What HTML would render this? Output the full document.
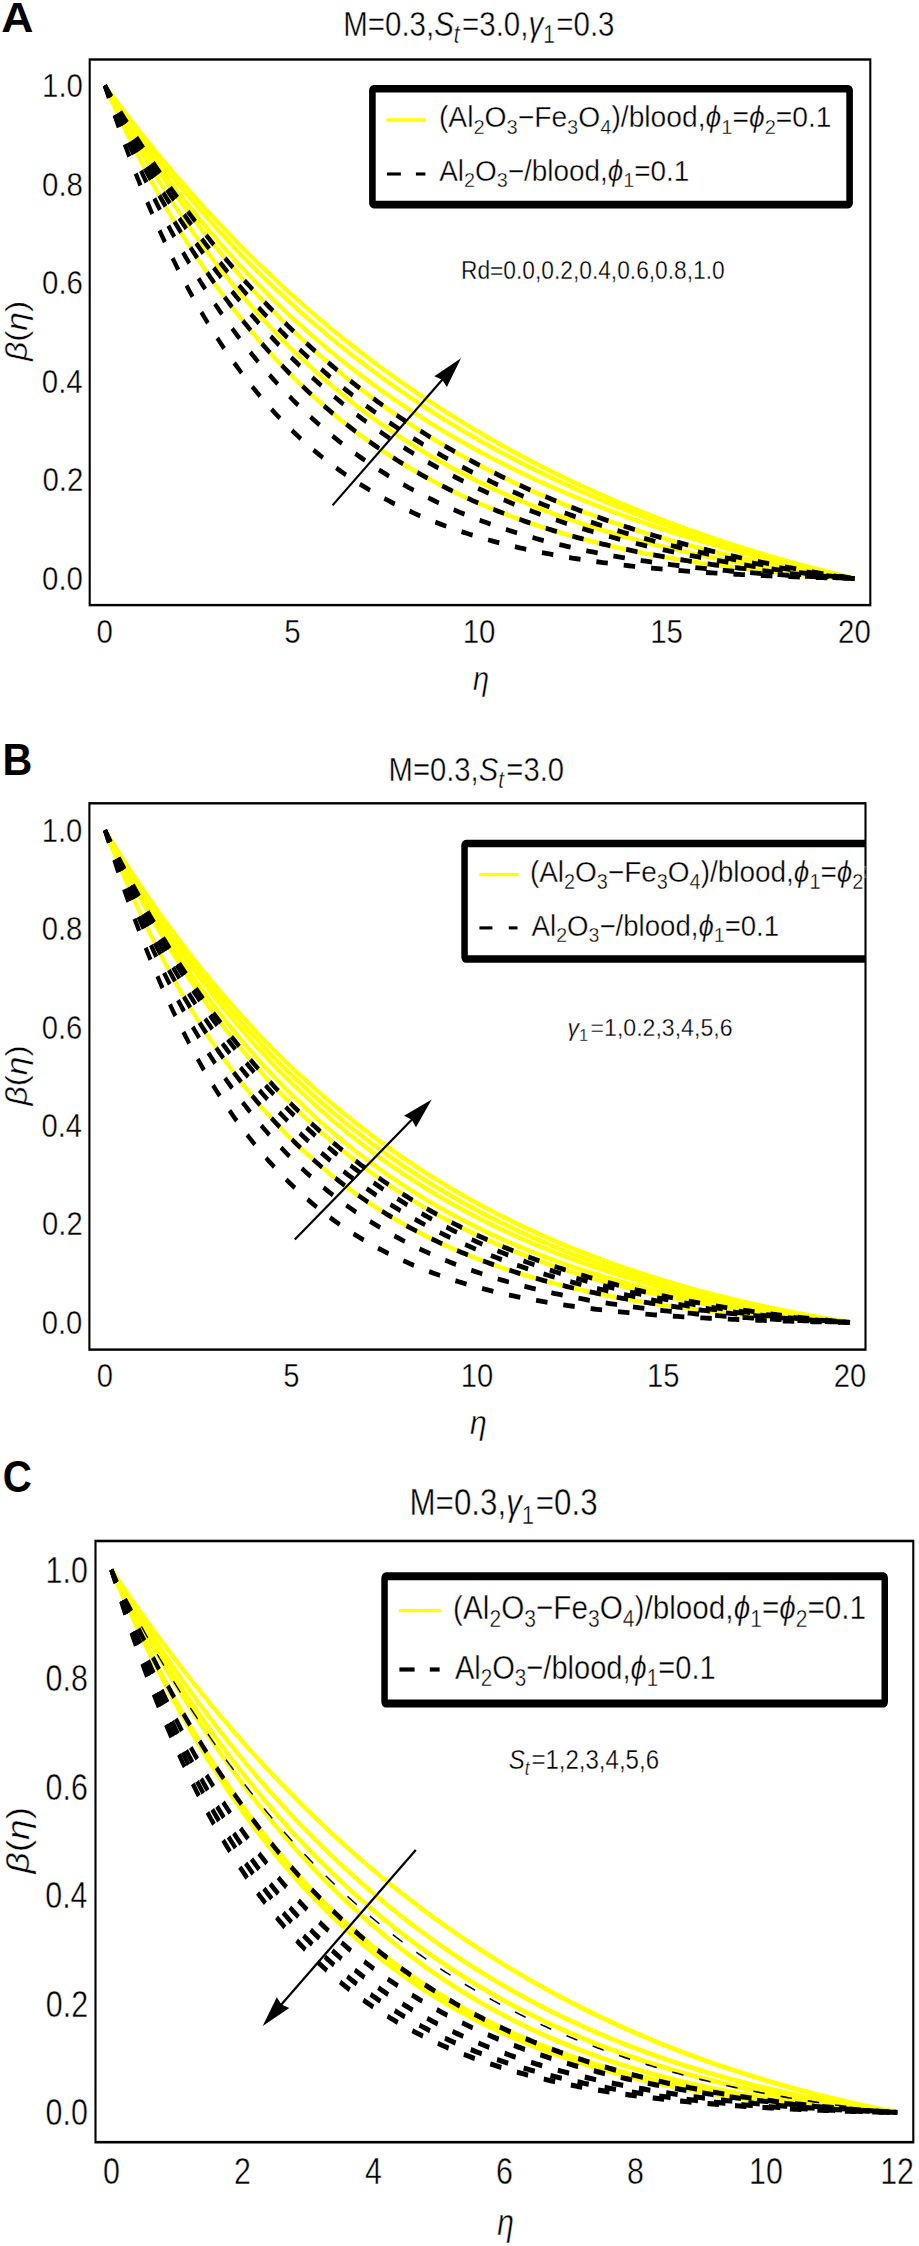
<!DOCTYPE html><html><head><meta charset="utf-8"><style>html,body{margin:0;padding:0;background:#fff;}svg{display:block;}</style></head><body><svg width="919" height="2246" viewBox="0 0 919 2246"><rect width="919" height="2246" fill="#fff"/><g transform="scale(1,1.15)"><clipPath id="clipA"><rect x="89.70" y="51.739" width="780.60" height="474.435"/></clipPath><g clip-path="url(#clipA)"><path d="M104.80,74.348 107.69,77.778 110.59,81.187 113.48,84.573 116.38,87.939 119.27,91.282 122.17,94.604 125.06,97.905 127.96,101.185 130.85,104.444 133.75,107.682 136.64,110.899 139.54,114.096 142.43,117.273 145.32,120.429 148.22,123.564 151.11,126.680 154.01,129.776 156.90,132.851 159.80,135.908 162.69,138.944 165.59,141.961 168.48,144.959 171.38,147.938 174.27,150.897 177.16,153.837 180.06,156.759 182.95,159.662 185.85,162.546 188.74,165.411 191.64,168.258 194.53,171.087 197.43,173.898 200.32,176.691 203.22,179.465 206.11,182.222 209.01,184.961 211.90,187.682 214.79,190.386 217.69,193.073 220.58,195.742 223.48,198.394 226.37,201.029 229.27,203.646 232.16,206.247 235.06,208.832 237.95,211.399 240.85,213.950 243.74,216.484 246.64,219.003 249.53,221.504 252.42,223.990 255.32,226.459 258.21,228.913 261.11,231.351 264.00,233.773 266.90,236.179 269.79,238.570 272.69,240.945 275.58,243.305 278.48,245.649 281.37,247.978 284.26,250.293 287.16,252.592 290.05,254.876 292.95,257.146 295.84,259.400 298.74,261.640 301.63,263.866 304.53,266.077 307.42,268.273 310.32,270.456 313.21,272.624 316.11,274.778 319.00,276.918 321.89,279.044 324.79,281.156 327.68,283.255 330.58,285.340 333.47,287.411 336.37,289.469 339.26,291.513 342.16,293.544 345.05,295.561 347.95,297.566 350.84,299.557 353.74,301.535 356.63,303.501 359.52,305.453 362.42,307.393 365.31,309.320 368.21,311.235 371.10,313.136 374.00,315.026 376.89,316.903 379.79,318.768 382.68,320.620 385.58,322.460 388.47,324.288 391.36,326.105 394.26,327.909 397.15,329.701 400.05,331.482 402.94,333.251 405.84,335.008 408.73,336.754 411.63,338.488 414.52,340.210 417.42,341.922 420.31,343.622 423.21,345.311 426.10,346.988 428.99,348.655 431.89,350.310 434.78,351.955 437.68,353.589 440.57,355.212 443.47,356.824 446.36,358.425 449.26,360.016 452.15,361.597 455.05,363.166 457.94,364.726 460.84,366.275 463.73,367.814 466.62,369.342 469.52,370.861 472.41,372.369 475.31,373.867 478.20,375.355 481.10,376.834 483.99,378.302 486.89,379.761 489.78,381.210 492.68,382.649 495.57,384.079 498.46,385.499 501.36,386.910 504.25,388.311 507.15,389.703 510.04,391.085 512.94,392.459 515.83,393.823 518.73,395.178 521.62,396.523 524.52,397.860 527.41,399.188 530.31,400.507 533.20,401.817 536.09,403.118 538.99,404.410 541.88,405.694 544.78,406.969 547.67,408.236 550.57,409.494 553.46,410.743 556.36,411.984 559.25,413.217 562.15,414.441 565.04,415.657 567.94,416.865 570.83,418.064 573.72,419.256 576.62,420.439 579.51,421.614 582.41,422.782 585.30,423.941 588.20,425.093 591.09,426.237 593.99,427.372 596.88,428.501 599.78,429.621 602.67,430.734 605.56,431.839 608.46,432.937 611.35,434.027 614.25,435.110 617.14,436.185 620.04,437.253 622.93,438.314 625.83,439.368 628.72,440.414 631.62,441.453 634.51,442.485 637.41,443.510 640.30,444.527 643.19,445.538 646.09,446.542 648.98,447.539 651.88,448.529 654.77,449.512 657.67,450.488 660.56,451.458 663.46,452.421 666.35,453.377 669.25,454.327 672.14,455.270 675.04,456.206 677.93,457.136 680.82,458.060 683.72,458.977 686.61,459.888 689.51,460.792 692.40,461.690 695.30,462.582 698.19,463.468 701.09,464.347 703.98,465.221 706.88,466.088 709.77,466.949 712.66,467.804 715.56,468.653 718.45,469.496 721.35,470.333 724.24,471.165 727.14,471.990 730.03,472.810 732.93,473.624 735.82,474.432 738.72,475.235 741.61,476.031 744.51,476.823 747.40,477.608 750.29,478.388 753.19,479.163 756.08,479.932 758.98,480.695 761.87,481.454 764.77,482.206 767.66,482.954 770.56,483.696 773.45,484.433 776.35,485.164 779.24,485.890 782.14,486.611 785.03,487.327 787.92,488.038 790.82,488.744 793.71,489.445 796.61,490.140 799.50,490.831 802.40,491.517 805.29,492.197 808.19,492.873 811.08,493.544 813.98,494.210 816.87,494.871 819.76,495.528 822.66,496.180 825.55,496.827 828.45,497.469 831.34,498.107 834.24,498.740 837.13,499.368 840.03,499.992 842.92,500.611 845.82,501.226 848.71,501.836 851.61,502.442 854.50,503.043" fill="none" stroke="#ffff00" stroke-width="4.0" stroke-linejoin="round"/><path d="M104.80,74.348 107.69,78.032 110.59,81.689 113.48,85.318 116.38,88.921 119.27,92.498 122.17,96.048 125.06,99.572 127.96,103.069 130.85,106.541 133.75,109.988 136.64,113.409 139.54,116.805 142.43,120.176 145.32,123.522 148.22,126.843 151.11,130.140 154.01,133.413 156.90,136.661 159.80,139.886 162.69,143.087 165.59,146.264 168.48,149.418 171.38,152.549 174.27,155.657 177.16,158.742 180.06,161.804 182.95,164.844 185.85,167.862 188.74,170.857 191.64,173.830 194.53,176.782 197.43,179.711 200.32,182.620 203.22,185.507 206.11,188.372 209.01,191.217 211.90,194.041 214.79,196.844 217.69,199.627 220.58,202.389 223.48,205.131 226.37,207.852 229.27,210.554 232.16,213.236 235.06,215.899 237.95,218.542 240.85,221.165 243.74,223.769 246.64,226.355 249.53,228.921 252.42,231.468 255.32,233.997 258.21,236.508 261.11,239.000 264.00,241.474 266.90,243.929 269.79,246.367 272.69,248.787 275.58,251.189 278.48,253.574 281.37,255.941 284.26,258.291 287.16,260.623 290.05,262.939 292.95,265.238 295.84,267.520 298.74,269.785 301.63,272.034 304.53,274.266 307.42,276.482 310.32,278.682 313.21,280.866 316.11,283.034 319.00,285.186 321.89,287.322 324.79,289.443 327.68,291.548 330.58,293.638 333.47,295.713 336.37,297.772 339.26,299.817 342.16,301.846 345.05,303.861 347.95,305.861 350.84,307.847 353.74,309.818 356.63,311.775 359.52,313.717 362.42,315.646 365.31,317.560 368.21,319.460 371.10,321.347 374.00,323.220 376.89,325.079 379.79,326.924 382.68,328.757 385.58,330.576 388.47,332.381 391.36,334.174 394.26,335.953 397.15,337.720 400.05,339.473 402.94,341.214 405.84,342.942 408.73,344.658 411.63,346.361 414.52,348.052 417.42,349.731 420.31,351.397 423.21,353.051 426.10,354.694 428.99,356.324 431.89,357.942 434.78,359.549 437.68,361.144 440.57,362.727 443.47,364.299 446.36,365.860 449.26,367.409 452.15,368.947 455.05,370.474 457.94,371.990 460.84,373.494 463.73,374.988 466.62,376.471 469.52,377.943 472.41,379.405 475.31,380.856 478.20,382.296 481.10,383.726 483.99,385.145 486.89,386.555 489.78,387.954 492.68,389.343 495.57,390.721 498.46,392.090 501.36,393.449 504.25,394.798 507.15,396.138 510.04,397.467 512.94,398.787 515.83,400.097 518.73,401.398 521.62,402.690 524.52,403.972 527.41,405.245 530.31,406.508 533.20,407.763 536.09,409.008 538.99,410.245 541.88,411.472 544.78,412.690 547.67,413.900 550.57,415.101 553.46,416.293 556.36,417.477 559.25,418.652 562.15,419.818 565.04,420.977 567.94,422.126 570.83,423.268 573.72,424.401 576.62,425.526 579.51,426.642 582.41,427.751 585.30,428.852 588.20,429.945 591.09,431.029 593.99,432.106 596.88,433.176 599.78,434.237 602.67,435.291 605.56,436.337 608.46,437.376 611.35,438.407 614.25,439.430 617.14,440.447 620.04,441.455 622.93,442.457 625.83,443.451 628.72,444.439 631.62,445.419 634.51,446.392 637.41,447.357 640.30,448.316 643.19,449.268 646.09,450.214 648.98,451.152 651.88,452.083 654.77,453.008 657.67,453.926 660.56,454.838 663.46,455.743 666.35,456.641 669.25,457.533 672.14,458.418 675.04,459.297 677.93,460.170 680.82,461.036 683.72,461.897 686.61,462.750 689.51,463.598 692.40,464.440 695.30,465.275 698.19,466.105 701.09,466.928 703.98,467.746 706.88,468.558 709.77,469.363 712.66,470.163 715.56,470.958 718.45,471.746 721.35,472.529 724.24,473.306 727.14,474.078 730.03,474.844 732.93,475.604 735.82,476.359 738.72,477.108 741.61,477.853 744.51,478.591 747.40,479.325 750.29,480.053 753.19,480.776 756.08,481.493 758.98,482.206 761.87,482.913 764.77,483.615 767.66,484.312 770.56,485.004 773.45,485.692 776.35,486.374 779.24,487.051 782.14,487.723 785.03,488.391 787.92,489.054 790.82,489.711 793.71,490.365 796.61,491.013 799.50,491.657 802.40,492.296 805.29,492.930 808.19,493.560 811.08,494.186 813.98,494.807 816.87,495.423 819.76,496.035 822.66,496.643 825.55,497.246 828.45,497.845 831.34,498.439 834.24,499.029 837.13,499.615 840.03,500.197 842.92,500.775 845.82,501.348 848.71,501.917 851.61,502.482 854.50,503.043" fill="none" stroke="#ffff00" stroke-width="4.0" stroke-linejoin="round"/><path d="M104.80,74.348 107.69,78.409 110.59,82.435 113.48,86.426 116.38,90.382 119.27,94.303 122.17,98.190 125.06,102.043 127.96,105.862 130.85,109.648 133.75,113.400 136.64,117.121 139.54,120.808 142.43,124.464 145.32,128.088 148.22,131.680 151.11,135.241 154.01,138.771 156.90,142.270 159.80,145.739 162.69,149.178 165.59,152.587 168.48,155.967 171.38,159.317 174.27,162.638 177.16,165.930 180.06,169.194 182.95,172.430 185.85,175.638 188.74,178.818 191.64,181.971 194.53,185.097 197.43,188.195 200.32,191.267 203.22,194.312 206.11,197.332 209.01,200.325 211.90,203.292 214.79,206.235 217.69,209.151 220.58,212.043 223.48,214.910 226.37,217.752 229.27,220.571 232.16,223.364 235.06,226.134 237.95,228.881 240.85,231.604 243.74,234.303 246.64,236.980 249.53,239.634 252.42,242.265 255.32,244.873 258.21,247.460 261.11,250.024 264.00,252.567 266.90,255.088 269.79,257.588 272.69,260.066 275.58,262.523 278.48,264.960 281.37,267.376 284.26,269.771 287.16,272.146 290.05,274.501 292.95,276.836 295.84,279.151 298.74,281.447 301.63,283.724 304.53,285.981 307.42,288.219 310.32,290.438 313.21,292.639 316.11,294.821 319.00,296.985 321.89,299.130 324.79,301.258 327.68,303.367 330.58,305.459 333.47,307.534 336.37,309.591 339.26,311.630 342.16,313.653 345.05,315.659 347.95,317.648 350.84,319.620 353.74,321.576 356.63,323.516 359.52,325.439 362.42,327.347 365.31,329.238 368.21,331.114 371.10,332.974 374.00,334.819 376.89,336.648 379.79,338.462 382.68,340.261 385.58,342.045 388.47,343.815 391.36,345.570 394.26,347.310 397.15,349.036 400.05,350.747 402.94,352.445 405.84,354.128 408.73,355.797 411.63,357.453 414.52,359.095 417.42,360.724 420.31,362.339 423.21,363.941 426.10,365.530 428.99,367.105 431.89,368.668 434.78,370.218 437.68,371.755 440.57,373.280 443.47,374.792 446.36,376.292 449.26,377.779 452.15,379.255 455.05,380.718 457.94,382.169 460.84,383.609 463.73,385.037 466.62,386.453 469.52,387.857 472.41,389.251 475.31,390.633 478.20,392.003 481.10,393.363 483.99,394.712 486.89,396.049 489.78,397.376 492.68,398.692 495.57,399.998 498.46,401.293 501.36,402.577 504.25,403.851 507.15,405.115 510.04,406.369 512.94,407.612 515.83,408.846 518.73,410.069 521.62,411.283 524.52,412.487 527.41,413.682 530.31,414.867 533.20,416.042 536.09,417.208 538.99,418.365 541.88,419.512 544.78,420.650 547.67,421.780 550.57,422.900 553.46,424.011 556.36,425.113 559.25,426.207 562.15,427.292 565.04,428.369 567.94,429.436 570.83,430.496 573.72,431.547 576.62,432.589 579.51,433.624 582.41,434.650 585.30,435.668 588.20,436.679 591.09,437.681 593.99,438.675 596.88,439.662 599.78,440.640 602.67,441.611 605.56,442.575 608.46,443.531 611.35,444.479 614.25,445.420 617.14,446.354 620.04,447.280 622.93,448.199 625.83,449.111 628.72,450.016 631.62,450.914 634.51,451.805 637.41,452.689 640.30,453.566 643.19,454.436 646.09,455.300 648.98,456.157 651.88,457.007 654.77,457.851 657.67,458.688 660.56,459.519 663.46,460.343 666.35,461.161 669.25,461.973 672.14,462.778 675.04,463.578 677.93,464.371 680.82,465.158 683.72,465.939 686.61,466.714 689.51,467.483 692.40,468.247 695.30,469.004 698.19,469.756 701.09,470.502 703.98,471.243 706.88,471.978 709.77,472.707 712.66,473.431 715.56,474.149 718.45,474.862 721.35,475.569 724.24,476.272 727.14,476.969 730.03,477.660 732.93,478.347 735.82,479.028 738.72,479.704 741.61,480.376 744.51,481.042 747.40,481.703 750.29,482.359 753.19,483.011 756.08,483.657 758.98,484.299 761.87,484.936 764.77,485.569 767.66,486.196 770.56,486.819 773.45,487.438 776.35,488.052 779.24,488.661 782.14,489.266 785.03,489.866 787.92,490.463 790.82,491.054 793.71,491.642 796.61,492.225 799.50,492.804 802.40,493.378 805.29,493.949 808.19,494.515 811.08,495.078 813.98,495.636 816.87,496.190 819.76,496.740 822.66,497.286 825.55,497.829 828.45,498.367 831.34,498.902 834.24,499.432 837.13,499.959 840.03,500.483 842.92,501.002 845.82,501.518 848.71,502.030 851.61,502.539 854.50,503.043" fill="none" stroke="#ffff00" stroke-width="4.0" stroke-linejoin="round"/><path d="M104.80,74.348 107.69,78.661 110.59,82.936 113.48,87.173 116.38,91.372 119.27,95.533 122.17,99.657 125.06,103.744 127.96,107.794 130.85,111.809 133.75,115.787 136.64,119.729 139.54,123.636 142.43,127.508 145.32,131.346 148.22,135.149 151.11,138.918 154.01,142.653 156.90,146.354 159.80,150.022 162.69,153.658 165.59,157.261 168.48,160.831 171.38,164.369 174.27,167.876 177.16,171.351 180.06,174.795 182.95,178.208 185.85,181.590 188.74,184.942 191.64,188.264 194.53,191.556 197.43,194.818 200.32,198.051 203.22,201.254 206.11,204.429 209.01,207.576 211.90,210.694 214.79,213.784 217.69,216.846 220.58,219.880 223.48,222.888 226.37,225.868 229.27,228.821 232.16,231.748 235.06,234.648 237.95,237.522 240.85,240.370 243.74,243.192 246.64,245.989 249.53,248.761 252.42,251.507 255.32,254.229 258.21,256.926 261.11,259.599 264.00,262.248 266.90,264.873 269.79,267.474 272.69,270.051 275.58,272.605 278.48,275.136 281.37,277.644 284.26,280.129 287.16,282.592 290.05,285.033 292.95,287.451 295.84,289.847 298.74,292.222 301.63,294.575 304.53,296.907 307.42,299.218 310.32,301.507 313.21,303.776 316.11,306.024 319.00,308.252 321.89,310.460 324.79,312.647 327.68,314.815 330.58,316.962 333.47,319.091 336.37,321.199 339.26,323.289 342.16,325.360 345.05,327.411 347.95,329.444 350.84,331.459 353.74,333.455 356.63,335.433 359.52,337.392 362.42,339.334 365.31,341.258 368.21,343.165 371.10,345.054 374.00,346.926 376.89,348.780 379.79,350.618 382.68,352.439 385.58,354.243 388.47,356.031 391.36,357.802 394.26,359.557 397.15,361.296 400.05,363.019 402.94,364.726 405.84,366.417 408.73,368.093 411.63,369.753 414.52,371.398 417.42,373.028 420.31,374.643 423.21,376.243 426.10,377.829 428.99,379.399 431.89,380.955 434.78,382.497 437.68,384.025 440.57,385.538 443.47,387.038 446.36,388.523 449.26,389.995 452.15,391.454 455.05,392.898 457.94,394.330 460.84,395.748 463.73,397.153 466.62,398.545 469.52,399.924 472.41,401.290 475.31,402.643 478.20,403.984 481.10,405.312 483.99,406.628 486.89,407.932 489.78,409.224 492.68,410.503 495.57,411.771 498.46,413.027 501.36,414.271 504.25,415.503 507.15,416.724 510.04,417.934 512.94,419.132 515.83,420.319 518.73,421.494 521.62,422.659 524.52,423.813 527.41,424.956 530.31,426.088 533.20,427.210 536.09,428.321 538.99,429.422 541.88,430.512 544.78,431.592 547.67,432.662 550.57,433.721 553.46,434.771 556.36,435.811 559.25,436.841 562.15,437.861 565.04,438.871 567.94,439.872 570.83,440.864 573.72,441.846 576.62,442.818 579.51,443.782 582.41,444.736 585.30,445.681 588.20,446.618 591.09,447.545 593.99,448.463 596.88,449.373 599.78,450.274 602.67,451.166 605.56,452.050 608.46,452.926 611.35,453.793 614.25,454.651 617.14,455.502 620.04,456.344 622.93,457.178 625.83,458.004 628.72,458.823 631.62,459.633 634.51,460.435 637.41,461.230 640.30,462.017 643.19,462.797 646.09,463.569 648.98,464.333 651.88,465.090 654.77,465.840 657.67,466.582 660.56,467.317 663.46,468.045 666.35,468.766 669.25,469.480 672.14,470.187 675.04,470.887 677.93,471.580 680.82,472.267 683.72,472.947 686.61,473.620 689.51,474.286 692.40,474.946 695.30,475.599 698.19,476.246 701.09,476.887 703.98,477.521 706.88,478.149 709.77,478.771 712.66,479.387 715.56,479.996 718.45,480.600 721.35,481.197 724.24,481.789 727.14,482.375 730.03,482.955 732.93,483.529 735.82,484.097 738.72,484.660 741.61,485.217 744.51,485.768 747.40,486.314 750.29,486.855 753.19,487.390 756.08,487.920 758.98,488.444 761.87,488.963 764.77,489.477 767.66,489.985 770.56,490.489 773.45,490.987 776.35,491.481 779.24,491.969 782.14,492.452 785.03,492.931 787.92,493.404 790.82,493.873 793.71,494.337 796.61,494.796 799.50,495.250 802.40,495.700 805.29,496.145 808.19,496.586 811.08,497.022 813.98,497.453 816.87,497.880 819.76,498.303 822.66,498.721 825.55,499.135 828.45,499.545 831.34,499.950 834.24,500.351 837.13,500.748 840.03,501.141 842.92,501.529 845.82,501.914 848.71,502.294 851.61,502.671 854.50,503.043" fill="none" stroke="#ffff00" stroke-width="4.0" stroke-linejoin="round"/><path d="M104.80,74.348 107.69,79.210 110.59,84.021 113.48,88.783 116.38,93.494 119.27,98.157 122.17,102.771 125.06,107.337 127.96,111.855 130.85,116.326 133.75,120.751 136.64,125.129 139.54,129.462 142.43,133.749 145.32,137.992 148.22,142.190 151.11,146.345 154.01,150.456 156.90,154.524 159.80,158.550 162.69,162.534 165.59,166.476 168.48,170.377 171.38,174.237 174.27,178.057 177.16,181.836 180.06,185.577 182.95,189.278 185.85,192.940 188.74,196.564 191.64,200.151 194.53,203.699 197.43,207.211 200.32,210.685 203.22,214.124 206.11,217.526 209.01,220.892 211.90,224.224 214.79,227.520 217.69,230.782 220.58,234.009 223.48,237.203 226.37,240.363 229.27,243.490 232.16,246.584 235.06,249.646 237.95,252.676 240.85,255.673 243.74,258.640 246.64,261.575 249.53,264.479 252.42,267.352 255.32,270.196 258.21,273.009 261.11,275.793 264.00,278.547 266.90,281.273 269.79,283.969 272.69,286.638 275.58,289.278 278.48,291.890 281.37,294.475 284.26,297.033 287.16,299.563 290.05,302.067 292.95,304.544 295.84,306.996 298.74,309.421 301.63,311.820 304.53,314.195 307.42,316.544 310.32,318.868 313.21,321.168 316.11,323.443 319.00,325.694 321.89,327.922 324.79,330.125 327.68,332.306 330.58,334.463 333.47,336.597 336.37,338.709 339.26,340.798 342.16,342.865 345.05,344.911 347.95,346.934 350.84,348.936 353.74,350.916 356.63,352.876 359.52,354.814 362.42,356.732 365.31,358.630 368.21,360.507 371.10,362.364 374.00,364.202 376.89,366.019 379.79,367.818 382.68,369.597 385.58,371.357 388.47,373.098 391.36,374.821 394.26,376.525 397.15,378.211 400.05,379.879 402.94,381.529 405.84,383.162 408.73,384.776 411.63,386.374 414.52,387.954 417.42,389.518 420.31,391.064 423.21,392.594 426.10,394.108 428.99,395.605 431.89,397.086 434.78,398.551 437.68,400.000 440.57,401.434 443.47,402.852 446.36,404.255 449.26,405.642 452.15,407.015 455.05,408.373 457.94,409.716 460.84,411.044 463.73,412.359 466.62,413.658 469.52,414.944 472.41,416.216 475.31,417.474 478.20,418.718 481.10,419.949 483.99,421.167 486.89,422.371 489.78,423.562 492.68,424.740 495.57,425.905 498.46,427.057 501.36,428.197 504.25,429.325 507.15,430.440 510.04,431.543 512.94,432.633 515.83,433.712 518.73,434.779 521.62,435.834 524.52,436.878 527.41,437.910 530.31,438.931 533.20,439.941 536.09,440.939 538.99,441.926 541.88,442.903 544.78,443.869 547.67,444.824 550.57,445.768 553.46,446.702 556.36,447.626 559.25,448.540 562.15,449.443 565.04,450.336 567.94,451.220 570.83,452.093 573.72,452.957 576.62,453.811 579.51,454.656 582.41,455.491 585.30,456.317 588.20,457.134 591.09,457.941 593.99,458.740 596.88,459.529 599.78,460.310 602.67,461.082 605.56,461.845 608.46,462.600 611.35,463.346 614.25,464.084 617.14,464.813 620.04,465.534 622.93,466.247 625.83,466.952 628.72,467.649 631.62,468.338 634.51,469.020 637.41,469.693 640.30,470.359 643.19,471.017 646.09,471.668 648.98,472.311 651.88,472.947 654.77,473.576 657.67,474.198 660.56,474.812 663.46,475.419 666.35,476.020 669.25,476.613 672.14,477.200 675.04,477.780 677.93,478.353 680.82,478.919 683.72,479.479 686.61,480.033 689.51,480.580 692.40,481.121 695.30,481.655 698.19,482.183 701.09,482.705 703.98,483.221 706.88,483.731 709.77,484.235 712.66,484.733 715.56,485.226 718.45,485.712 721.35,486.193 724.24,486.668 727.14,487.137 730.03,487.601 732.93,488.060 735.82,488.513 738.72,488.960 741.61,489.403 744.51,489.840 747.40,490.271 750.29,490.698 753.19,491.120 756.08,491.536 758.98,491.948 761.87,492.354 764.77,492.756 767.66,493.153 770.56,493.545 773.45,493.933 776.35,494.315 779.24,494.693 782.14,495.067 785.03,495.436 787.92,495.800 790.82,496.160 793.71,496.516 796.61,496.867 799.50,497.214 802.40,497.556 805.29,497.895 808.19,498.229 811.08,498.559 813.98,498.885 816.87,499.207 819.76,499.525 822.66,499.839 825.55,500.149 828.45,500.455 831.34,500.758 834.24,501.056 837.13,501.351 840.03,501.642 842.92,501.930 845.82,502.213 848.71,502.494 851.61,502.770 854.50,503.043" fill="none" stroke="#ffff00" stroke-width="4.0" stroke-linejoin="round"/><path d="M104.80,74.348 107.69,80.003 110.59,85.588 113.48,91.105 116.38,96.553 119.27,101.934 122.17,107.249 125.06,112.498 127.96,117.682 130.85,122.802 133.75,127.859 136.64,132.854 139.54,137.786 142.43,142.658 145.32,147.469 148.22,152.221 151.11,156.914 154.01,161.548 156.90,166.125 159.80,170.646 162.69,175.110 165.59,179.519 168.48,183.874 171.38,188.174 174.27,192.421 177.16,196.615 180.06,200.757 182.95,204.848 185.85,208.887 188.74,212.876 191.64,216.816 194.53,220.707 197.43,224.549 200.32,228.343 203.22,232.090 206.11,235.790 209.01,239.445 211.90,243.053 214.79,246.616 217.69,250.135 220.58,253.610 223.48,257.042 226.37,260.430 229.27,263.776 232.16,267.081 235.06,270.344 237.95,273.566 240.85,276.747 243.74,279.889 246.64,282.991 249.53,286.055 252.42,289.080 255.32,292.067 258.21,295.016 261.11,297.928 264.00,300.804 266.90,303.643 269.79,306.447 272.69,309.215 275.58,311.949 278.48,314.648 281.37,317.313 284.26,319.944 287.16,322.542 290.05,325.107 292.95,327.640 295.84,330.141 298.74,332.610 301.63,335.048 304.53,337.455 307.42,339.831 310.32,342.177 313.21,344.494 316.11,346.781 319.00,349.039 321.89,351.268 324.79,353.469 327.68,355.642 330.58,357.788 333.47,359.906 336.37,361.996 339.26,364.061 342.16,366.099 345.05,368.111 347.95,370.097 350.84,372.058 353.74,373.993 356.63,375.904 359.52,377.791 362.42,379.653 365.31,381.491 368.21,383.306 371.10,385.097 374.00,386.866 376.89,388.611 379.79,390.335 382.68,392.036 385.58,393.715 388.47,395.372 391.36,397.008 394.26,398.623 397.15,400.217 400.05,401.790 402.94,403.343 405.84,404.876 408.73,406.389 411.63,407.883 414.52,409.357 417.42,410.812 420.31,412.248 423.21,413.665 426.10,415.064 428.99,416.444 431.89,417.807 434.78,419.152 437.68,420.479 440.57,421.789 443.47,423.082 446.36,424.357 449.26,425.616 452.15,426.859 455.05,428.085 457.94,429.295 460.84,430.490 463.73,431.668 466.62,432.831 469.52,433.979 472.41,435.111 475.31,436.229 478.20,437.332 481.10,438.420 483.99,439.494 486.89,440.553 489.78,441.598 492.68,442.630 495.57,443.648 498.46,444.652 501.36,445.643 504.25,446.621 507.15,447.585 510.04,448.537 512.94,449.476 515.83,450.403 518.73,451.317 521.62,452.219 524.52,453.108 527.41,453.986 530.31,454.852 533.20,455.706 536.09,456.549 538.99,457.380 541.88,458.200 544.78,459.009 547.67,459.807 550.57,460.594 553.46,461.371 556.36,462.137 559.25,462.892 562.15,463.637 565.04,464.372 567.94,465.097 570.83,465.812 573.72,466.518 576.62,467.213 579.51,467.899 582.41,468.576 585.30,469.243 588.20,469.901 591.09,470.550 593.99,471.191 596.88,471.822 599.78,472.444 602.67,473.058 605.56,473.663 608.46,474.260 611.35,474.849 614.25,475.429 617.14,476.001 620.04,476.565 622.93,477.122 625.83,477.670 628.72,478.211 631.62,478.744 634.51,479.270 637.41,479.788 640.30,480.299 643.19,480.803 646.09,481.299 648.98,481.789 651.88,482.271 654.77,482.747 657.67,483.216 660.56,483.678 663.46,484.133 666.35,484.582 669.25,485.025 672.14,485.461 675.04,485.891 677.93,486.314 680.82,486.732 683.72,487.143 686.61,487.549 689.51,487.948 692.40,488.342 695.30,488.730 698.19,489.112 701.09,489.489 703.98,489.860 706.88,490.226 709.77,490.586 712.66,490.941 715.56,491.291 718.45,491.635 721.35,491.975 724.24,492.309 727.14,492.639 730.03,492.963 732.93,493.282 735.82,493.597 738.72,493.907 741.61,494.213 744.51,494.513 747.40,494.809 750.29,495.101 753.19,495.388 756.08,495.671 758.98,495.950 761.87,496.224 764.77,496.494 767.66,496.760 770.56,497.021 773.45,497.279 776.35,497.533 779.24,497.782 782.14,498.028 785.03,498.270 787.92,498.508 790.82,498.743 793.71,498.973 796.61,499.200 799.50,499.424 802.40,499.644 805.29,499.860 808.19,500.073 811.08,500.282 813.98,500.489 816.87,500.691 819.76,500.891 822.66,501.087 825.55,501.280 828.45,501.470 831.34,501.657 834.24,501.840 837.13,502.021 840.03,502.199 842.92,502.373 845.82,502.545 848.71,502.714 851.61,502.880 854.50,503.043" fill="none" stroke="#ffff00" stroke-width="4.0" stroke-linejoin="round"/><path d="M104.80,74.348 107.69,78.661 110.59,82.936 113.48,87.173 116.38,91.372 119.27,95.533 122.17,99.657 125.06,103.744 127.96,107.794 130.85,111.809 133.75,115.787 136.64,119.729 139.54,123.636 142.43,127.508 145.32,131.346 148.22,135.149 151.11,138.918 154.01,142.653 156.90,146.354 159.80,150.022 162.69,153.658 165.59,157.261 168.48,160.831 171.38,164.369 174.27,167.876 177.16,171.351 180.06,174.795 182.95,178.208 185.85,181.590 188.74,184.942 191.64,188.264 194.53,191.556 197.43,194.818 200.32,198.051 203.22,201.254 206.11,204.429 209.01,207.576 211.90,210.694 214.79,213.784 217.69,216.846 220.58,219.880 223.48,222.888 226.37,225.868 229.27,228.821 232.16,231.748 235.06,234.648 237.95,237.522 240.85,240.370 243.74,243.192 246.64,245.989 249.53,248.761 252.42,251.507 255.32,254.229 258.21,256.926 261.11,259.599 264.00,262.248 266.90,264.873 269.79,267.474 272.69,270.051 275.58,272.605 278.48,275.136 281.37,277.644 284.26,280.129 287.16,282.592 290.05,285.033 292.95,287.451 295.84,289.847 298.74,292.222 301.63,294.575 304.53,296.907 307.42,299.218 310.32,301.507 313.21,303.776 316.11,306.024 319.00,308.252 321.89,310.460 324.79,312.647 327.68,314.815 330.58,316.962 333.47,319.091 336.37,321.199 339.26,323.289 342.16,325.360 345.05,327.411 347.95,329.444 350.84,331.459 353.74,333.455 356.63,335.433 359.52,337.392 362.42,339.334 365.31,341.258 368.21,343.165 371.10,345.054 374.00,346.926 376.89,348.780 379.79,350.618 382.68,352.439 385.58,354.243 388.47,356.031 391.36,357.802 394.26,359.557 397.15,361.296 400.05,363.019 402.94,364.726 405.84,366.417 408.73,368.093 411.63,369.753 414.52,371.398 417.42,373.028 420.31,374.643 423.21,376.243 426.10,377.829 428.99,379.399 431.89,380.955 434.78,382.497 437.68,384.025 440.57,385.538 443.47,387.038 446.36,388.523 449.26,389.995 452.15,391.454 455.05,392.898 457.94,394.330 460.84,395.748 463.73,397.153 466.62,398.545 469.52,399.924 472.41,401.290 475.31,402.643 478.20,403.984 481.10,405.312 483.99,406.628 486.89,407.932 489.78,409.224 492.68,410.503 495.57,411.771 498.46,413.027 501.36,414.271 504.25,415.503 507.15,416.724 510.04,417.934 512.94,419.132 515.83,420.319 518.73,421.494 521.62,422.659 524.52,423.813 527.41,424.956 530.31,426.088 533.20,427.210 536.09,428.321 538.99,429.422 541.88,430.512 544.78,431.592 547.67,432.662 550.57,433.721 553.46,434.771 556.36,435.811 559.25,436.841 562.15,437.861 565.04,438.871 567.94,439.872 570.83,440.864 573.72,441.846 576.62,442.818 579.51,443.782 582.41,444.736 585.30,445.681 588.20,446.618 591.09,447.545 593.99,448.463 596.88,449.373 599.78,450.274 602.67,451.166 605.56,452.050 608.46,452.926 611.35,453.793 614.25,454.651 617.14,455.502 620.04,456.344 622.93,457.178 625.83,458.004 628.72,458.823 631.62,459.633 634.51,460.435 637.41,461.230 640.30,462.017 643.19,462.797 646.09,463.569 648.98,464.333 651.88,465.090 654.77,465.840 657.67,466.582 660.56,467.317 663.46,468.045 666.35,468.766 669.25,469.480 672.14,470.187 675.04,470.887 677.93,471.580 680.82,472.267 683.72,472.947 686.61,473.620 689.51,474.286 692.40,474.946 695.30,475.599 698.19,476.246 701.09,476.887 703.98,477.521 706.88,478.149 709.77,478.771 712.66,479.387 715.56,479.996 718.45,480.600 721.35,481.197 724.24,481.789 727.14,482.375 730.03,482.955 732.93,483.529 735.82,484.097 738.72,484.660 741.61,485.217 744.51,485.768 747.40,486.314 750.29,486.855 753.19,487.390 756.08,487.920 758.98,488.444 761.87,488.963 764.77,489.477 767.66,489.985 770.56,490.489 773.45,490.987 776.35,491.481 779.24,491.969 782.14,492.452 785.03,492.931 787.92,493.404 790.82,493.873 793.71,494.337 796.61,494.796 799.50,495.250 802.40,495.700 805.29,496.145 808.19,496.586 811.08,497.022 813.98,497.453 816.87,497.880 819.76,498.303 822.66,498.721 825.55,499.135 828.45,499.545 831.34,499.950 834.24,500.351 837.13,500.748 840.03,501.141 842.92,501.529 845.82,501.914 848.71,502.294 851.61,502.671 854.50,503.043" fill="none" stroke="#000" stroke-width="4.2" stroke-dasharray="11.5 16" stroke-linejoin="round"/><path d="M104.80,74.348 107.69,79.009 110.59,83.624 113.48,88.194 116.38,92.718 119.27,97.197 122.17,101.631 125.06,106.022 127.96,110.369 130.85,114.672 133.75,118.933 136.64,123.152 139.54,127.329 142.43,131.464 145.32,135.558 148.22,139.611 151.11,143.624 154.01,147.597 156.90,151.531 159.80,155.425 162.69,159.281 165.59,163.098 168.48,166.878 171.38,170.620 174.27,174.324 177.16,177.992 180.06,181.623 182.95,185.218 185.85,188.777 188.74,192.301 191.64,195.790 194.53,199.244 197.43,202.663 200.32,206.049 203.22,209.401 206.11,212.719 209.01,216.004 211.90,219.257 214.79,222.477 217.69,225.665 220.58,228.821 223.48,231.946 226.37,235.039 229.27,238.102 232.16,241.134 235.06,244.135 237.95,247.107 240.85,250.049 243.74,252.962 246.64,255.846 249.53,258.700 252.42,261.527 255.32,264.325 258.21,267.095 261.11,269.837 264.00,272.552 266.90,275.240 269.79,277.900 272.69,280.535 275.58,283.142 278.48,285.724 281.37,288.280 284.26,290.810 287.16,293.315 290.05,295.795 292.95,298.250 295.84,300.680 298.74,303.086 301.63,305.468 304.53,307.826 307.42,310.160 310.32,312.471 313.21,314.758 316.11,317.023 319.00,319.265 321.89,321.484 324.79,323.681 327.68,325.856 330.58,328.009 333.47,330.140 336.37,332.250 339.26,334.338 342.16,336.406 345.05,338.453 347.95,340.479 350.84,342.485 353.74,344.470 356.63,346.435 359.52,348.381 362.42,350.307 365.31,352.213 368.21,354.101 371.10,355.969 374.00,357.818 376.89,359.649 379.79,361.461 382.68,363.255 385.58,365.030 388.47,366.788 391.36,368.528 394.26,370.250 397.15,371.955 400.05,373.642 402.94,375.312 405.84,376.966 408.73,378.602 411.63,380.222 414.52,381.826 417.42,383.413 420.31,384.984 423.21,386.539 426.10,388.078 428.99,389.602 431.89,391.110 434.78,392.603 437.68,394.080 440.57,395.543 443.47,396.990 446.36,398.423 449.26,399.841 452.15,401.244 455.05,402.634 457.94,404.009 460.84,405.370 463.73,406.717 466.62,408.050 469.52,409.370 472.41,410.676 475.31,411.968 478.20,413.248 481.10,414.514 483.99,415.767 486.89,417.008 489.78,418.235 492.68,419.450 495.57,420.653 498.46,421.843 501.36,423.021 504.25,424.186 507.15,425.340 510.04,426.482 512.94,427.612 515.83,428.730 518.73,429.837 521.62,430.932 524.52,432.016 527.41,433.089 530.31,434.150 533.20,435.201 536.09,436.241 538.99,437.269 541.88,438.288 544.78,439.295 547.67,440.292 550.57,441.279 553.46,442.256 556.36,443.222 559.25,444.178 562.15,445.124 565.04,446.061 567.94,446.987 570.83,447.904 573.72,448.811 576.62,449.709 579.51,450.598 582.41,451.477 585.30,452.347 588.20,453.207 591.09,454.059 593.99,454.902 596.88,455.735 599.78,456.560 602.67,457.377 605.56,458.184 608.46,458.984 611.35,459.774 614.25,460.557 617.14,461.331 620.04,462.097 622.93,462.855 625.83,463.604 628.72,464.346 631.62,465.080 634.51,465.806 637.41,466.525 640.30,467.235 643.19,467.938 646.09,468.634 648.98,469.322 651.88,470.003 654.77,470.677 657.67,471.343 660.56,472.002 663.46,472.654 666.35,473.299 669.25,473.938 672.14,474.569 675.04,475.194 677.93,475.811 680.82,476.422 683.72,477.027 686.61,477.625 689.51,478.216 692.40,478.801 695.30,479.380 698.19,479.953 701.09,480.519 703.98,481.079 706.88,481.633 709.77,482.181 712.66,482.723 715.56,483.259 718.45,483.789 721.35,484.313 724.24,484.832 727.14,485.345 730.03,485.852 732.93,486.354 735.82,486.850 738.72,487.341 741.61,487.826 744.51,488.306 747.40,488.780 750.29,489.250 753.19,489.714 756.08,490.173 758.98,490.626 761.87,491.075 764.77,491.519 767.66,491.958 770.56,492.392 773.45,492.821 776.35,493.245 779.24,493.664 782.14,494.079 785.03,494.489 787.92,494.895 790.82,495.296 793.71,495.692 796.61,496.084 799.50,496.471 802.40,496.854 805.29,497.233 808.19,497.607 811.08,497.977 813.98,498.343 816.87,498.705 819.76,499.062 822.66,499.416 825.55,499.765 828.45,500.110 831.34,500.452 834.24,500.789 837.13,501.123 840.03,501.452 842.92,501.778 845.82,502.100 848.71,502.418 851.61,502.733 854.50,503.043" fill="none" stroke="#000" stroke-width="4.2" stroke-dasharray="11.5 16" stroke-linejoin="round"/><path d="M104.80,74.348 107.69,79.486 110.59,84.566 113.48,89.589 116.38,94.556 119.27,99.467 122.17,104.324 125.06,109.125 127.96,113.873 130.85,118.568 133.75,123.210 136.64,127.799 139.54,132.338 142.43,136.825 145.32,141.262 148.22,145.649 151.11,149.987 154.01,154.277 156.90,158.518 159.80,162.711 162.69,166.858 165.59,170.958 168.48,175.012 171.38,179.020 174.27,182.984 177.16,186.902 180.06,190.777 182.95,194.609 185.85,198.397 188.74,202.143 191.64,205.846 194.53,209.508 197.43,213.129 200.32,216.709 203.22,220.249 206.11,223.749 209.01,227.210 211.90,230.632 214.79,234.015 217.69,237.360 220.58,240.668 223.48,243.938 226.37,247.172 229.27,250.369 232.16,253.530 235.06,256.656 237.95,259.746 240.85,262.802 243.74,265.823 246.64,268.810 249.53,271.764 252.42,274.684 255.32,277.572 258.21,280.426 261.11,283.249 264.00,286.040 266.90,288.799 269.79,291.527 272.69,294.224 275.58,296.891 278.48,299.528 281.37,302.135 284.26,304.713 287.16,307.261 290.05,309.781 292.95,312.272 295.84,314.735 298.74,317.171 301.63,319.578 304.53,321.959 307.42,324.312 310.32,326.639 313.21,328.940 316.11,331.214 319.00,333.463 321.89,335.686 324.79,337.884 327.68,340.057 330.58,342.206 333.47,344.330 336.37,346.430 339.26,348.507 342.16,350.559 345.05,352.589 347.95,354.595 350.84,356.579 353.74,358.540 356.63,360.479 359.52,362.395 362.42,364.290 365.31,366.164 368.21,368.016 371.10,369.847 374.00,371.657 376.89,373.446 379.79,375.215 382.68,376.964 385.58,378.693 388.47,380.403 391.36,382.092 394.26,383.763 397.15,385.414 400.05,387.047 402.94,388.661 405.84,390.256 408.73,391.833 411.63,393.393 414.52,394.934 417.42,396.458 420.31,397.964 423.21,399.453 426.10,400.925 428.99,402.380 431.89,403.818 434.78,405.240 437.68,406.646 440.57,408.035 443.47,409.408 446.36,410.766 449.26,412.108 452.15,413.435 455.05,414.746 457.94,416.042 460.84,417.323 463.73,418.590 466.62,419.842 469.52,421.079 472.41,422.302 475.31,423.511 478.20,424.706 481.10,425.887 483.99,427.055 486.89,428.209 489.78,429.349 492.68,430.477 495.57,431.591 498.46,432.693 501.36,433.781 504.25,434.857 507.15,435.921 510.04,436.972 512.94,438.011 515.83,439.038 518.73,440.053 521.62,441.056 524.52,442.047 527.41,443.027 530.31,443.995 533.20,444.952 536.09,445.898 538.99,446.833 541.88,447.756 544.78,448.669 547.67,449.572 550.57,450.463 553.46,451.344 556.36,452.215 559.25,453.076 562.15,453.926 565.04,454.767 567.94,455.598 570.83,456.418 573.72,457.229 576.62,458.031 579.51,458.823 582.41,459.606 585.30,460.379 588.20,461.143 591.09,461.899 593.99,462.645 596.88,463.382 599.78,464.111 602.67,464.831 605.56,465.542 608.46,466.245 611.35,466.940 614.25,467.626 617.14,468.304 620.04,468.974 622.93,469.636 625.83,470.290 628.72,470.936 631.62,471.575 634.51,472.206 637.41,472.829 640.30,473.445 643.19,474.053 646.09,474.654 648.98,475.248 651.88,475.834 654.77,476.414 657.67,476.986 660.56,477.551 663.46,478.110 666.35,478.662 669.25,479.207 672.14,479.746 675.04,480.278 677.93,480.803 680.82,481.322 683.72,481.835 686.61,482.342 689.51,482.842 692.40,483.336 695.30,483.824 698.19,484.306 701.09,484.782 703.98,485.253 706.88,485.717 709.77,486.176 712.66,486.629 715.56,487.076 718.45,487.518 721.35,487.955 724.24,488.386 727.14,488.811 730.03,489.232 732.93,489.647 735.82,490.057 738.72,490.462 741.61,490.862 744.51,491.256 747.40,491.646 750.29,492.031 753.19,492.411 756.08,492.786 758.98,493.157 761.87,493.523 764.77,493.884 767.66,494.240 770.56,494.592 773.45,494.940 776.35,495.283 779.24,495.622 782.14,495.956 785.03,496.287 787.92,496.613 790.82,496.934 793.71,497.252 796.61,497.565 799.50,497.875 802.40,498.180 805.29,498.482 808.19,498.780 811.08,499.073 813.98,499.363 816.87,499.649 819.76,499.932 822.66,500.210 825.55,500.485 828.45,500.757 831.34,501.025 834.24,501.289 837.13,501.550 840.03,501.807 842.92,502.061 845.82,502.312 848.71,502.559 851.61,502.803 854.50,503.043" fill="none" stroke="#000" stroke-width="4.2" stroke-dasharray="11.5 16" stroke-linejoin="round"/><path d="M104.80,74.348 107.69,80.003 110.59,85.588 113.48,91.105 116.38,96.553 119.27,101.934 122.17,107.249 125.06,112.498 127.96,117.682 130.85,122.802 133.75,127.859 136.64,132.854 139.54,137.786 142.43,142.658 145.32,147.469 148.22,152.221 151.11,156.914 154.01,161.548 156.90,166.125 159.80,170.646 162.69,175.110 165.59,179.519 168.48,183.874 171.38,188.174 174.27,192.421 177.16,196.615 180.06,200.757 182.95,204.848 185.85,208.887 188.74,212.876 191.64,216.816 194.53,220.707 197.43,224.549 200.32,228.343 203.22,232.090 206.11,235.790 209.01,239.445 211.90,243.053 214.79,246.616 217.69,250.135 220.58,253.610 223.48,257.042 226.37,260.430 229.27,263.776 232.16,267.081 235.06,270.344 237.95,273.566 240.85,276.747 243.74,279.889 246.64,282.991 249.53,286.055 252.42,289.080 255.32,292.067 258.21,295.016 261.11,297.928 264.00,300.804 266.90,303.643 269.79,306.447 272.69,309.215 275.58,311.949 278.48,314.648 281.37,317.313 284.26,319.944 287.16,322.542 290.05,325.107 292.95,327.640 295.84,330.141 298.74,332.610 301.63,335.048 304.53,337.455 307.42,339.831 310.32,342.177 313.21,344.494 316.11,346.781 319.00,349.039 321.89,351.268 324.79,353.469 327.68,355.642 330.58,357.788 333.47,359.906 336.37,361.996 339.26,364.061 342.16,366.099 345.05,368.111 347.95,370.097 350.84,372.058 353.74,373.993 356.63,375.904 359.52,377.791 362.42,379.653 365.31,381.491 368.21,383.306 371.10,385.097 374.00,386.866 376.89,388.611 379.79,390.335 382.68,392.036 385.58,393.715 388.47,395.372 391.36,397.008 394.26,398.623 397.15,400.217 400.05,401.790 402.94,403.343 405.84,404.876 408.73,406.389 411.63,407.883 414.52,409.357 417.42,410.812 420.31,412.248 423.21,413.665 426.10,415.064 428.99,416.444 431.89,417.807 434.78,419.152 437.68,420.479 440.57,421.789 443.47,423.082 446.36,424.357 449.26,425.616 452.15,426.859 455.05,428.085 457.94,429.295 460.84,430.490 463.73,431.668 466.62,432.831 469.52,433.979 472.41,435.111 475.31,436.229 478.20,437.332 481.10,438.420 483.99,439.494 486.89,440.553 489.78,441.598 492.68,442.630 495.57,443.648 498.46,444.652 501.36,445.643 504.25,446.621 507.15,447.585 510.04,448.537 512.94,449.476 515.83,450.403 518.73,451.317 521.62,452.219 524.52,453.108 527.41,453.986 530.31,454.852 533.20,455.706 536.09,456.549 538.99,457.380 541.88,458.200 544.78,459.009 547.67,459.807 550.57,460.594 553.46,461.371 556.36,462.137 559.25,462.892 562.15,463.637 565.04,464.372 567.94,465.097 570.83,465.812 573.72,466.518 576.62,467.213 579.51,467.899 582.41,468.576 585.30,469.243 588.20,469.901 591.09,470.550 593.99,471.191 596.88,471.822 599.78,472.444 602.67,473.058 605.56,473.663 608.46,474.260 611.35,474.849 614.25,475.429 617.14,476.001 620.04,476.565 622.93,477.122 625.83,477.670 628.72,478.211 631.62,478.744 634.51,479.270 637.41,479.788 640.30,480.299 643.19,480.803 646.09,481.299 648.98,481.789 651.88,482.271 654.77,482.747 657.67,483.216 660.56,483.678 663.46,484.133 666.35,484.582 669.25,485.025 672.14,485.461 675.04,485.891 677.93,486.314 680.82,486.732 683.72,487.143 686.61,487.549 689.51,487.948 692.40,488.342 695.30,488.730 698.19,489.112 701.09,489.489 703.98,489.860 706.88,490.226 709.77,490.586 712.66,490.941 715.56,491.291 718.45,491.635 721.35,491.975 724.24,492.309 727.14,492.639 730.03,492.963 732.93,493.282 735.82,493.597 738.72,493.907 741.61,494.213 744.51,494.513 747.40,494.809 750.29,495.101 753.19,495.388 756.08,495.671 758.98,495.950 761.87,496.224 764.77,496.494 767.66,496.760 770.56,497.021 773.45,497.279 776.35,497.533 779.24,497.782 782.14,498.028 785.03,498.270 787.92,498.508 790.82,498.743 793.71,498.973 796.61,499.200 799.50,499.424 802.40,499.644 805.29,499.860 808.19,500.073 811.08,500.282 813.98,500.489 816.87,500.691 819.76,500.891 822.66,501.087 825.55,501.280 828.45,501.470 831.34,501.657 834.24,501.840 837.13,502.021 840.03,502.199 842.92,502.373 845.82,502.545 848.71,502.714 851.61,502.880 854.50,503.043" fill="none" stroke="#000" stroke-width="4.2" stroke-dasharray="11.5 16" stroke-linejoin="round"/><path d="M104.80,74.348 107.69,80.777 110.59,87.115 113.48,93.363 116.38,99.523 119.27,105.596 122.17,111.582 125.06,117.484 127.96,123.302 130.85,129.038 133.75,134.692 136.64,140.266 139.54,145.761 142.43,151.177 145.32,156.517 148.22,161.781 151.11,166.969 154.01,172.084 156.90,177.126 159.80,182.096 162.69,186.995 165.59,191.825 168.48,196.585 171.38,201.277 174.27,205.903 177.16,210.462 180.06,214.956 182.95,219.386 185.85,223.752 188.74,228.056 191.64,232.298 194.53,236.479 197.43,240.600 200.32,244.662 203.22,248.666 206.11,252.612 209.01,256.501 211.90,260.334 214.79,264.113 217.69,267.836 220.58,271.507 223.48,275.124 226.37,278.689 229.27,282.202 232.16,285.665 235.06,289.078 237.95,292.441 240.85,295.756 243.74,299.022 246.64,302.242 249.53,305.414 252.42,308.541 255.32,311.622 258.21,314.659 261.11,317.651 264.00,320.600 266.90,323.506 269.79,326.369 272.69,329.191 275.58,331.972 278.48,334.712 281.37,337.412 284.26,340.073 287.16,342.695 290.05,345.278 292.95,347.824 295.84,350.332 298.74,352.804 301.63,355.239 304.53,357.638 307.42,360.003 310.32,362.332 313.21,364.628 316.11,366.889 319.00,369.117 321.89,371.312 324.79,373.475 327.68,375.606 330.58,377.706 333.47,379.774 336.37,381.812 339.26,383.820 342.16,385.797 345.05,387.746 347.95,389.666 350.84,391.557 353.74,393.420 356.63,395.255 359.52,397.063 362.42,398.844 365.31,400.598 368.21,402.326 371.10,404.029 374.00,405.705 376.89,407.357 379.79,408.984 382.68,410.587 385.58,412.166 388.47,413.720 391.36,415.252 394.26,416.760 397.15,418.246 400.05,419.710 402.94,421.151 405.84,422.570 408.73,423.968 411.63,425.345 414.52,426.701 417.42,428.037 420.31,429.352 423.21,430.647 426.10,431.923 428.99,433.179 431.89,434.416 434.78,435.634 437.68,436.834 440.57,438.015 443.47,439.178 446.36,440.324 449.26,441.451 452.15,442.562 455.05,443.655 457.94,444.732 460.84,445.792 463.73,446.836 466.62,447.863 469.52,448.875 472.41,449.871 475.31,450.852 478.20,451.817 481.10,452.768 483.99,453.704 486.89,454.625 489.78,455.532 492.68,456.425 495.57,457.303 498.46,458.168 501.36,459.020 504.25,459.858 507.15,460.683 510.04,461.495 512.94,462.295 515.83,463.082 518.73,463.856 521.62,464.618 524.52,465.368 527.41,466.106 530.31,466.833 533.20,467.548 536.09,468.252 538.99,468.944 541.88,469.626 544.78,470.296 547.67,470.956 550.57,471.605 553.46,472.244 556.36,472.873 559.25,473.491 562.15,474.100 565.04,474.699 567.94,475.288 570.83,475.868 573.72,476.438 576.62,476.999 579.51,477.551 582.41,478.094 585.30,478.628 588.20,479.153 591.09,479.670 593.99,480.178 596.88,480.678 599.78,481.170 602.67,481.653 605.56,482.129 608.46,482.597 611.35,483.057 614.25,483.510 617.14,483.955 620.04,484.392 622.93,484.823 625.83,485.246 628.72,485.662 631.62,486.071 634.51,486.473 637.41,486.869 640.30,487.257 643.19,487.640 646.09,488.015 648.98,488.385 651.88,488.748 654.77,489.105 657.67,489.456 660.56,489.801 663.46,490.140 666.35,490.473 669.25,490.800 672.14,491.122 675.04,491.438 677.93,491.749 680.82,492.055 683.72,492.355 686.61,492.649 689.51,492.939 692.40,493.224 695.30,493.503 698.19,493.778 701.09,494.048 703.98,494.313 706.88,494.574 709.77,494.829 712.66,495.081 715.56,495.327 718.45,495.570 721.35,495.808 724.24,496.042 727.14,496.271 730.03,496.496 732.93,496.718 735.82,496.935 738.72,497.148 741.61,497.358 744.51,497.563 747.40,497.765 750.29,497.963 753.19,498.157 756.08,498.348 758.98,498.535 761.87,498.719 764.77,498.899 767.66,499.076 770.56,499.250 773.45,499.420 776.35,499.587 779.24,499.751 782.14,499.911 785.03,500.069 787.92,500.224 790.82,500.375 793.71,500.524 796.61,500.670 799.50,500.813 802.40,500.953 805.29,501.090 808.19,501.225 811.08,501.357 813.98,501.486 816.87,501.613 819.76,501.737 822.66,501.859 825.55,501.978 828.45,502.095 831.34,502.209 834.24,502.321 837.13,502.431 840.03,502.539 842.92,502.644 845.82,502.747 848.71,502.848 851.61,502.947 854.50,503.043" fill="none" stroke="#000" stroke-width="4.2" stroke-dasharray="11.5 16" stroke-linejoin="round"/><path d="M104.80,74.348 107.69,82.147 110.59,89.806 113.48,97.328 116.38,104.715 119.27,111.969 122.17,119.093 125.06,126.089 127.96,132.960 130.85,139.707 133.75,146.333 136.64,152.841 139.54,159.232 142.43,165.508 145.32,171.671 148.22,177.724 151.11,183.669 154.01,189.507 156.90,195.240 159.80,200.870 162.69,206.400 165.59,211.830 168.48,217.163 171.38,222.401 174.27,227.544 177.16,232.595 180.06,237.556 182.95,242.428 185.85,247.213 188.74,251.911 191.64,256.526 194.53,261.058 197.43,265.508 200.32,269.879 203.22,274.172 206.11,278.387 209.01,282.527 211.90,286.593 214.79,290.586 217.69,294.507 220.58,298.358 223.48,302.140 226.37,305.855 229.27,309.502 232.16,313.085 235.06,316.603 237.95,320.058 240.85,323.451 243.74,326.783 246.64,330.055 249.53,333.269 252.42,336.425 255.32,339.525 258.21,342.569 261.11,345.558 264.00,348.494 266.90,351.377 269.79,354.208 272.69,356.988 275.58,359.719 278.48,362.401 281.37,365.034 284.26,367.620 287.16,370.160 290.05,372.654 292.95,375.104 295.84,377.509 298.74,379.871 301.63,382.191 304.53,384.469 307.42,386.706 310.32,388.903 313.21,391.061 316.11,393.179 319.00,395.260 321.89,397.303 324.79,399.309 327.68,401.280 330.58,403.214 333.47,405.114 336.37,406.980 339.26,408.812 342.16,410.612 345.05,412.378 347.95,414.113 350.84,415.817 353.74,417.490 356.63,419.133 359.52,420.746 362.42,422.330 365.31,423.886 368.21,425.413 371.10,426.913 374.00,428.386 376.89,429.832 379.79,431.252 382.68,432.647 385.58,434.016 388.47,435.360 391.36,436.681 394.26,437.977 397.15,439.250 400.05,440.499 402.94,441.726 405.84,442.931 408.73,444.114 411.63,445.276 414.52,446.416 417.42,447.536 420.31,448.636 423.21,449.715 426.10,450.775 428.99,451.816 431.89,452.837 434.78,453.841 437.68,454.826 440.57,455.792 443.47,456.742 446.36,457.674 449.26,458.589 452.15,459.487 455.05,460.369 457.94,461.235 460.84,462.085 463.73,462.920 466.62,463.739 469.52,464.543 472.41,465.333 475.31,466.108 478.20,466.869 481.10,467.616 483.99,468.349 486.89,469.069 489.78,469.775 492.68,470.469 495.57,471.150 498.46,471.818 501.36,472.474 504.25,473.118 507.15,473.750 510.04,474.370 512.94,474.979 515.83,475.577 518.73,476.164 521.62,476.740 524.52,477.305 527.41,477.859 530.31,478.404 533.20,478.938 536.09,479.462 538.99,479.977 541.88,480.482 544.78,480.978 547.67,481.464 550.57,481.942 553.46,482.410 556.36,482.870 559.25,483.321 562.15,483.764 565.04,484.198 567.94,484.624 570.83,485.043 573.72,485.453 576.62,485.856 579.51,486.251 582.41,486.639 585.30,487.019 588.20,487.392 591.09,487.758 593.99,488.118 596.88,488.470 599.78,488.816 602.67,489.155 605.56,489.488 608.46,489.814 611.35,490.135 614.25,490.449 617.14,490.757 620.04,491.059 622.93,491.356 625.83,491.647 628.72,491.932 631.62,492.212 634.51,492.486 637.41,492.755 640.30,493.019 643.19,493.278 646.09,493.532 648.98,493.781 651.88,494.025 654.77,494.264 657.67,494.499 660.56,494.729 663.46,494.955 666.35,495.176 669.25,495.393 672.14,495.606 675.04,495.814 677.93,496.019 680.82,496.219 683.72,496.416 686.61,496.608 689.51,496.797 692.40,496.982 695.30,497.164 698.19,497.342 701.09,497.516 703.98,497.687 706.88,497.854 709.77,498.018 712.66,498.179 715.56,498.336 718.45,498.491 721.35,498.642 724.24,498.790 727.14,498.935 730.03,499.077 732.93,499.217 735.82,499.353 738.72,499.487 741.61,499.618 744.51,499.746 747.40,499.872 750.29,499.995 753.19,500.115 756.08,500.233 758.98,500.349 761.87,500.462 764.77,500.573 767.66,500.681 770.56,500.788 773.45,500.892 776.35,500.993 779.24,501.093 782.14,501.190 785.03,501.286 787.92,501.379 790.82,501.471 793.71,501.560 796.61,501.647 799.50,501.733 802.40,501.817 805.29,501.899 808.19,501.979 811.08,502.057 813.98,502.134 816.87,502.209 819.76,502.282 822.66,502.354 825.55,502.424 828.45,502.493 831.34,502.560 834.24,502.625 837.13,502.689 840.03,502.752 842.92,502.813 845.82,502.872 848.71,502.931 851.61,502.988 854.50,503.043" fill="none" stroke="#000" stroke-width="4.2" stroke-dasharray="11.5 16" stroke-linejoin="round"/></g><rect x="372.40" y="77.213" width="477.20" height="100.704" rx="1.5" fill="#fff" stroke="#000" stroke-width="6.6"/><line x1="386.5" x2="426" y1="104.261" y2="104.261" stroke="#ffff00" stroke-width="3.0"/><line x1="386.9" x2="400.9" y1="151.304" y2="151.304" stroke="#000" stroke-width="2.7"/><line x1="415.9" x2="425.4" y1="151.304" y2="151.304" stroke="#000" stroke-width="2.7"/><rect x="89.70" y="51.739" width="780.60" height="474.435" fill="none" stroke="#000" stroke-width="2.1"/></g><text x="0" y="0" font-family="Liberation Sans" font-size="100" font-weight="bold" transform="translate(1.36,32.30) scale(0.4455,0.4286)" ><tspan >A</tspan></text><text x="0" y="0" font-family="Liberation Sans" font-size="100" font-weight="normal" stroke="#fff" stroke-width="1.2" transform="translate(343.24,35.70) scale(0.2949,0.3507)" ><tspan >M=0.3,</tspan><tspan font-style="italic">S</tspan><tspan dy="22.000" font-size="71.000" font-style="italic">t</tspan><tspan dy="-22.000" dx="8.000">=3.0,</tspan><tspan font-style="italic">γ</tspan><tspan dy="22.000" font-size="71.000">1</tspan><tspan dy="-22.000" dx="5.000">=0.3</tspan></text><text x="0" y="0" font-family="Liberation Sans" font-size="100" font-weight="normal" stroke="#fff" stroke-width="1.2" transform="translate(438.90,127.20) scale(0.2825,0.2928)" ><tspan >(Al</tspan><tspan dy="22.000" font-size="71.000">2</tspan><tspan dy="-22.000">O</tspan><tspan dy="22.000" font-size="71.000">3</tspan><tspan dy="-22.000">−Fe</tspan><tspan dy="22.000" font-size="71.000">3</tspan><tspan dy="-22.000">O</tspan><tspan dy="22.000" font-size="71.000">4</tspan><tspan dy="-22.000">)/blood,</tspan><tspan font-style="italic">ϕ</tspan><tspan dy="22.000" font-size="71.000">1</tspan><tspan dy="-22.000">=</tspan><tspan font-style="italic">ϕ</tspan><tspan dy="22.000" font-size="71.000">2</tspan><tspan dy="-22.000">=0.1</tspan></text><text x="0" y="0" font-family="Liberation Sans" font-size="100" font-weight="normal" stroke="#fff" stroke-width="1.2" transform="translate(439.20,180.80) scale(0.2790,0.2928)" ><tspan >Al</tspan><tspan dy="22.000" font-size="71.000">2</tspan><tspan dy="-22.000">O</tspan><tspan dy="22.000" font-size="71.000">3</tspan><tspan dy="-22.000">−/blood,</tspan><tspan font-style="italic">ϕ</tspan><tspan dy="22.000" font-size="71.000">1</tspan><tspan dy="-22.000">=0.1</tspan></text><text x="0" y="0" font-family="Liberation Sans" font-size="100" font-weight="normal" stroke="#fff" stroke-width="1.2" transform="translate(460.98,278.70) scale(0.2277,0.2551)" ><tspan >Rd=0.0,0.2,0.4,0.6,0.8,1.0</tspan></text><text x="0" y="0" font-family="Liberation Sans" font-size="100" font-weight="normal" stroke="#fff" stroke-width="1.2" transform="translate(473.12,689.64) scale(0.2898,0.3267)" ><tspan font-style="italic">η</tspan></text><text x="0" y="0" font-family="Liberation Sans" font-size="100" font-weight="normal" stroke="#fff" stroke-width="1.2" transform="translate(27.12,361.03) rotate(-90) scale(0.3360,0.2894)" ><tspan font-style="italic">β</tspan><tspan >(</tspan><tspan font-style="italic">η</tspan><tspan >)</tspan></text><text x="0" y="0" font-family="Liberation Sans" font-size="100" font-weight="normal" stroke="#fff" stroke-width="1.2" transform="translate(42.11,590.02) scale(0.2940,0.3340)" ><tspan >0.0</tspan></text><text x="0" y="0" font-family="Liberation Sans" font-size="100" font-weight="normal" stroke="#fff" stroke-width="1.2" transform="translate(42.40,491.42) scale(0.2940,0.3340)" ><tspan >0.2</tspan></text><text x="0" y="0" font-family="Liberation Sans" font-size="100" font-weight="normal" stroke="#fff" stroke-width="1.2" transform="translate(41.82,392.82) scale(0.2940,0.3340)" ><tspan >0.4</tspan></text><text x="0" y="0" font-family="Liberation Sans" font-size="100" font-weight="normal" stroke="#fff" stroke-width="1.2" transform="translate(42.11,294.22) scale(0.2940,0.3340)" ><tspan >0.6</tspan></text><text x="0" y="0" font-family="Liberation Sans" font-size="100" font-weight="normal" stroke="#fff" stroke-width="1.2" transform="translate(42.11,195.62) scale(0.2940,0.3340)" ><tspan >0.8</tspan></text><text x="0" y="0" font-family="Liberation Sans" font-size="100" font-weight="normal" stroke="#fff" stroke-width="1.2" transform="translate(42.11,97.02) scale(0.2940,0.3340)" ><tspan >1.0</tspan></text><text x="0" y="0" font-family="Liberation Sans" font-size="100" font-weight="normal" stroke="#fff" stroke-width="1.2" transform="translate(96.57,643.02) scale(0.2940,0.3340)" ><tspan >0</tspan></text><text x="0" y="0" font-family="Liberation Sans" font-size="100" font-weight="normal" stroke="#fff" stroke-width="1.2" transform="translate(284.14,642.86) scale(0.2940,0.3340)" ><tspan >5</tspan></text><text x="0" y="0" font-family="Liberation Sans" font-size="100" font-weight="normal" stroke="#fff" stroke-width="1.2" transform="translate(462.75,643.02) scale(0.2940,0.3340)" ><tspan >10</tspan></text><text x="0" y="0" font-family="Liberation Sans" font-size="100" font-weight="normal" stroke="#fff" stroke-width="1.2" transform="translate(650.17,642.86) scale(0.2940,0.3340)" ><tspan >15</tspan></text><text x="0" y="0" font-family="Liberation Sans" font-size="100" font-weight="normal" stroke="#fff" stroke-width="1.2" transform="translate(838.04,643.02) scale(0.2940,0.3340)" ><tspan >20</tspan></text><line x1="332.50" y1="505.40" x2="442.91" y2="379.01" stroke="#000" stroke-width="2.2"/><polygon points="461.00,358.30 446.86,387.11 442.25,379.76 434.35,376.19" fill="#000"/><clipPath id="lclipBs"><rect x="0" y="0" width="866" height="3000"/></clipPath><g transform="scale(1,1.15)"><clipPath id="clipB"><rect x="89.40" y="698.522" width="776.10" height="475.043"/></clipPath><g clip-path="url(#clipB)"><path d="M105.00,721.913 107.88,726.009 110.75,730.071 113.63,734.099 116.51,738.094 119.38,742.056 122.26,745.985 125.14,749.882 128.01,753.747 130.89,757.580 133.76,761.381 136.64,765.150 139.52,768.888 142.39,772.596 145.27,776.272 148.15,779.919 151.02,783.534 153.90,787.120 156.78,790.677 159.65,794.203 162.53,797.701 165.41,801.169 168.28,804.609 171.16,808.020 174.03,811.402 176.91,814.757 179.79,818.083 182.66,821.382 185.54,824.653 188.42,827.898 191.29,831.115 194.17,834.305 197.05,837.469 199.92,840.606 202.80,843.717 205.68,846.803 208.55,849.862 211.43,852.896 214.31,855.904 217.18,858.888 220.06,861.846 222.93,864.780 225.81,867.689 228.69,870.574 231.56,873.434 234.44,876.271 237.32,879.084 240.19,881.873 243.07,884.639 245.95,887.382 248.82,890.101 251.70,892.798 254.58,895.472 257.45,898.124 260.33,900.753 263.20,903.360 266.08,905.945 268.96,908.509 271.83,911.051 274.71,913.571 277.59,916.070 280.46,918.548 283.34,921.006 286.22,923.442 289.09,925.858 291.97,928.253 294.85,930.628 297.72,932.983 300.60,935.318 303.47,937.634 306.35,939.929 309.23,942.205 312.10,944.462 314.98,946.700 317.86,948.919 320.73,951.119 323.61,953.300 326.49,955.463 329.36,957.607 332.24,959.733 335.12,961.841 337.99,963.931 340.87,966.003 343.75,968.057 346.62,970.094 349.50,972.113 352.37,974.116 355.25,976.101 358.13,978.069 361.00,980.020 363.88,981.955 366.76,983.873 369.63,985.774 372.51,987.659 375.39,989.528 378.26,991.381 381.14,993.218 384.02,995.040 386.89,996.845 389.77,998.635 392.64,1000.410 395.52,1002.169 398.40,1003.914 401.27,1005.643 404.15,1007.357 407.03,1009.056 409.90,1010.741 412.78,1012.411 415.66,1014.067 418.53,1015.708 421.41,1017.335 424.29,1018.948 427.16,1020.547 430.04,1022.132 432.92,1023.703 435.79,1025.261 438.67,1026.805 441.54,1028.336 444.42,1029.853 447.30,1031.357 450.17,1032.848 453.05,1034.326 455.93,1035.791 458.80,1037.243 461.68,1038.682 464.56,1040.109 467.43,1041.524 470.31,1042.926 473.19,1044.315 476.06,1045.693 478.94,1047.058 481.81,1048.411 484.69,1049.753 487.57,1051.082 490.44,1052.400 493.32,1053.707 496.20,1055.001 499.07,1056.285 501.95,1057.557 504.83,1058.817 507.70,1060.067 510.58,1061.305 513.46,1062.533 516.33,1063.749 519.21,1064.955 522.08,1066.150 524.96,1067.334 527.84,1068.508 530.71,1069.672 533.59,1070.825 536.47,1071.967 539.34,1073.100 542.22,1074.222 545.10,1075.335 547.97,1076.437 550.85,1077.529 553.73,1078.612 556.60,1079.685 559.48,1080.748 562.36,1081.802 565.23,1082.846 568.11,1083.881 570.98,1084.907 573.86,1085.923 576.74,1086.930 579.61,1087.928 582.49,1088.917 585.37,1089.896 588.24,1090.867 591.12,1091.830 594.00,1092.783 596.87,1093.728 599.75,1094.664 602.63,1095.592 605.50,1096.511 608.38,1097.421 611.25,1098.324 614.13,1099.218 617.01,1100.104 619.88,1100.982 622.76,1101.851 625.64,1102.713 628.51,1103.567 631.39,1104.413 634.27,1105.251 637.14,1106.081 640.02,1106.904 642.90,1107.719 645.77,1108.527 648.65,1109.327 651.53,1110.120 654.40,1110.905 657.28,1111.683 660.15,1112.453 663.03,1113.217 665.91,1113.973 668.78,1114.723 671.66,1115.465 674.54,1116.200 677.41,1116.929 680.29,1117.650 683.17,1118.365 686.04,1119.073 688.92,1119.775 691.80,1120.469 694.67,1121.157 697.55,1121.839 700.42,1122.514 703.30,1123.183 706.18,1123.846 709.05,1124.502 711.93,1125.152 714.81,1125.795 717.68,1126.433 720.56,1127.064 723.44,1127.690 726.31,1128.309 729.19,1128.922 732.07,1129.530 734.94,1130.132 737.82,1130.728 740.69,1131.318 743.57,1131.902 746.45,1132.481 749.32,1133.054 752.20,1133.622 755.08,1134.184 757.95,1134.740 760.83,1135.291 763.71,1135.837 766.58,1136.377 769.46,1136.913 772.34,1137.442 775.21,1137.967 778.09,1138.487 780.97,1139.001 783.84,1139.510 786.72,1140.014 789.59,1140.514 792.47,1141.008 795.35,1141.497 798.22,1141.982 801.10,1142.461 803.98,1142.936 806.85,1143.406 809.73,1143.872 812.61,1144.332 815.48,1144.788 818.36,1145.240 821.24,1145.687 824.11,1146.129 826.99,1146.567 829.86,1147.000 832.74,1147.429 835.62,1147.854 838.49,1148.274 841.37,1148.690 844.25,1149.102 847.12,1149.510 850.00,1149.913" fill="none" stroke="#ffff00" stroke-width="4.0" stroke-linejoin="round"/><path d="M105.00,721.913 107.88,726.212 110.75,730.474 113.63,734.698 116.51,738.885 119.38,743.034 122.26,747.148 125.14,751.225 128.01,755.266 130.89,759.272 133.76,763.242 136.64,767.178 139.52,771.078 142.39,774.944 145.27,778.776 148.15,782.575 151.02,786.339 153.90,790.071 156.78,793.769 159.65,797.435 162.53,801.068 165.41,804.669 168.28,808.238 171.16,811.776 174.03,815.282 176.91,818.757 179.79,822.201 182.66,825.615 185.54,828.999 188.42,832.352 191.29,835.676 194.17,838.970 197.05,842.234 199.92,845.470 202.80,848.677 205.68,851.856 208.55,855.006 211.43,858.128 214.31,861.222 217.18,864.289 220.06,867.328 222.93,870.340 225.81,873.325 228.69,876.284 231.56,879.216 234.44,882.122 237.32,885.002 240.19,887.856 243.07,890.685 245.95,893.488 248.82,896.267 251.70,899.020 254.58,901.748 257.45,904.453 260.33,907.132 263.20,909.788 266.08,912.420 268.96,915.028 271.83,917.613 274.71,920.175 277.59,922.713 280.46,925.229 283.34,927.722 286.22,930.192 289.09,932.640 291.97,935.066 294.85,937.471 297.72,939.853 300.60,942.214 303.47,944.554 306.35,946.872 309.23,949.169 312.10,951.446 314.98,953.702 317.86,955.937 320.73,958.153 323.61,960.348 326.49,962.523 329.36,964.678 332.24,966.814 335.12,968.930 337.99,971.027 340.87,973.105 343.75,975.164 346.62,977.205 349.50,979.226 352.37,981.229 355.25,983.214 358.13,985.181 361.00,987.130 363.88,989.060 366.76,990.974 369.63,992.869 372.51,994.748 375.39,996.609 378.26,998.453 381.14,1000.280 384.02,1002.090 386.89,1003.883 389.77,1005.660 392.64,1007.421 395.52,1009.166 398.40,1010.894 401.27,1012.606 404.15,1014.303 407.03,1015.984 409.90,1017.649 412.78,1019.299 415.66,1020.934 418.53,1022.553 421.41,1024.158 424.29,1025.747 427.16,1027.322 430.04,1028.882 432.92,1030.428 435.79,1031.959 438.67,1033.476 441.54,1034.979 444.42,1036.468 447.30,1037.943 450.17,1039.404 453.05,1040.852 455.93,1042.286 458.80,1043.706 461.68,1045.114 464.56,1046.508 467.43,1047.889 470.31,1049.257 473.19,1050.612 476.06,1051.954 478.94,1053.284 481.81,1054.601 484.69,1055.906 487.57,1057.198 490.44,1058.479 493.32,1059.747 496.20,1061.003 499.07,1062.247 501.95,1063.480 504.83,1064.701 507.70,1065.910 510.58,1067.107 513.46,1068.294 516.33,1069.469 519.21,1070.633 522.08,1071.785 524.96,1072.927 527.84,1074.058 530.71,1075.178 533.59,1076.287 536.47,1077.386 539.34,1078.474 542.22,1079.551 545.10,1080.619 547.97,1081.676 550.85,1082.723 553.73,1083.759 556.60,1084.786 559.48,1085.803 562.36,1086.810 565.23,1087.807 568.11,1088.795 570.98,1089.773 573.86,1090.741 576.74,1091.701 579.61,1092.650 582.49,1093.591 585.37,1094.522 588.24,1095.445 591.12,1096.358 594.00,1097.262 596.87,1098.158 599.75,1099.045 602.63,1099.923 605.50,1100.792 608.38,1101.653 611.25,1102.506 614.13,1103.350 617.01,1104.185 619.88,1105.013 622.76,1105.832 625.64,1106.643 628.51,1107.446 631.39,1108.242 634.27,1109.029 637.14,1109.808 640.02,1110.580 642.90,1111.344 645.77,1112.100 648.65,1112.849 651.53,1113.590 654.40,1114.324 657.28,1115.051 660.15,1115.770 663.03,1116.482 665.91,1117.187 668.78,1117.884 671.66,1118.575 674.54,1119.259 677.41,1119.935 680.29,1120.605 683.17,1121.268 686.04,1121.925 688.92,1122.574 691.80,1123.217 694.67,1123.854 697.55,1124.484 700.42,1125.107 703.30,1125.725 706.18,1126.335 709.05,1126.940 711.93,1127.538 714.81,1128.130 717.68,1128.716 720.56,1129.296 723.44,1129.870 726.31,1130.438 729.19,1131.000 732.07,1131.556 734.94,1132.107 737.82,1132.651 740.69,1133.190 743.57,1133.724 746.45,1134.252 749.32,1134.774 752.20,1135.290 755.08,1135.802 757.95,1136.307 760.83,1136.808 763.71,1137.303 766.58,1137.793 769.46,1138.278 772.34,1138.757 775.21,1139.232 778.09,1139.701 780.97,1140.166 783.84,1140.625 786.72,1141.079 789.59,1141.529 792.47,1141.974 795.35,1142.413 798.22,1142.849 801.10,1143.279 803.98,1143.705 806.85,1144.126 809.73,1144.542 812.61,1144.954 815.48,1145.362 818.36,1145.765 821.24,1146.163 824.11,1146.557 826.99,1146.947 829.86,1147.332 832.74,1147.714 835.62,1148.091 838.49,1148.463 841.37,1148.832 844.25,1149.196 847.12,1149.557 850.00,1149.913" fill="none" stroke="#ffff00" stroke-width="4.0" stroke-linejoin="round"/><path d="M105.00,721.913 107.88,726.426 110.75,730.897 113.63,735.326 116.51,739.713 119.38,744.060 122.26,748.365 125.14,752.631 128.01,756.856 130.89,761.042 133.76,765.189 136.64,769.296 139.52,773.365 142.39,777.396 145.27,781.389 148.15,785.345 151.02,789.263 153.90,793.144 156.78,796.989 159.65,800.798 162.53,804.571 165.41,808.308 168.28,812.010 171.16,815.677 174.03,819.310 176.91,822.908 179.79,826.473 182.66,830.003 185.54,833.501 188.42,836.965 191.29,840.397 194.17,843.796 197.05,847.163 199.92,850.498 202.80,853.801 205.68,857.073 208.55,860.314 211.43,863.525 214.31,866.705 217.18,869.855 220.06,872.974 222.93,876.065 225.81,879.125 228.69,882.157 231.56,885.160 234.44,888.134 237.32,891.080 240.19,893.998 243.07,896.888 245.95,899.751 248.82,902.586 251.70,905.394 254.58,908.175 257.45,910.930 260.33,913.658 263.20,916.361 266.08,919.037 268.96,921.688 271.83,924.313 274.71,926.914 277.59,929.489 280.46,932.039 283.34,934.565 286.22,937.067 289.09,939.545 291.97,941.999 294.85,944.429 297.72,946.836 300.60,949.220 303.47,951.581 306.35,953.919 309.23,956.234 312.10,958.527 314.98,960.798 317.86,963.047 320.73,965.274 323.61,967.480 326.49,969.664 329.36,971.827 332.24,973.969 335.12,976.091 337.99,978.191 340.87,980.272 343.75,982.332 346.62,984.372 349.50,986.392 352.37,988.393 355.25,990.374 358.13,992.336 361.00,994.278 363.88,996.202 366.76,998.107 369.63,999.993 372.51,1001.861 375.39,1003.710 378.26,1005.542 381.14,1007.355 384.02,1009.151 386.89,1010.929 389.77,1012.690 392.64,1014.433 395.52,1016.159 398.40,1017.868 401.27,1019.560 404.15,1021.236 407.03,1022.895 409.90,1024.538 412.78,1026.164 415.66,1027.775 418.53,1029.369 421.41,1030.948 424.29,1032.511 427.16,1034.058 430.04,1035.590 432.92,1037.107 435.79,1038.609 438.67,1040.096 441.54,1041.568 444.42,1043.026 447.30,1044.469 450.17,1045.897 453.05,1047.312 455.93,1048.712 458.80,1050.098 461.68,1051.470 464.56,1052.829 467.43,1054.173 470.31,1055.505 473.19,1056.823 476.06,1058.128 478.94,1059.419 481.81,1060.698 484.69,1061.964 487.57,1063.216 490.44,1064.457 493.32,1065.685 496.20,1066.900 499.07,1068.103 501.95,1069.294 504.83,1070.472 507.70,1071.639 510.58,1072.794 513.46,1073.937 516.33,1075.069 519.21,1076.189 522.08,1077.297 524.96,1078.395 527.84,1079.481 530.71,1080.556 533.59,1081.620 536.47,1082.673 539.34,1083.715 542.22,1084.746 545.10,1085.767 547.97,1086.777 550.85,1087.777 553.73,1088.767 556.60,1089.746 559.48,1090.716 562.36,1091.675 565.23,1092.624 568.11,1093.564 570.98,1094.493 573.86,1095.414 576.74,1096.324 579.61,1097.225 582.49,1098.117 585.37,1098.999 588.24,1099.872 591.12,1100.736 594.00,1101.591 596.87,1102.437 599.75,1103.274 602.63,1104.102 605.50,1104.921 608.38,1105.732 611.25,1106.534 614.13,1107.328 617.01,1108.114 619.88,1108.891 622.76,1109.659 625.64,1110.420 628.51,1111.173 631.39,1111.917 634.27,1112.654 637.14,1113.383 640.02,1114.104 642.90,1114.817 645.77,1115.522 648.65,1116.220 651.53,1116.911 654.40,1117.594 657.28,1118.270 660.15,1118.938 663.03,1119.599 665.91,1120.253 668.78,1120.900 671.66,1121.540 674.54,1122.173 677.41,1122.799 680.29,1123.419 683.17,1124.031 686.04,1124.637 688.92,1125.236 691.80,1125.829 694.67,1126.415 697.55,1126.994 700.42,1127.568 703.30,1128.135 706.18,1128.695 709.05,1129.250 711.93,1129.798 714.81,1130.340 717.68,1130.876 720.56,1131.406 723.44,1131.931 726.31,1132.449 729.19,1132.962 732.07,1133.469 734.94,1133.970 737.82,1134.465 740.69,1134.955 743.57,1135.439 746.45,1135.918 749.32,1136.392 752.20,1136.860 755.08,1137.323 757.95,1137.780 760.83,1138.232 763.71,1138.679 766.58,1139.121 769.46,1139.558 772.34,1139.990 775.21,1140.417 778.09,1140.839 780.97,1141.256 783.84,1141.668 786.72,1142.075 789.59,1142.478 792.47,1142.876 795.35,1143.269 798.22,1143.658 801.10,1144.042 803.98,1144.421 806.85,1144.796 809.73,1145.167 812.61,1145.533 815.48,1145.895 818.36,1146.253 821.24,1146.606 824.11,1146.955 826.99,1147.300 829.86,1147.641 832.74,1147.977 835.62,1148.310 838.49,1148.638 841.37,1148.963 844.25,1149.284 847.12,1149.600 850.00,1149.913" fill="none" stroke="#ffff00" stroke-width="4.0" stroke-linejoin="round"/><path d="M105.00,721.913 107.88,726.752 110.75,731.541 113.63,736.281 116.51,740.973 119.38,745.617 122.26,750.214 125.14,754.764 128.01,759.267 130.89,763.724 133.76,768.136 136.64,772.502 139.52,776.824 142.39,781.102 145.27,785.336 148.15,789.526 151.02,793.673 153.90,797.778 156.78,801.841 159.65,805.862 162.53,809.842 165.41,813.781 168.28,817.679 171.16,821.537 174.03,825.356 176.91,829.135 179.79,832.876 182.66,836.578 185.54,840.241 188.42,843.867 191.29,847.456 194.17,851.007 197.05,854.522 199.92,858.001 202.80,861.443 205.68,864.850 208.55,868.222 211.43,871.559 214.31,874.861 217.18,878.130 220.06,881.364 222.93,884.565 225.81,887.732 228.69,890.867 231.56,893.969 234.44,897.039 237.32,900.077 240.19,903.083 243.07,906.058 245.95,909.002 248.82,911.916 251.70,914.799 254.58,917.652 257.45,920.475 260.33,923.269 263.20,926.033 266.08,928.769 268.96,931.476 271.83,934.155 274.71,936.806 277.59,939.429 280.46,942.024 283.34,944.592 286.22,947.134 289.09,949.648 291.97,952.137 294.85,954.599 297.72,957.035 300.60,959.445 303.47,961.831 306.35,964.191 309.23,966.526 312.10,968.836 314.98,971.122 317.86,973.384 320.73,975.622 323.61,977.837 326.49,980.028 329.36,982.196 332.24,984.340 335.12,986.462 337.99,988.562 340.87,990.639 343.75,992.694 346.62,994.728 349.50,996.740 352.37,998.730 355.25,1000.699 358.13,1002.647 361.00,1004.574 363.88,1006.481 366.76,1008.368 369.63,1010.234 372.51,1012.080 375.39,1013.906 378.26,1015.713 381.14,1017.501 384.02,1019.269 386.89,1021.019 389.77,1022.749 392.64,1024.461 395.52,1026.155 398.40,1027.830 401.27,1029.487 404.15,1031.127 407.03,1032.749 409.90,1034.353 412.78,1035.940 415.66,1037.509 418.53,1039.062 421.41,1040.598 424.29,1042.117 427.16,1043.620 430.04,1045.106 432.92,1046.576 435.79,1048.030 438.67,1049.469 441.54,1050.891 444.42,1052.298 447.30,1053.690 450.17,1055.067 453.05,1056.428 455.93,1057.775 458.80,1059.107 461.68,1060.424 464.56,1061.727 467.43,1063.015 470.31,1064.290 473.19,1065.550 476.06,1066.796 478.94,1068.029 481.81,1069.248 484.69,1070.453 487.57,1071.646 490.44,1072.825 493.32,1073.991 496.20,1075.144 499.07,1076.284 501.95,1077.411 504.83,1078.526 507.70,1079.629 510.58,1080.719 513.46,1081.797 516.33,1082.863 519.21,1083.917 522.08,1084.960 524.96,1085.990 527.84,1087.010 530.71,1088.017 533.59,1089.013 536.47,1089.999 539.34,1090.973 542.22,1091.936 545.10,1092.888 547.97,1093.829 550.85,1094.760 553.73,1095.680 556.60,1096.590 559.48,1097.489 562.36,1098.378 565.23,1099.257 568.11,1100.126 570.98,1100.985 573.86,1101.834 576.74,1102.674 579.61,1103.504 582.49,1104.324 585.37,1105.135 588.24,1105.937 591.12,1106.729 594.00,1107.513 596.87,1108.287 599.75,1109.052 602.63,1109.809 605.50,1110.556 608.38,1111.295 611.25,1112.026 614.13,1112.748 617.01,1113.461 619.88,1114.166 622.76,1114.863 625.64,1115.552 628.51,1116.233 631.39,1116.905 634.27,1117.570 637.14,1118.227 640.02,1118.876 642.90,1119.518 645.77,1120.152 648.65,1120.778 651.53,1121.397 654.40,1122.009 657.28,1122.614 660.15,1123.211 663.03,1123.801 665.91,1124.384 668.78,1124.960 671.66,1125.529 674.54,1126.091 677.41,1126.647 680.29,1127.196 683.17,1127.738 686.04,1128.274 688.92,1128.803 691.80,1129.326 694.67,1129.842 697.55,1130.352 700.42,1130.856 703.30,1131.354 706.18,1131.846 709.05,1132.331 711.93,1132.811 714.81,1133.285 717.68,1133.753 720.56,1134.215 723.44,1134.671 726.31,1135.122 729.19,1135.567 732.07,1136.007 734.94,1136.441 737.82,1136.870 740.69,1137.293 743.57,1137.711 746.45,1138.124 749.32,1138.531 752.20,1138.934 755.08,1139.331 757.95,1139.724 760.83,1140.111 763.71,1140.493 766.58,1140.871 769.46,1141.243 772.34,1141.611 775.21,1141.975 778.09,1142.333 780.97,1142.687 783.84,1143.036 786.72,1143.381 789.59,1143.721 792.47,1144.057 795.35,1144.389 798.22,1144.716 801.10,1145.039 803.98,1145.357 806.85,1145.672 809.73,1145.982 812.61,1146.288 815.48,1146.590 818.36,1146.888 821.24,1147.182 824.11,1147.472 826.99,1147.759 829.86,1148.041 832.74,1148.319 835.62,1148.594 838.49,1148.865 841.37,1149.133 844.25,1149.396 847.12,1149.657 850.00,1149.913" fill="none" stroke="#ffff00" stroke-width="4.0" stroke-linejoin="round"/><path d="M105.00,721.913 107.88,727.047 110.75,732.124 113.63,737.146 116.51,742.112 119.38,747.024 122.26,751.881 125.14,756.685 128.01,761.436 130.89,766.134 133.76,770.781 136.64,775.376 139.52,779.921 142.39,784.415 145.27,788.860 148.15,793.255 151.02,797.602 153.90,801.901 156.78,806.152 159.65,810.356 162.53,814.514 165.41,818.626 168.28,822.692 171.16,826.713 174.03,830.689 176.91,834.621 179.79,838.510 182.66,842.355 185.54,846.158 188.42,849.919 191.29,853.637 194.17,857.315 197.05,860.951 199.92,864.547 202.80,868.103 205.68,871.619 208.55,875.096 211.43,878.534 214.31,881.934 217.18,885.296 220.06,888.621 222.93,891.908 225.81,895.159 228.69,898.373 231.56,901.551 234.44,904.694 237.32,907.802 240.19,910.875 243.07,913.913 245.95,916.917 248.82,919.888 251.70,922.825 254.58,925.730 257.45,928.601 260.33,931.441 263.20,934.248 266.08,937.024 268.96,939.769 271.83,942.483 274.71,945.166 277.59,947.819 280.46,950.442 283.34,953.036 286.22,955.600 289.09,958.135 291.97,960.642 294.85,963.120 297.72,965.571 300.60,967.993 303.47,970.388 306.35,972.756 309.23,975.097 312.10,977.412 314.98,979.700 317.86,981.963 320.73,984.199 323.61,986.411 326.49,988.597 329.36,990.758 332.24,992.894 335.12,995.007 337.99,997.095 340.87,999.159 343.75,1001.200 346.62,1003.217 349.50,1005.212 352.37,1007.183 355.25,1009.132 358.13,1011.059 361.00,1012.963 363.88,1014.846 366.76,1016.707 369.63,1018.547 372.51,1020.366 375.39,1022.164 378.26,1023.941 381.14,1025.697 384.02,1027.434 386.89,1029.150 389.77,1030.847 392.64,1032.524 395.52,1034.181 398.40,1035.820 401.27,1037.439 404.15,1039.040 407.03,1040.622 409.90,1042.186 412.78,1043.732 415.66,1045.259 418.53,1046.769 421.41,1048.262 424.29,1049.737 427.16,1051.195 430.04,1052.636 432.92,1054.060 435.79,1055.467 438.67,1056.858 441.54,1058.233 444.42,1059.591 447.30,1060.934 450.17,1062.261 453.05,1063.573 455.93,1064.869 458.80,1066.149 461.68,1067.415 464.56,1068.666 467.43,1069.902 470.31,1071.124 473.19,1072.331 476.06,1073.524 478.94,1074.702 481.81,1075.867 484.69,1077.018 487.57,1078.155 490.44,1079.279 493.32,1080.390 496.20,1081.487 499.07,1082.571 501.95,1083.642 504.83,1084.701 507.70,1085.747 510.58,1086.780 513.46,1087.801 516.33,1088.810 519.21,1089.807 522.08,1090.792 524.96,1091.764 527.84,1092.726 530.71,1093.675 533.59,1094.614 536.47,1095.541 539.34,1096.456 542.22,1097.361 545.10,1098.255 547.97,1099.137 550.85,1100.010 553.73,1100.871 556.60,1101.722 559.48,1102.563 562.36,1103.394 565.23,1104.214 568.11,1105.024 570.98,1105.825 573.86,1106.616 576.74,1107.397 579.61,1108.168 582.49,1108.930 585.37,1109.682 588.24,1110.426 591.12,1111.160 594.00,1111.885 596.87,1112.601 599.75,1113.308 602.63,1114.007 605.50,1114.697 608.38,1115.378 611.25,1116.051 614.13,1116.715 617.01,1117.371 619.88,1118.019 622.76,1118.659 625.64,1119.291 628.51,1119.914 631.39,1120.530 634.27,1121.139 637.14,1121.739 640.02,1122.332 642.90,1122.918 645.77,1123.496 648.65,1124.067 651.53,1124.630 654.40,1125.187 657.28,1125.736 660.15,1126.278 663.03,1126.814 665.91,1127.342 668.78,1127.864 671.66,1128.379 674.54,1128.887 677.41,1129.389 680.29,1129.885 683.17,1130.374 686.04,1130.856 688.92,1131.333 691.80,1131.803 694.67,1132.267 697.55,1132.725 700.42,1133.177 703.30,1133.624 706.18,1134.064 709.05,1134.499 711.93,1134.927 714.81,1135.351 717.68,1135.768 720.56,1136.180 723.44,1136.587 726.31,1136.988 729.19,1137.384 732.07,1137.775 734.94,1138.160 737.82,1138.540 740.69,1138.915 743.57,1139.286 746.45,1139.651 749.32,1140.011 752.20,1140.366 755.08,1140.717 757.95,1141.062 760.83,1141.404 763.71,1141.740 766.58,1142.072 769.46,1142.399 772.34,1142.722 775.21,1143.040 778.09,1143.354 780.97,1143.664 783.84,1143.969 786.72,1144.270 789.59,1144.567 792.47,1144.859 795.35,1145.148 798.22,1145.433 801.10,1145.713 803.98,1145.990 806.85,1146.262 809.73,1146.531 812.61,1146.796 815.48,1147.058 818.36,1147.315 821.24,1147.569 824.11,1147.819 826.99,1148.066 829.86,1148.309 832.74,1148.548 835.62,1148.784 838.49,1149.016 841.37,1149.246 844.25,1149.471 847.12,1149.694 850.00,1149.913" fill="none" stroke="#ffff00" stroke-width="4.0" stroke-linejoin="round"/><path d="M105.00,721.913 107.88,728.283 110.75,734.559 113.63,740.744 116.51,746.839 119.38,752.845 122.26,758.764 125.14,764.596 128.01,770.343 130.89,776.006 133.76,781.587 136.64,787.087 139.52,792.506 142.39,797.847 145.27,803.110 148.15,808.296 151.02,813.407 153.90,818.444 156.78,823.407 159.65,828.298 162.53,833.118 165.41,837.868 168.28,842.548 171.16,847.161 174.03,851.707 176.91,856.187 179.79,860.601 182.66,864.952 185.54,869.239 188.42,873.464 191.29,877.628 194.17,881.731 197.05,885.775 199.92,889.760 202.80,893.687 205.68,897.558 208.55,901.372 211.43,905.131 214.31,908.835 217.18,912.486 220.06,916.083 222.93,919.629 225.81,923.123 228.69,926.567 231.56,929.960 234.44,933.305 237.32,936.601 240.19,939.849 243.07,943.050 245.95,946.205 248.82,949.314 251.70,952.378 254.58,955.398 257.45,958.374 260.33,961.307 263.20,964.198 266.08,967.046 268.96,969.854 271.83,972.621 274.71,975.347 277.59,978.035 280.46,980.683 283.34,983.293 286.22,985.866 289.09,988.401 291.97,990.899 294.85,993.361 297.72,995.788 300.60,998.180 303.47,1000.537 306.35,1002.860 309.23,1005.149 312.10,1007.405 314.98,1009.629 317.86,1011.820 320.73,1013.980 323.61,1016.108 326.49,1018.206 329.36,1020.273 332.24,1022.310 335.12,1024.318 337.99,1026.297 340.87,1028.247 343.75,1030.169 346.62,1032.064 349.50,1033.931 352.37,1035.770 355.25,1037.584 358.13,1039.371 361.00,1041.132 363.88,1042.867 366.76,1044.578 369.63,1046.264 372.51,1047.925 375.39,1049.562 378.26,1051.176 381.14,1052.766 384.02,1054.333 386.89,1055.878 389.77,1057.400 392.64,1058.900 395.52,1060.378 398.40,1061.835 401.27,1063.271 404.15,1064.686 407.03,1066.081 409.90,1067.455 412.78,1068.809 415.66,1070.144 418.53,1071.460 421.41,1072.756 424.29,1074.033 427.16,1075.292 430.04,1076.533 432.92,1077.756 435.79,1078.961 438.67,1080.148 441.54,1081.318 444.42,1082.472 447.30,1083.608 450.17,1084.728 453.05,1085.832 455.93,1086.919 458.80,1087.991 461.68,1089.047 464.56,1090.088 467.43,1091.114 470.31,1092.125 473.19,1093.121 476.06,1094.102 478.94,1095.070 481.81,1096.023 484.69,1096.962 487.57,1097.888 490.44,1098.800 493.32,1099.699 496.20,1100.584 499.07,1101.457 501.95,1102.317 504.83,1103.164 507.70,1103.999 510.58,1104.822 513.46,1105.633 516.33,1106.432 519.21,1107.219 522.08,1107.995 524.96,1108.759 527.84,1109.512 530.71,1110.254 533.59,1110.986 536.47,1111.706 539.34,1112.416 542.22,1113.115 545.10,1113.805 547.97,1114.484 550.85,1115.153 553.73,1115.812 556.60,1116.462 559.48,1117.102 562.36,1117.732 565.23,1118.353 568.11,1118.965 570.98,1119.569 573.86,1120.163 576.74,1120.748 579.61,1121.325 582.49,1121.893 585.37,1122.453 588.24,1123.004 591.12,1123.548 594.00,1124.083 596.87,1124.610 599.75,1125.130 602.63,1125.642 605.50,1126.146 608.38,1126.642 611.25,1127.132 614.13,1127.614 617.01,1128.089 619.88,1128.556 622.76,1129.017 625.64,1129.471 628.51,1129.918 631.39,1130.358 634.27,1130.792 637.14,1131.220 640.02,1131.640 642.90,1132.055 645.77,1132.463 648.65,1132.866 651.53,1133.262 654.40,1133.652 657.28,1134.036 660.15,1134.415 663.03,1134.788 665.91,1135.155 668.78,1135.517 671.66,1135.873 674.54,1136.224 677.41,1136.569 680.29,1136.909 683.17,1137.244 686.04,1137.574 688.92,1137.899 691.80,1138.219 694.67,1138.534 697.55,1138.845 700.42,1139.150 703.30,1139.451 706.18,1139.747 709.05,1140.039 711.93,1140.326 714.81,1140.609 717.68,1140.888 720.56,1141.162 723.44,1141.432 726.31,1141.698 729.19,1141.959 732.07,1142.217 734.94,1142.471 737.82,1142.720 740.69,1142.966 743.57,1143.208 746.45,1143.446 749.32,1143.681 752.20,1143.912 755.08,1144.139 757.95,1144.363 760.83,1144.583 763.71,1144.799 766.58,1145.013 769.46,1145.223 772.34,1145.429 775.21,1145.633 778.09,1145.833 780.97,1146.030 783.84,1146.224 786.72,1146.414 789.59,1146.602 792.47,1146.787 795.35,1146.968 798.22,1147.147 801.10,1147.323 803.98,1147.496 806.85,1147.667 809.73,1147.834 812.61,1147.999 815.48,1148.161 818.36,1148.321 821.24,1148.478 824.11,1148.632 826.99,1148.784 829.86,1148.934 832.74,1149.081 835.62,1149.225 838.49,1149.367 841.37,1149.507 844.25,1149.645 847.12,1149.780 850.00,1149.913" fill="none" stroke="#ffff00" stroke-width="4.0" stroke-linejoin="round"/><path d="M105.00,721.913 107.88,727.047 110.75,732.124 113.63,737.146 116.51,742.112 119.38,747.024 122.26,751.881 125.14,756.685 128.01,761.436 130.89,766.134 133.76,770.781 136.64,775.376 139.52,779.921 142.39,784.415 145.27,788.860 148.15,793.255 151.02,797.602 153.90,801.901 156.78,806.152 159.65,810.356 162.53,814.514 165.41,818.626 168.28,822.692 171.16,826.713 174.03,830.689 176.91,834.621 179.79,838.510 182.66,842.355 185.54,846.158 188.42,849.919 191.29,853.637 194.17,857.315 197.05,860.951 199.92,864.547 202.80,868.103 205.68,871.619 208.55,875.096 211.43,878.534 214.31,881.934 217.18,885.296 220.06,888.621 222.93,891.908 225.81,895.159 228.69,898.373 231.56,901.551 234.44,904.694 237.32,907.802 240.19,910.875 243.07,913.913 245.95,916.917 248.82,919.888 251.70,922.825 254.58,925.730 257.45,928.601 260.33,931.441 263.20,934.248 266.08,937.024 268.96,939.769 271.83,942.483 274.71,945.166 277.59,947.819 280.46,950.442 283.34,953.036 286.22,955.600 289.09,958.135 291.97,960.642 294.85,963.120 297.72,965.571 300.60,967.993 303.47,970.388 306.35,972.756 309.23,975.097 312.10,977.412 314.98,979.700 317.86,981.963 320.73,984.199 323.61,986.411 326.49,988.597 329.36,990.758 332.24,992.894 335.12,995.007 337.99,997.095 340.87,999.159 343.75,1001.200 346.62,1003.217 349.50,1005.212 352.37,1007.183 355.25,1009.132 358.13,1011.059 361.00,1012.963 363.88,1014.846 366.76,1016.707 369.63,1018.547 372.51,1020.366 375.39,1022.164 378.26,1023.941 381.14,1025.697 384.02,1027.434 386.89,1029.150 389.77,1030.847 392.64,1032.524 395.52,1034.181 398.40,1035.820 401.27,1037.439 404.15,1039.040 407.03,1040.622 409.90,1042.186 412.78,1043.732 415.66,1045.259 418.53,1046.769 421.41,1048.262 424.29,1049.737 427.16,1051.195 430.04,1052.636 432.92,1054.060 435.79,1055.467 438.67,1056.858 441.54,1058.233 444.42,1059.591 447.30,1060.934 450.17,1062.261 453.05,1063.573 455.93,1064.869 458.80,1066.149 461.68,1067.415 464.56,1068.666 467.43,1069.902 470.31,1071.124 473.19,1072.331 476.06,1073.524 478.94,1074.702 481.81,1075.867 484.69,1077.018 487.57,1078.155 490.44,1079.279 493.32,1080.390 496.20,1081.487 499.07,1082.571 501.95,1083.642 504.83,1084.701 507.70,1085.747 510.58,1086.780 513.46,1087.801 516.33,1088.810 519.21,1089.807 522.08,1090.792 524.96,1091.764 527.84,1092.726 530.71,1093.675 533.59,1094.614 536.47,1095.541 539.34,1096.456 542.22,1097.361 545.10,1098.255 547.97,1099.137 550.85,1100.010 553.73,1100.871 556.60,1101.722 559.48,1102.563 562.36,1103.394 565.23,1104.214 568.11,1105.024 570.98,1105.825 573.86,1106.616 576.74,1107.397 579.61,1108.168 582.49,1108.930 585.37,1109.682 588.24,1110.426 591.12,1111.160 594.00,1111.885 596.87,1112.601 599.75,1113.308 602.63,1114.007 605.50,1114.697 608.38,1115.378 611.25,1116.051 614.13,1116.715 617.01,1117.371 619.88,1118.019 622.76,1118.659 625.64,1119.291 628.51,1119.914 631.39,1120.530 634.27,1121.139 637.14,1121.739 640.02,1122.332 642.90,1122.918 645.77,1123.496 648.65,1124.067 651.53,1124.630 654.40,1125.187 657.28,1125.736 660.15,1126.278 663.03,1126.814 665.91,1127.342 668.78,1127.864 671.66,1128.379 674.54,1128.887 677.41,1129.389 680.29,1129.885 683.17,1130.374 686.04,1130.856 688.92,1131.333 691.80,1131.803 694.67,1132.267 697.55,1132.725 700.42,1133.177 703.30,1133.624 706.18,1134.064 709.05,1134.499 711.93,1134.927 714.81,1135.351 717.68,1135.768 720.56,1136.180 723.44,1136.587 726.31,1136.988 729.19,1137.384 732.07,1137.775 734.94,1138.160 737.82,1138.540 740.69,1138.915 743.57,1139.286 746.45,1139.651 749.32,1140.011 752.20,1140.366 755.08,1140.717 757.95,1141.062 760.83,1141.404 763.71,1141.740 766.58,1142.072 769.46,1142.399 772.34,1142.722 775.21,1143.040 778.09,1143.354 780.97,1143.664 783.84,1143.969 786.72,1144.270 789.59,1144.567 792.47,1144.859 795.35,1145.148 798.22,1145.433 801.10,1145.713 803.98,1145.990 806.85,1146.262 809.73,1146.531 812.61,1146.796 815.48,1147.058 818.36,1147.315 821.24,1147.569 824.11,1147.819 826.99,1148.066 829.86,1148.309 832.74,1148.548 835.62,1148.784 838.49,1149.016 841.37,1149.246 844.25,1149.471 847.12,1149.694 850.00,1149.913" fill="none" stroke="#000" stroke-width="4.2" stroke-dasharray="11.5 16" stroke-linejoin="round"/><path d="M105.00,721.913 107.88,727.307 110.75,732.637 113.63,737.906 116.51,743.114 119.38,748.260 122.26,753.347 125.14,758.374 128.01,763.343 130.89,768.254 133.76,773.108 136.64,777.904 139.52,782.645 142.39,787.330 145.27,791.961 148.15,796.537 151.02,801.060 153.90,805.530 156.78,809.948 159.65,814.314 162.53,818.628 165.41,822.892 168.28,827.106 171.16,831.271 174.03,835.387 176.91,839.454 179.79,843.473 182.66,847.446 185.54,851.371 188.42,855.251 191.29,859.085 194.17,862.873 197.05,866.617 199.92,870.317 202.80,873.973 205.68,877.586 208.55,881.157 211.43,884.685 214.31,888.172 217.18,891.617 220.06,895.022 222.93,898.386 225.81,901.710 228.69,904.996 231.56,908.242 234.44,911.450 237.32,914.619 240.19,917.751 243.07,920.846 245.95,923.904 248.82,926.926 251.70,929.912 254.58,932.862 257.45,935.778 260.33,938.658 263.20,941.504 266.08,944.317 268.96,947.095 271.83,949.841 274.71,952.554 277.59,955.234 280.46,957.882 283.34,960.499 286.22,963.084 289.09,965.638 291.97,968.162 294.85,970.655 297.72,973.119 300.60,975.553 303.47,977.958 306.35,980.333 309.23,982.681 312.10,985.000 314.98,987.291 317.86,989.554 320.73,991.790 323.61,993.999 326.49,996.182 329.36,998.338 332.24,1000.468 335.12,1002.573 337.99,1004.651 340.87,1006.705 343.75,1008.734 346.62,1010.738 349.50,1012.718 352.37,1014.674 355.25,1016.606 358.13,1018.514 361.00,1020.399 363.88,1022.262 366.76,1024.101 369.63,1025.919 372.51,1027.714 375.39,1029.487 378.26,1031.238 381.14,1032.968 384.02,1034.677 386.89,1036.365 389.77,1038.032 392.64,1039.679 395.52,1041.305 398.40,1042.912 401.27,1044.498 404.15,1046.066 407.03,1047.614 409.90,1049.142 412.78,1050.652 415.66,1052.144 418.53,1053.617 421.41,1055.071 424.29,1056.508 427.16,1057.927 430.04,1059.328 432.92,1060.712 435.79,1062.079 438.67,1063.428 441.54,1064.761 444.42,1066.078 447.30,1067.378 450.17,1068.661 453.05,1069.929 455.93,1071.181 458.80,1072.417 461.68,1073.638 464.56,1074.843 467.43,1076.033 470.31,1077.208 473.19,1078.369 476.06,1079.515 478.94,1080.646 481.81,1081.763 484.69,1082.867 487.57,1083.956 490.44,1085.031 493.32,1086.093 496.20,1087.141 499.07,1088.176 501.95,1089.198 504.83,1090.207 507.70,1091.203 510.58,1092.187 513.46,1093.157 516.33,1094.116 519.21,1095.062 522.08,1095.996 524.96,1096.918 527.84,1097.828 530.71,1098.727 533.59,1099.614 536.47,1100.490 539.34,1101.354 542.22,1102.207 545.10,1103.050 547.97,1103.881 550.85,1104.701 553.73,1105.511 556.60,1106.311 559.48,1107.100 562.36,1107.878 565.23,1108.647 568.11,1109.406 570.98,1110.154 573.86,1110.893 576.74,1111.622 579.61,1112.342 582.49,1113.052 585.37,1113.753 588.24,1114.445 591.12,1115.127 594.00,1115.801 596.87,1116.465 599.75,1117.121 602.63,1117.768 605.50,1118.407 608.38,1119.037 611.25,1119.658 614.13,1120.272 617.01,1120.877 619.88,1121.474 622.76,1122.063 625.64,1122.644 628.51,1123.217 631.39,1123.783 634.27,1124.341 637.14,1124.892 640.02,1125.435 642.90,1125.970 645.77,1126.499 648.65,1127.020 651.53,1127.534 654.40,1128.041 657.28,1128.542 660.15,1129.035 663.03,1129.522 665.91,1130.002 668.78,1130.475 671.66,1130.942 674.54,1131.402 677.41,1131.856 680.29,1132.304 683.17,1132.745 686.04,1133.181 688.92,1133.610 691.80,1134.033 694.67,1134.451 697.55,1134.862 700.42,1135.268 703.30,1135.668 706.18,1136.063 709.05,1136.451 711.93,1136.835 714.81,1137.213 717.68,1137.585 720.56,1137.953 723.44,1138.315 726.31,1138.671 729.19,1139.023 732.07,1139.370 734.94,1139.711 737.82,1140.048 740.69,1140.380 743.57,1140.707 746.45,1141.029 749.32,1141.347 752.20,1141.660 755.08,1141.969 757.95,1142.272 760.83,1142.572 763.71,1142.867 766.58,1143.158 769.46,1143.444 772.34,1143.726 775.21,1144.004 778.09,1144.278 780.97,1144.547 783.84,1144.813 786.72,1145.074 789.59,1145.332 792.47,1145.586 795.35,1145.836 798.22,1146.082 801.10,1146.324 803.98,1146.563 806.85,1146.798 809.73,1147.029 812.61,1147.257 815.48,1147.481 818.36,1147.702 821.24,1147.920 824.11,1148.133 826.99,1148.344 829.86,1148.551 832.74,1148.755 835.62,1148.956 838.49,1149.154 841.37,1149.348 844.25,1149.540 847.12,1149.728 850.00,1149.913" fill="none" stroke="#000" stroke-width="4.2" stroke-dasharray="11.5 16" stroke-linejoin="round"/><path d="M105.00,721.913 107.88,727.738 110.75,733.486 113.63,739.161 116.51,744.762 119.38,750.290 122.26,755.746 125.14,761.132 128.01,766.447 130.89,771.694 133.76,776.873 136.64,781.984 139.52,787.029 142.39,792.009 145.27,796.923 148.15,801.774 151.02,806.563 153.90,811.288 156.78,815.953 159.65,820.557 162.53,825.101 165.41,829.586 168.28,834.013 171.16,838.382 174.03,842.694 176.91,846.951 179.79,851.152 182.66,855.298 185.54,859.391 188.42,863.430 191.29,867.417 194.17,871.352 197.05,875.235 199.92,879.068 202.80,882.852 205.68,886.586 208.55,890.271 211.43,893.908 214.31,897.498 217.18,901.042 220.06,904.539 222.93,907.990 225.81,911.397 228.69,914.759 231.56,918.077 234.44,921.352 237.32,924.584 240.19,927.774 243.07,930.923 245.95,934.030 248.82,937.097 251.70,940.124 254.58,943.111 257.45,946.059 260.33,948.969 263.20,951.840 266.08,954.675 268.96,957.472 271.83,960.232 274.71,962.957 277.59,965.645 280.46,968.299 283.34,970.918 286.22,973.502 289.09,976.053 291.97,978.570 294.85,981.054 297.72,983.506 300.60,985.925 303.47,988.313 306.35,990.670 309.23,992.995 312.10,995.290 314.98,997.555 317.86,999.790 320.73,1001.996 323.61,1004.173 326.49,1006.321 329.36,1008.441 332.24,1010.533 335.12,1012.597 337.99,1014.634 340.87,1016.645 343.75,1018.629 346.62,1020.586 349.50,1022.518 352.37,1024.425 355.25,1026.306 358.13,1028.163 361.00,1029.995 363.88,1031.803 366.76,1033.586 369.63,1035.347 372.51,1037.084 375.39,1038.798 378.26,1040.489 381.14,1042.158 384.02,1043.805 386.89,1045.430 389.77,1047.034 392.64,1048.616 395.52,1050.177 398.40,1051.718 401.27,1053.238 404.15,1054.737 407.03,1056.217 409.90,1057.677 412.78,1059.118 415.66,1060.540 418.53,1061.942 421.41,1063.326 424.29,1064.692 427.16,1066.039 430.04,1067.369 432.92,1068.680 435.79,1069.974 438.67,1071.251 441.54,1072.511 444.42,1073.753 447.30,1074.979 450.17,1076.189 453.05,1077.383 455.93,1078.560 458.80,1079.722 461.68,1080.868 464.56,1081.999 467.43,1083.114 470.31,1084.215 473.19,1085.300 476.06,1086.371 478.94,1087.428 481.81,1088.470 484.69,1089.498 487.57,1090.513 490.44,1091.514 493.32,1092.501 496.20,1093.474 499.07,1094.435 501.95,1095.383 504.83,1096.317 507.70,1097.239 510.58,1098.149 513.46,1099.046 516.33,1099.931 519.21,1100.804 522.08,1101.665 524.96,1102.514 527.84,1103.352 530.71,1104.178 533.59,1104.993 536.47,1105.797 539.34,1106.590 542.22,1107.372 545.10,1108.143 547.97,1108.904 550.85,1109.654 553.73,1110.394 556.60,1111.123 559.48,1111.843 562.36,1112.553 565.23,1113.253 568.11,1113.943 570.98,1114.624 573.86,1115.295 576.74,1115.957 579.61,1116.610 582.49,1117.254 585.37,1117.889 588.24,1118.515 591.12,1119.132 594.00,1119.741 596.87,1120.341 599.75,1120.933 602.63,1121.517 605.50,1122.092 608.38,1122.660 611.25,1123.219 614.13,1123.771 617.01,1124.315 619.88,1124.851 622.76,1125.379 625.64,1125.901 628.51,1126.414 631.39,1126.921 634.27,1127.421 637.14,1127.913 640.02,1128.398 642.90,1128.877 645.77,1129.348 648.65,1129.813 651.53,1130.272 654.40,1130.724 657.28,1131.169 660.15,1131.608 663.03,1132.041 665.91,1132.467 668.78,1132.888 671.66,1133.302 674.54,1133.710 677.41,1134.113 680.29,1134.509 683.17,1134.900 686.04,1135.286 688.92,1135.665 691.80,1136.040 694.67,1136.408 697.55,1136.772 700.42,1137.130 703.30,1137.482 706.18,1137.830 709.05,1138.173 711.93,1138.510 714.81,1138.843 717.68,1139.170 720.56,1139.493 723.44,1139.811 726.31,1140.125 729.19,1140.433 732.07,1140.737 734.94,1141.037 737.82,1141.332 740.69,1141.623 743.57,1141.909 746.45,1142.191 749.32,1142.469 752.20,1142.743 755.08,1143.012 757.95,1143.278 760.83,1143.539 763.71,1143.797 766.58,1144.050 769.46,1144.300 772.34,1144.546 775.21,1144.788 778.09,1145.026 780.97,1145.261 783.84,1145.492 786.72,1145.720 789.59,1145.944 792.47,1146.164 795.35,1146.381 798.22,1146.595 801.10,1146.806 803.98,1147.013 806.85,1147.217 809.73,1147.417 812.61,1147.615 815.48,1147.809 818.36,1148.000 821.24,1148.189 824.11,1148.374 826.99,1148.556 829.86,1148.736 832.74,1148.912 835.62,1149.086 838.49,1149.257 841.37,1149.425 844.25,1149.590 847.12,1149.753 850.00,1149.913" fill="none" stroke="#000" stroke-width="4.2" stroke-dasharray="11.5 16" stroke-linejoin="round"/><path d="M105.00,721.913 107.88,728.283 110.75,734.559 113.63,740.744 116.51,746.839 119.38,752.845 122.26,758.764 125.14,764.596 128.01,770.343 130.89,776.006 133.76,781.587 136.64,787.087 139.52,792.506 142.39,797.847 145.27,803.110 148.15,808.296 151.02,813.407 153.90,818.444 156.78,823.407 159.65,828.298 162.53,833.118 165.41,837.868 168.28,842.548 171.16,847.161 174.03,851.707 176.91,856.187 179.79,860.601 182.66,864.952 185.54,869.239 188.42,873.464 191.29,877.628 194.17,881.731 197.05,885.775 199.92,889.760 202.80,893.687 205.68,897.558 208.55,901.372 211.43,905.131 214.31,908.835 217.18,912.486 220.06,916.083 222.93,919.629 225.81,923.123 228.69,926.567 231.56,929.960 234.44,933.305 237.32,936.601 240.19,939.849 243.07,943.050 245.95,946.205 248.82,949.314 251.70,952.378 254.58,955.398 257.45,958.374 260.33,961.307 263.20,964.198 266.08,967.046 268.96,969.854 271.83,972.621 274.71,975.347 277.59,978.035 280.46,980.683 283.34,983.293 286.22,985.866 289.09,988.401 291.97,990.899 294.85,993.361 297.72,995.788 300.60,998.180 303.47,1000.537 306.35,1002.860 309.23,1005.149 312.10,1007.405 314.98,1009.629 317.86,1011.820 320.73,1013.980 323.61,1016.108 326.49,1018.206 329.36,1020.273 332.24,1022.310 335.12,1024.318 337.99,1026.297 340.87,1028.247 343.75,1030.169 346.62,1032.064 349.50,1033.931 352.37,1035.770 355.25,1037.584 358.13,1039.371 361.00,1041.132 363.88,1042.867 366.76,1044.578 369.63,1046.264 372.51,1047.925 375.39,1049.562 378.26,1051.176 381.14,1052.766 384.02,1054.333 386.89,1055.878 389.77,1057.400 392.64,1058.900 395.52,1060.378 398.40,1061.835 401.27,1063.271 404.15,1064.686 407.03,1066.081 409.90,1067.455 412.78,1068.809 415.66,1070.144 418.53,1071.460 421.41,1072.756 424.29,1074.033 427.16,1075.292 430.04,1076.533 432.92,1077.756 435.79,1078.961 438.67,1080.148 441.54,1081.318 444.42,1082.472 447.30,1083.608 450.17,1084.728 453.05,1085.832 455.93,1086.919 458.80,1087.991 461.68,1089.047 464.56,1090.088 467.43,1091.114 470.31,1092.125 473.19,1093.121 476.06,1094.102 478.94,1095.070 481.81,1096.023 484.69,1096.962 487.57,1097.888 490.44,1098.800 493.32,1099.699 496.20,1100.584 499.07,1101.457 501.95,1102.317 504.83,1103.164 507.70,1103.999 510.58,1104.822 513.46,1105.633 516.33,1106.432 519.21,1107.219 522.08,1107.995 524.96,1108.759 527.84,1109.512 530.71,1110.254 533.59,1110.986 536.47,1111.706 539.34,1112.416 542.22,1113.115 545.10,1113.805 547.97,1114.484 550.85,1115.153 553.73,1115.812 556.60,1116.462 559.48,1117.102 562.36,1117.732 565.23,1118.353 568.11,1118.965 570.98,1119.569 573.86,1120.163 576.74,1120.748 579.61,1121.325 582.49,1121.893 585.37,1122.453 588.24,1123.004 591.12,1123.548 594.00,1124.083 596.87,1124.610 599.75,1125.130 602.63,1125.642 605.50,1126.146 608.38,1126.642 611.25,1127.132 614.13,1127.614 617.01,1128.089 619.88,1128.556 622.76,1129.017 625.64,1129.471 628.51,1129.918 631.39,1130.358 634.27,1130.792 637.14,1131.220 640.02,1131.640 642.90,1132.055 645.77,1132.463 648.65,1132.866 651.53,1133.262 654.40,1133.652 657.28,1134.036 660.15,1134.415 663.03,1134.788 665.91,1135.155 668.78,1135.517 671.66,1135.873 674.54,1136.224 677.41,1136.569 680.29,1136.909 683.17,1137.244 686.04,1137.574 688.92,1137.899 691.80,1138.219 694.67,1138.534 697.55,1138.845 700.42,1139.150 703.30,1139.451 706.18,1139.747 709.05,1140.039 711.93,1140.326 714.81,1140.609 717.68,1140.888 720.56,1141.162 723.44,1141.432 726.31,1141.698 729.19,1141.959 732.07,1142.217 734.94,1142.471 737.82,1142.720 740.69,1142.966 743.57,1143.208 746.45,1143.446 749.32,1143.681 752.20,1143.912 755.08,1144.139 757.95,1144.363 760.83,1144.583 763.71,1144.799 766.58,1145.013 769.46,1145.223 772.34,1145.429 775.21,1145.633 778.09,1145.833 780.97,1146.030 783.84,1146.224 786.72,1146.414 789.59,1146.602 792.47,1146.787 795.35,1146.968 798.22,1147.147 801.10,1147.323 803.98,1147.496 806.85,1147.667 809.73,1147.834 812.61,1147.999 815.48,1148.161 818.36,1148.321 821.24,1148.478 824.11,1148.632 826.99,1148.784 829.86,1148.934 832.74,1149.081 835.62,1149.225 838.49,1149.367 841.37,1149.507 844.25,1149.645 847.12,1149.780 850.00,1149.913" fill="none" stroke="#000" stroke-width="4.2" stroke-dasharray="11.5 16" stroke-linejoin="round"/><path d="M105.00,721.913 107.88,728.950 110.75,735.874 113.63,742.688 116.51,749.394 119.38,755.992 122.26,762.486 125.14,768.876 128.01,775.164 130.89,781.351 133.76,787.440 136.64,793.432 139.52,799.328 142.39,805.130 145.27,810.840 148.15,816.458 151.02,821.987 153.90,827.427 156.78,832.781 159.65,838.048 162.53,843.232 165.41,848.333 168.28,853.353 171.16,858.292 174.03,863.152 176.91,867.935 179.79,872.641 182.66,877.271 185.54,881.828 188.42,886.312 191.29,890.724 194.17,895.065 197.05,899.337 199.92,903.540 202.80,907.676 205.68,911.746 208.55,915.751 211.43,919.691 214.31,923.568 217.18,927.383 220.06,931.137 222.93,934.831 225.81,938.465 228.69,942.041 231.56,945.560 234.44,949.022 237.32,952.428 240.19,955.780 243.07,959.078 245.95,962.323 248.82,965.515 251.70,968.656 254.58,971.747 257.45,974.788 260.33,977.780 263.20,980.724 266.08,983.620 268.96,986.470 271.83,989.274 274.71,992.033 277.59,994.747 280.46,997.417 283.34,1000.044 286.22,1002.629 289.09,1005.172 291.97,1007.674 294.85,1010.136 297.72,1012.557 300.60,1014.940 303.47,1017.284 306.35,1019.590 309.23,1021.859 312.10,1024.091 314.98,1026.286 317.86,1028.447 320.73,1030.572 323.61,1032.663 326.49,1034.719 329.36,1036.743 332.24,1038.733 335.12,1040.691 337.99,1042.618 340.87,1044.513 343.75,1046.377 346.62,1048.211 349.50,1050.015 352.37,1051.789 355.25,1053.535 358.13,1055.252 361.00,1056.941 363.88,1058.603 366.76,1060.238 369.63,1061.845 372.51,1063.427 375.39,1064.982 378.26,1066.513 381.14,1068.018 384.02,1069.498 386.89,1070.954 389.77,1072.387 392.64,1073.795 395.52,1075.181 398.40,1076.544 401.27,1077.884 404.15,1079.203 407.03,1080.500 409.90,1081.775 412.78,1083.030 415.66,1084.263 418.53,1085.477 421.41,1086.670 424.29,1087.844 427.16,1088.998 430.04,1090.133 432.92,1091.250 435.79,1092.348 438.67,1093.427 441.54,1094.489 444.42,1095.533 447.30,1096.560 450.17,1097.570 453.05,1098.563 455.93,1099.540 458.80,1100.500 461.68,1101.444 464.56,1102.373 467.43,1103.286 470.31,1104.183 473.19,1105.066 476.06,1105.934 478.94,1106.788 481.81,1107.627 484.69,1108.452 487.57,1109.263 490.44,1110.061 493.32,1110.845 496.20,1111.616 499.07,1112.374 501.95,1113.120 504.83,1113.853 507.70,1114.573 510.58,1115.281 513.46,1115.977 516.33,1116.662 519.21,1117.335 522.08,1117.996 524.96,1118.646 527.84,1119.286 530.71,1119.914 533.59,1120.532 536.47,1121.139 539.34,1121.735 542.22,1122.322 545.10,1122.898 547.97,1123.465 550.85,1124.022 553.73,1124.569 556.60,1125.107 559.48,1125.636 562.36,1126.156 565.23,1126.667 568.11,1127.169 570.98,1127.662 573.86,1128.147 576.74,1128.623 579.61,1129.091 582.49,1129.551 585.37,1130.003 588.24,1130.447 591.12,1130.883 594.00,1131.312 596.87,1131.734 599.75,1132.148 602.63,1132.554 605.50,1132.954 608.38,1133.346 611.25,1133.732 614.13,1134.111 617.01,1134.483 619.88,1134.849 622.76,1135.208 625.64,1135.561 628.51,1135.907 631.39,1136.248 634.27,1136.582 637.14,1136.910 640.02,1137.233 642.90,1137.550 645.77,1137.861 648.65,1138.166 651.53,1138.467 654.40,1138.761 657.28,1139.051 660.15,1139.335 663.03,1139.614 665.91,1139.888 668.78,1140.157 671.66,1140.421 674.54,1140.680 677.41,1140.935 680.29,1141.185 683.17,1141.430 686.04,1141.671 688.92,1141.907 691.80,1142.139 694.67,1142.367 697.55,1142.591 700.42,1142.810 703.30,1143.025 706.18,1143.237 709.05,1143.444 711.93,1143.648 714.81,1143.848 717.68,1144.044 720.56,1144.236 723.44,1144.424 726.31,1144.610 729.19,1144.791 732.07,1144.969 734.94,1145.144 737.82,1145.316 740.69,1145.484 743.57,1145.649 746.45,1145.810 749.32,1145.969 752.20,1146.125 755.08,1146.277 757.95,1146.427 760.83,1146.574 763.71,1146.717 766.58,1146.858 769.46,1146.997 772.34,1147.132 775.21,1147.265 778.09,1147.395 780.97,1147.523 783.84,1147.648 786.72,1147.771 789.59,1147.891 792.47,1148.008 795.35,1148.124 798.22,1148.237 801.10,1148.347 803.98,1148.456 806.85,1148.562 809.73,1148.666 812.61,1148.768 815.48,1148.868 818.36,1148.965 821.24,1149.061 824.11,1149.155 826.99,1149.246 829.86,1149.336 832.74,1149.424 835.62,1149.510 838.49,1149.594 841.37,1149.677 844.25,1149.757 847.12,1149.836 850.00,1149.913" fill="none" stroke="#000" stroke-width="4.2" stroke-dasharray="11.5 16" stroke-linejoin="round"/><path d="M105.00,721.913 107.88,730.068 110.75,738.071 113.63,745.926 116.51,753.635 119.38,761.201 122.26,768.626 125.14,775.913 128.01,783.065 130.89,790.083 133.76,796.971 136.64,803.731 139.52,810.365 142.39,816.876 145.27,823.266 148.15,829.536 151.02,835.690 153.90,841.729 156.78,847.655 159.65,853.472 162.53,859.179 165.41,864.780 168.28,870.277 171.16,875.671 174.03,880.965 176.91,886.159 179.79,891.257 182.66,896.259 185.54,901.168 188.42,905.985 191.29,910.713 194.17,915.351 197.05,919.903 199.92,924.370 202.80,928.753 205.68,933.054 208.55,937.275 211.43,941.416 214.31,945.480 217.18,949.468 220.06,953.381 222.93,957.220 225.81,960.988 228.69,964.684 231.56,968.312 234.44,971.871 237.32,975.363 240.19,978.790 243.07,982.152 245.95,985.451 248.82,988.687 251.70,991.863 254.58,994.979 257.45,998.037 260.33,1001.036 263.20,1003.980 266.08,1006.867 268.96,1009.700 271.83,1012.480 274.71,1015.207 277.59,1017.883 280.46,1020.508 283.34,1023.083 286.22,1025.610 289.09,1028.089 291.97,1030.521 294.85,1032.907 297.72,1035.247 300.60,1037.544 303.47,1039.796 306.35,1042.006 309.23,1044.174 312.10,1046.301 314.98,1048.387 317.86,1050.434 320.73,1052.442 323.61,1054.411 326.49,1056.343 329.36,1058.239 332.24,1060.098 335.12,1061.921 337.99,1063.710 340.87,1065.465 343.75,1067.186 346.62,1068.874 349.50,1070.530 352.37,1072.154 355.25,1073.748 358.13,1075.310 361.00,1076.843 363.88,1078.346 366.76,1079.821 369.63,1081.267 372.51,1082.685 375.39,1084.076 378.26,1085.440 381.14,1086.779 384.02,1088.091 386.89,1089.378 389.77,1090.640 392.64,1091.878 395.52,1093.092 398.40,1094.282 401.27,1095.449 404.15,1096.594 407.03,1097.717 409.90,1098.818 412.78,1099.897 415.66,1100.956 418.53,1101.994 421.41,1103.011 424.29,1104.010 427.16,1104.988 430.04,1105.948 432.92,1106.888 435.79,1107.811 438.67,1108.715 441.54,1109.602 444.42,1110.472 447.30,1111.324 450.17,1112.160 453.05,1112.979 455.93,1113.782 458.80,1114.570 461.68,1115.342 464.56,1116.098 467.43,1116.840 470.31,1117.568 473.19,1118.281 476.06,1118.979 478.94,1119.664 481.81,1120.336 484.69,1120.994 487.57,1121.639 490.44,1122.272 493.32,1122.891 496.20,1123.499 499.07,1124.094 501.95,1124.678 504.83,1125.250 507.70,1125.810 510.58,1126.359 513.46,1126.898 516.33,1127.425 519.21,1127.942 522.08,1128.448 524.96,1128.945 527.84,1129.431 530.71,1129.908 533.59,1130.375 536.47,1130.832 539.34,1131.281 542.22,1131.720 545.10,1132.150 547.97,1132.572 550.85,1132.985 553.73,1133.389 556.60,1133.786 559.48,1134.174 562.36,1134.555 565.23,1134.927 568.11,1135.292 570.98,1135.650 573.86,1136.000 576.74,1136.343 579.61,1136.679 582.49,1137.008 585.37,1137.330 588.24,1137.645 591.12,1137.954 594.00,1138.257 596.87,1138.553 599.75,1138.844 602.63,1139.128 605.50,1139.406 608.38,1139.678 611.25,1139.945 614.13,1140.206 617.01,1140.461 619.88,1140.712 622.76,1140.957 625.64,1141.196 628.51,1141.431 631.39,1141.661 634.27,1141.886 637.14,1142.106 640.02,1142.321 642.90,1142.532 645.77,1142.738 648.65,1142.940 651.53,1143.138 654.40,1143.331 657.28,1143.520 660.15,1143.705 663.03,1143.886 665.91,1144.063 668.78,1144.236 671.66,1144.406 674.54,1144.572 677.41,1144.734 680.29,1144.892 683.17,1145.048 686.04,1145.199 688.92,1145.348 691.80,1145.493 694.67,1145.635 697.55,1145.773 700.42,1145.909 703.30,1146.041 706.18,1146.171 709.05,1146.298 711.93,1146.422 714.81,1146.543 717.68,1146.661 720.56,1146.776 723.44,1146.889 726.31,1147.000 729.19,1147.108 732.07,1147.213 734.94,1147.316 737.82,1147.417 740.69,1147.515 743.57,1147.611 746.45,1147.705 749.32,1147.796 752.20,1147.886 755.08,1147.973 757.95,1148.058 760.83,1148.141 763.71,1148.223 766.58,1148.302 769.46,1148.379 772.34,1148.455 775.21,1148.528 778.09,1148.600 780.97,1148.670 783.84,1148.739 786.72,1148.806 789.59,1148.871 792.47,1148.934 795.35,1148.996 798.22,1149.057 801.10,1149.116 803.98,1149.173 806.85,1149.229 809.73,1149.283 812.61,1149.337 815.48,1149.388 818.36,1149.439 821.24,1149.488 824.11,1149.536 826.99,1149.582 829.86,1149.628 832.74,1149.672 835.62,1149.715 838.49,1149.757 841.37,1149.797 844.25,1149.837 847.12,1149.876 850.00,1149.913" fill="none" stroke="#000" stroke-width="4.2" stroke-dasharray="11.5 16" stroke-linejoin="round"/></g><clipPath id="lclipB"><rect x="0" y="0" width="866" height="3000"/></clipPath><g clip-path="url(#lclipB)"><rect x="464.55" y="733.511" width="432.20" height="100.457" rx="1.5" fill="#fff" stroke="#000" stroke-width="6.5"/><line x1="479.4" x2="518.6" y1="760.522" y2="760.522" stroke="#ffff00" stroke-width="3.0"/><line x1="479.4" x2="492.4" y1="806.870" y2="806.870" stroke="#000" stroke-width="2.7"/><line x1="508.8" x2="517.5" y1="806.870" y2="806.870" stroke="#000" stroke-width="2.7"/></g><rect x="89.40" y="698.522" width="776.10" height="475.043" fill="none" stroke="#000" stroke-width="2.1"/></g><text x="0" y="0" font-family="Liberation Sans" font-size="100" font-weight="bold" transform="translate(2.61,774.90) scale(0.4131,0.4348)" ><tspan >B</tspan></text><text x="0" y="0" font-family="Liberation Sans" font-size="100" font-weight="normal" stroke="#fff" stroke-width="1.2" transform="translate(388.56,780.50) scale(0.2923,0.3319)" ><tspan >M=0.3,</tspan><tspan font-style="italic">S</tspan><tspan dy="22.000" font-size="71.000" font-style="italic">t</tspan><tspan dy="-22.000" dx="8.000">=3.0</tspan></text><text x="0" y="0" font-family="Liberation Sans" font-size="100" font-weight="normal" stroke="#fff" stroke-width="1.2" transform="translate(567.54,1035.90) scale(0.2312,0.2362)" ><tspan font-style="italic">γ</tspan><tspan dy="22.000" font-size="71.000">1</tspan><tspan dy="-22.000" dx="10.000">=1,0.2,3,4,5,6</tspan></text><text x="0" y="0" font-family="Liberation Sans" font-size="100" font-weight="normal" stroke="#fff" stroke-width="1.2" transform="translate(469.90,1433.67) scale(0.3020,0.3253)" ><tspan font-style="italic">η</tspan></text><text x="0" y="0" font-family="Liberation Sans" font-size="100" font-weight="normal" stroke="#fff" stroke-width="1.2" transform="translate(26.68,1105.53) rotate(-90) scale(0.3360,0.2915)" ><tspan font-style="italic">β</tspan><tspan >(</tspan><tspan font-style="italic">η</tspan><tspan >)</tspan></text><text x="0" y="0" font-family="Liberation Sans" font-size="100" font-weight="normal" stroke="#fff" stroke-width="1.2" transform="translate(41.78,1333.92) scale(0.2920,0.3340)" ><tspan >0.0</tspan></text><text x="0" y="0" font-family="Liberation Sans" font-size="100" font-weight="normal" stroke="#fff" stroke-width="1.2" transform="translate(42.07,1235.48) scale(0.2920,0.3340)" ><tspan >0.2</tspan></text><text x="0" y="0" font-family="Liberation Sans" font-size="100" font-weight="normal" stroke="#fff" stroke-width="1.2" transform="translate(41.49,1137.04) scale(0.2920,0.3340)" ><tspan >0.4</tspan></text><text x="0" y="0" font-family="Liberation Sans" font-size="100" font-weight="normal" stroke="#fff" stroke-width="1.2" transform="translate(41.78,1038.60) scale(0.2920,0.3340)" ><tspan >0.6</tspan></text><text x="0" y="0" font-family="Liberation Sans" font-size="100" font-weight="normal" stroke="#fff" stroke-width="1.2" transform="translate(41.78,940.16) scale(0.2920,0.3340)" ><tspan >0.8</tspan></text><text x="0" y="0" font-family="Liberation Sans" font-size="100" font-weight="normal" stroke="#fff" stroke-width="1.2" transform="translate(41.78,841.72) scale(0.2920,0.3340)" ><tspan >1.0</tspan></text><text x="0" y="0" font-family="Liberation Sans" font-size="100" font-weight="normal" stroke="#fff" stroke-width="1.2" transform="translate(96.82,1387.22) scale(0.2920,0.3340)" ><tspan >0</tspan></text><text x="0" y="0" font-family="Liberation Sans" font-size="100" font-weight="normal" stroke="#fff" stroke-width="1.2" transform="translate(283.22,1387.06) scale(0.2920,0.3340)" ><tspan >5</tspan></text><text x="0" y="0" font-family="Liberation Sans" font-size="100" font-weight="normal" stroke="#fff" stroke-width="1.2" transform="translate(460.71,1387.22) scale(0.2920,0.3340)" ><tspan >10</tspan></text><text x="0" y="0" font-family="Liberation Sans" font-size="100" font-weight="normal" stroke="#fff" stroke-width="1.2" transform="translate(646.96,1387.06) scale(0.2920,0.3340)" ><tspan >15</tspan></text><text x="0" y="0" font-family="Liberation Sans" font-size="100" font-weight="normal" stroke="#fff" stroke-width="1.2" transform="translate(833.65,1387.22) scale(0.2920,0.3340)" ><tspan >20</tspan></text><g clip-path="url(#lclipBs)"><text x="0" y="0" font-family="Liberation Sans" font-size="100" font-weight="normal" stroke="#fff" stroke-width="1.2" transform="translate(531.60,935.50) scale(0.2761,0.2942)" ><tspan >Al</tspan><tspan dy="22.000" font-size="71.000">2</tspan><tspan dy="-22.000">O</tspan><tspan dy="22.000" font-size="71.000">3</tspan><tspan dy="-22.000">−/blood,</tspan><tspan font-style="italic">ϕ</tspan><tspan dy="22.000" font-size="71.000">1</tspan><tspan dy="-22.000">=0.1</tspan></text><text x="0" y="0" font-family="Liberation Sans" font-size="100" font-weight="normal" stroke="#fff" stroke-width="1.2" transform="translate(529.92,882.20) scale(0.2796,0.2986)" ><tspan >(Al</tspan><tspan dy="22.000" font-size="71.000">2</tspan><tspan dy="-22.000">O</tspan><tspan dy="22.000" font-size="71.000">3</tspan><tspan dy="-22.000">−Fe</tspan><tspan dy="22.000" font-size="71.000">3</tspan><tspan dy="-22.000">O</tspan><tspan dy="22.000" font-size="71.000">4</tspan><tspan dy="-22.000">)/blood,</tspan><tspan font-style="italic">ϕ</tspan><tspan dy="22.000" font-size="71.000">1</tspan><tspan dy="-22.000">=</tspan><tspan font-style="italic">ϕ</tspan><tspan dy="22.000" font-size="71.000">2</tspan><tspan dy="-22.000">=0.1</tspan></text></g><line x1="294.80" y1="1239.50" x2="412.48" y2="1119.07" stroke="#000" stroke-width="2.2"/><polygon points="431.70,1099.40 415.97,1127.37 411.78,1119.78 404.10,1115.77" fill="#000"/><g transform="scale(1,1.23)"><clipPath id="clipC"><rect x="95.50" y="1252.846" width="817.80" height="488.780"/></clipPath><g clip-path="url(#clipC)"><path d="M111.40,1276.179 114.44,1279.870 117.47,1283.539 120.51,1287.184 123.54,1290.806 126.58,1294.405 129.61,1297.982 132.65,1301.536 135.68,1305.067 138.72,1308.576 141.75,1312.063 144.79,1315.528 147.82,1318.970 150.86,1322.391 153.89,1325.789 156.93,1329.166 159.96,1332.521 163.00,1335.855 166.03,1339.167 169.07,1342.458 172.10,1345.728 175.14,1348.977 178.17,1352.205 181.21,1355.412 184.24,1358.598 187.28,1361.763 190.31,1364.908 193.35,1368.033 196.38,1371.137 199.42,1374.221 202.45,1377.284 205.49,1380.328 208.52,1383.352 211.56,1386.356 214.59,1389.340 217.63,1392.305 220.66,1395.250 223.70,1398.176 226.74,1401.082 229.77,1403.969 232.81,1406.837 235.84,1409.687 238.88,1412.517 241.91,1415.328 244.95,1418.121 247.98,1420.895 251.02,1423.650 254.05,1426.387 257.09,1429.106 260.12,1431.807 263.16,1434.489 266.19,1437.154 269.23,1439.800 272.26,1442.429 275.30,1445.040 278.33,1447.633 281.37,1450.209 284.40,1452.767 287.44,1455.308 290.47,1457.831 293.51,1460.338 296.54,1462.827 299.58,1465.299 302.61,1467.755 305.65,1470.193 308.68,1472.615 311.72,1475.020 314.75,1477.409 317.79,1479.781 320.82,1482.137 323.86,1484.476 326.89,1486.800 329.93,1489.107 332.96,1491.398 336.00,1493.674 339.04,1495.933 342.07,1498.177 345.11,1500.405 348.14,1502.617 351.18,1504.814 354.21,1506.996 357.25,1509.162 360.28,1511.313 363.32,1513.449 366.35,1515.570 369.39,1517.675 372.42,1519.766 375.46,1521.842 378.49,1523.903 381.53,1525.950 384.56,1527.982 387.60,1530.000 390.63,1532.003 393.67,1533.991 396.70,1535.966 399.74,1537.926 402.77,1539.873 405.81,1541.805 408.84,1543.723 411.88,1545.627 414.91,1547.518 417.95,1549.395 420.98,1551.258 424.02,1553.108 427.05,1554.944 430.09,1556.767 433.12,1558.577 436.16,1560.373 439.19,1562.156 442.23,1563.926 445.26,1565.683 448.30,1567.427 451.34,1569.158 454.37,1570.877 457.41,1572.582 460.44,1574.275 463.48,1575.956 466.51,1577.623 469.55,1579.279 472.58,1580.922 475.62,1582.553 478.65,1584.171 481.69,1585.778 484.72,1587.372 487.76,1588.954 490.79,1590.525 493.83,1592.083 496.86,1593.630 499.90,1595.165 502.93,1596.688 505.97,1598.200 509.00,1599.700 512.04,1601.189 515.07,1602.666 518.11,1604.132 521.14,1605.587 524.18,1607.030 527.21,1608.463 530.25,1609.884 533.28,1611.294 536.32,1612.694 539.35,1614.082 542.39,1615.460 545.42,1616.827 548.46,1618.183 551.49,1619.529 554.53,1620.864 557.56,1622.189 560.60,1623.503 563.64,1624.807 566.67,1626.101 569.71,1627.384 572.74,1628.657 575.78,1629.920 578.81,1631.173 581.85,1632.416 584.88,1633.649 587.92,1634.873 590.95,1636.086 593.99,1637.290 597.02,1638.484 600.06,1639.668 603.09,1640.843 606.13,1642.008 609.16,1643.164 612.20,1644.310 615.23,1645.447 618.27,1646.575 621.30,1647.694 624.34,1648.803 627.37,1649.903 630.41,1650.995 633.44,1652.077 636.48,1653.150 639.51,1654.214 642.55,1655.270 645.58,1656.317 648.62,1657.355 651.65,1658.384 654.69,1659.405 657.72,1660.417 660.76,1661.421 663.79,1662.416 666.83,1663.403 669.86,1664.381 672.90,1665.351 675.94,1666.313 678.97,1667.267 682.01,1668.212 685.04,1669.150 688.08,1670.079 691.11,1671.001 694.15,1671.914 697.18,1672.820 700.22,1673.718 703.25,1674.608 706.29,1675.490 709.32,1676.365 712.36,1677.232 715.39,1678.091 718.43,1678.943 721.46,1679.787 724.50,1680.624 727.53,1681.454 730.57,1682.276 733.60,1683.091 736.64,1683.898 739.67,1684.699 742.71,1685.492 745.74,1686.278 748.78,1687.057 751.81,1687.829 754.85,1688.594 757.88,1689.352 760.92,1690.104 763.95,1690.848 766.99,1691.586 770.02,1692.316 773.06,1693.041 776.09,1693.758 779.13,1694.469 782.16,1695.173 785.20,1695.871 788.24,1696.563 791.27,1697.247 794.31,1697.926 797.34,1698.598 800.38,1699.264 803.41,1699.923 806.45,1700.577 809.48,1701.224 812.52,1701.865 815.55,1702.500 818.59,1703.129 821.62,1703.751 824.66,1704.368 827.69,1704.979 830.73,1705.584 833.76,1706.183 836.80,1706.776 839.83,1707.364 842.87,1707.946 845.90,1708.522 848.94,1709.092 851.97,1709.657 855.01,1710.216 858.04,1710.770 861.08,1711.318 864.11,1711.861 867.15,1712.398 870.18,1712.930 873.22,1713.456 876.25,1713.977 879.29,1714.493 882.32,1715.004 885.36,1715.509 888.39,1716.010 891.43,1716.505 894.46,1716.995 897.50,1717.480" fill="none" stroke="#ffff00" stroke-width="4.0" stroke-linejoin="round"/><path d="M111.40,1276.179 114.44,1280.351 117.47,1284.492 120.51,1288.602 123.54,1292.681 126.58,1296.730 129.61,1300.748 132.65,1304.736 135.68,1308.695 138.72,1312.623 141.75,1316.522 144.79,1320.391 147.82,1324.231 150.86,1328.042 153.89,1331.824 156.93,1335.577 159.96,1339.302 163.00,1342.998 166.03,1346.667 169.07,1350.307 172.10,1353.919 175.14,1357.503 178.17,1361.060 181.21,1364.590 184.24,1368.092 187.28,1371.568 190.31,1375.016 193.35,1378.438 196.38,1381.833 199.42,1385.202 202.45,1388.545 205.49,1391.862 208.52,1395.152 211.56,1398.418 214.59,1401.657 217.63,1404.871 220.66,1408.060 223.70,1411.224 226.74,1414.363 229.77,1417.477 232.81,1420.567 235.84,1423.632 238.88,1426.673 241.91,1429.690 244.95,1432.683 247.98,1435.652 251.02,1438.597 254.05,1441.519 257.09,1444.417 260.12,1447.292 263.16,1450.144 266.19,1452.974 269.23,1455.780 272.26,1458.564 275.30,1461.325 278.33,1464.064 281.37,1466.781 284.40,1469.475 287.44,1472.148 290.47,1474.799 293.51,1477.429 296.54,1480.036 299.58,1482.623 302.61,1485.188 305.65,1487.733 308.68,1490.256 311.72,1492.759 314.75,1495.241 317.79,1497.702 320.82,1500.143 323.86,1502.564 326.89,1504.965 329.93,1507.345 332.96,1509.706 336.00,1512.047 339.04,1514.369 342.07,1516.671 345.11,1518.954 348.14,1521.217 351.18,1523.462 354.21,1525.688 357.25,1527.894 360.28,1530.083 363.32,1532.252 366.35,1534.403 369.39,1536.536 372.42,1538.651 375.46,1540.747 378.49,1542.826 381.53,1544.887 384.56,1546.930 387.60,1548.956 390.63,1550.964 393.67,1552.955 396.70,1554.928 399.74,1556.885 402.77,1558.824 405.81,1560.747 408.84,1562.653 411.88,1564.542 414.91,1566.415 417.95,1568.271 420.98,1570.112 424.02,1571.936 427.05,1573.743 430.09,1575.535 433.12,1577.311 436.16,1579.072 439.19,1580.817 442.23,1582.546 445.26,1584.260 448.30,1585.958 451.34,1587.642 454.37,1589.310 457.41,1590.964 460.44,1592.602 463.48,1594.226 466.51,1595.835 469.55,1597.430 472.58,1599.010 475.62,1600.576 478.65,1602.127 481.69,1603.665 484.72,1605.188 487.76,1606.698 490.79,1608.193 493.83,1609.675 496.86,1611.143 499.90,1612.598 502.93,1614.040 505.97,1615.468 509.00,1616.882 512.04,1618.284 515.07,1619.673 518.11,1621.048 521.14,1622.411 524.18,1623.761 527.21,1625.098 530.25,1626.423 533.28,1627.735 536.32,1629.035 539.35,1630.323 542.39,1631.598 545.42,1632.861 548.46,1634.112 551.49,1635.352 554.53,1636.579 557.56,1637.795 560.60,1638.999 563.64,1640.191 566.67,1641.372 569.71,1642.541 572.74,1643.700 575.78,1644.846 578.81,1645.982 581.85,1647.107 584.88,1648.220 587.92,1649.323 590.95,1650.415 593.99,1651.496 597.02,1652.567 600.06,1653.627 603.09,1654.676 606.13,1655.715 609.16,1656.744 612.20,1657.762 615.23,1658.771 618.27,1659.769 621.30,1660.757 624.34,1661.735 627.37,1662.703 630.41,1663.662 633.44,1664.611 636.48,1665.550 639.51,1666.479 642.55,1667.399 645.58,1668.310 648.62,1669.211 651.65,1670.103 654.69,1670.986 657.72,1671.860 660.76,1672.724 663.79,1673.580 666.83,1674.427 669.86,1675.265 672.90,1676.094 675.94,1676.914 678.97,1677.726 682.01,1678.529 685.04,1679.324 688.08,1680.110 691.11,1680.888 694.15,1681.658 697.18,1682.419 700.22,1683.173 703.25,1683.918 706.29,1684.655 709.32,1685.384 712.36,1686.105 715.39,1686.819 718.43,1687.525 721.46,1688.222 724.50,1688.913 727.53,1689.595 730.57,1690.271 733.60,1690.938 736.64,1691.599 739.67,1692.252 742.71,1692.898 745.74,1693.536 748.78,1694.167 751.81,1694.792 754.85,1695.409 757.88,1696.019 760.92,1696.622 763.95,1697.219 766.99,1697.809 770.02,1698.391 773.06,1698.968 776.09,1699.537 779.13,1700.100 782.16,1700.657 785.20,1701.207 788.24,1701.750 791.27,1702.287 794.31,1702.818 797.34,1703.343 800.38,1703.861 803.41,1704.374 806.45,1704.880 809.48,1705.380 812.52,1705.874 815.55,1706.362 818.59,1706.845 821.62,1707.321 824.66,1707.792 827.69,1708.257 830.73,1708.716 833.76,1709.170 836.80,1709.618 839.83,1710.061 842.87,1710.498 845.90,1710.929 848.94,1711.356 851.97,1711.777 855.01,1712.192 858.04,1712.602 861.08,1713.008 864.11,1713.408 867.15,1713.802 870.18,1714.192 873.22,1714.577 876.25,1714.957 879.29,1715.332 882.32,1715.702 885.36,1716.067 888.39,1716.427 891.43,1716.783 894.46,1717.133 897.50,1717.480" fill="none" stroke="#ffff00" stroke-width="4.0" stroke-linejoin="round"/><path d="M111.40,1276.179 114.44,1280.742 117.47,1285.266 120.51,1289.752 123.54,1294.200 126.58,1298.610 129.61,1302.983 132.65,1307.319 135.68,1311.618 138.72,1315.880 141.75,1320.106 144.79,1324.296 147.82,1328.450 150.86,1332.569 153.89,1336.652 156.93,1340.699 159.96,1344.712 163.00,1348.691 166.03,1352.635 169.07,1356.545 172.10,1360.421 175.14,1364.263 178.17,1368.072 181.21,1371.848 184.24,1375.591 187.28,1379.301 190.31,1382.979 193.35,1386.625 196.38,1390.239 199.42,1393.820 202.45,1397.371 205.49,1400.890 208.52,1404.378 211.56,1407.835 214.59,1411.262 217.63,1414.658 220.66,1418.024 223.70,1421.360 226.74,1424.666 229.77,1427.943 232.81,1431.190 235.84,1434.409 238.88,1437.598 241.91,1440.759 244.95,1443.892 247.98,1446.996 251.02,1450.072 254.05,1453.121 257.09,1456.142 260.12,1459.135 263.16,1462.101 266.19,1465.041 269.23,1467.953 272.26,1470.839 275.30,1473.699 278.33,1476.532 281.37,1479.339 284.40,1482.121 287.44,1484.877 290.47,1487.607 293.51,1490.313 296.54,1492.993 299.58,1495.648 302.61,1498.279 305.65,1500.885 308.68,1503.468 311.72,1506.026 314.75,1508.560 317.79,1511.070 320.82,1513.557 323.86,1516.020 326.89,1518.461 329.93,1520.878 332.96,1523.273 336.00,1525.645 339.04,1527.994 342.07,1530.321 345.11,1532.626 348.14,1534.909 351.18,1537.171 354.21,1539.410 357.25,1541.629 360.28,1543.826 363.32,1546.001 366.35,1548.156 369.39,1550.291 372.42,1552.404 375.46,1554.497 378.49,1556.570 381.53,1558.623 384.56,1560.656 387.60,1562.669 390.63,1564.662 393.67,1566.636 396.70,1568.591 399.74,1570.526 402.77,1572.442 405.81,1574.340 408.84,1576.219 411.88,1578.079 414.91,1579.920 417.95,1581.744 420.98,1583.549 424.02,1585.337 427.05,1587.106 430.09,1588.858 433.12,1590.592 436.16,1592.309 439.19,1594.009 442.23,1595.692 445.26,1597.357 448.30,1599.006 451.34,1600.638 454.37,1602.254 457.41,1603.853 460.44,1605.435 463.48,1607.002 466.51,1608.553 469.55,1610.087 472.58,1611.606 475.62,1613.110 478.65,1614.597 481.69,1616.070 484.72,1617.527 487.76,1618.969 490.79,1620.396 493.83,1621.809 496.86,1623.206 499.90,1624.589 502.93,1625.958 505.97,1627.312 509.00,1628.652 512.04,1629.977 515.07,1631.289 518.11,1632.587 521.14,1633.871 524.18,1635.141 527.21,1636.398 530.25,1637.642 533.28,1638.872 536.32,1640.089 539.35,1641.293 542.39,1642.484 545.42,1643.662 548.46,1644.827 551.49,1645.980 554.53,1647.120 557.56,1648.248 560.60,1649.364 563.64,1650.467 566.67,1651.558 569.71,1652.638 572.74,1653.705 575.78,1654.761 578.81,1655.805 581.85,1656.837 584.88,1657.858 587.92,1658.867 590.95,1659.866 593.99,1660.853 597.02,1661.829 600.06,1662.794 603.09,1663.748 606.13,1664.692 609.16,1665.625 612.20,1666.547 615.23,1667.459 618.27,1668.360 621.30,1669.251 624.34,1670.132 627.37,1671.003 630.41,1671.863 633.44,1672.714 636.48,1673.555 639.51,1674.386 642.55,1675.208 645.58,1676.020 648.62,1676.822 651.65,1677.615 654.69,1678.399 657.72,1679.174 660.76,1679.939 663.79,1680.695 666.83,1681.443 669.86,1682.181 672.90,1682.911 675.94,1683.632 678.97,1684.344 682.01,1685.048 685.04,1685.743 688.08,1686.430 691.11,1687.108 694.15,1687.779 697.18,1688.441 700.22,1689.095 703.25,1689.741 706.29,1690.379 709.32,1691.009 712.36,1691.631 715.39,1692.246 718.43,1692.853 721.46,1693.452 724.50,1694.044 727.53,1694.629 730.57,1695.206 733.60,1695.775 736.64,1696.338 739.67,1696.894 742.71,1697.442 745.74,1697.983 748.78,1698.518 751.81,1699.045 754.85,1699.566 757.88,1700.080 760.92,1700.587 763.95,1701.088 766.99,1701.582 770.02,1702.070 773.06,1702.551 776.09,1703.026 779.13,1703.495 782.16,1703.957 785.20,1704.414 788.24,1704.864 791.27,1705.308 794.31,1705.746 797.34,1706.178 800.38,1706.604 803.41,1707.025 806.45,1707.440 809.48,1707.849 812.52,1708.252 815.55,1708.650 818.59,1709.042 821.62,1709.429 824.66,1709.811 827.69,1710.187 830.73,1710.558 833.76,1710.923 836.80,1711.283 839.83,1711.639 842.87,1711.989 845.90,1712.334 848.94,1712.674 851.97,1713.009 855.01,1713.340 858.04,1713.665 861.08,1713.986 864.11,1714.302 867.15,1714.613 870.18,1714.920 873.22,1715.222 876.25,1715.520 879.29,1715.813 882.32,1716.101 885.36,1716.386 888.39,1716.665 891.43,1716.941 894.46,1717.212 897.50,1717.480" fill="none" stroke="#ffff00" stroke-width="4.0" stroke-linejoin="round"/><path d="M111.40,1276.179 114.44,1280.995 117.47,1285.771 120.51,1290.507 123.54,1295.203 126.58,1299.860 129.61,1304.476 132.65,1309.054 135.68,1313.593 138.72,1318.093 141.75,1322.554 144.79,1326.977 147.82,1331.362 150.86,1335.709 153.89,1340.018 156.93,1344.290 159.96,1348.525 163.00,1352.723 166.03,1356.884 169.07,1361.008 172.10,1365.096 175.14,1369.147 178.17,1373.163 181.21,1377.143 184.24,1381.088 187.28,1384.997 190.31,1388.872 193.35,1392.711 196.38,1396.516 199.42,1400.287 202.45,1404.023 205.49,1407.725 208.52,1411.394 211.56,1415.029 214.59,1418.630 217.63,1422.199 220.66,1425.734 223.70,1429.237 226.74,1432.708 229.77,1436.146 232.81,1439.552 235.84,1442.926 238.88,1446.269 241.91,1449.580 244.95,1452.860 247.98,1456.109 251.02,1459.327 254.05,1462.514 257.09,1465.671 260.12,1468.798 263.16,1471.895 266.19,1474.962 269.23,1478.000 272.26,1481.008 275.30,1483.987 278.33,1486.937 281.37,1489.858 284.40,1492.751 287.44,1495.615 290.47,1498.451 293.51,1501.259 296.54,1504.040 299.58,1506.793 302.61,1509.518 305.65,1512.216 308.68,1514.888 311.72,1517.532 314.75,1520.150 317.79,1522.742 320.82,1525.307 323.86,1527.846 326.89,1530.360 329.93,1532.847 332.96,1535.310 336.00,1537.747 339.04,1540.159 342.07,1542.546 345.11,1544.909 348.14,1547.247 351.18,1549.561 354.21,1551.850 357.25,1554.116 360.28,1556.358 363.32,1558.576 366.35,1560.771 369.39,1562.942 372.42,1565.091 375.46,1567.217 378.49,1569.320 381.53,1571.401 384.56,1573.459 387.60,1575.495 390.63,1577.509 393.67,1579.502 396.70,1581.473 399.74,1583.422 402.77,1585.350 405.81,1587.257 408.84,1589.143 411.88,1591.009 414.91,1592.853 417.95,1594.678 420.98,1596.482 424.02,1598.266 427.05,1600.030 430.09,1601.774 433.12,1603.499 436.16,1605.204 439.19,1606.890 442.23,1608.557 445.26,1610.205 448.30,1611.835 451.34,1613.445 454.37,1615.038 457.41,1616.612 460.44,1618.167 463.48,1619.705 466.51,1621.225 469.55,1622.728 472.58,1624.212 475.62,1625.680 478.65,1627.130 481.69,1628.563 484.72,1629.980 487.76,1631.379 490.79,1632.762 493.83,1634.129 496.86,1635.479 499.90,1636.813 502.93,1638.131 505.97,1639.433 509.00,1640.719 512.04,1641.990 515.07,1643.245 518.11,1644.485 521.14,1645.710 524.18,1646.920 527.21,1648.115 530.25,1649.295 533.28,1650.461 536.32,1651.612 539.35,1652.749 542.39,1653.871 545.42,1654.980 548.46,1656.074 551.49,1657.155 554.53,1658.222 557.56,1659.276 560.60,1660.316 563.64,1661.343 566.67,1662.356 569.71,1663.357 572.74,1664.345 575.78,1665.320 578.81,1666.282 581.85,1667.232 584.88,1668.169 587.92,1669.094 590.95,1670.007 593.99,1670.908 597.02,1671.797 600.06,1672.675 603.09,1673.540 606.13,1674.394 609.16,1675.237 612.20,1676.068 615.23,1676.888 618.27,1677.696 621.30,1678.494 624.34,1679.281 627.37,1680.058 630.41,1680.823 633.44,1681.578 636.48,1682.323 639.51,1683.057 642.55,1683.781 645.58,1684.495 648.62,1685.199 651.65,1685.893 654.69,1686.577 657.72,1687.251 660.76,1687.916 663.79,1688.572 666.83,1689.218 669.86,1689.855 672.90,1690.482 675.94,1691.101 678.97,1691.710 682.01,1692.311 685.04,1692.903 688.08,1693.486 691.11,1694.060 694.15,1694.626 697.18,1695.184 700.22,1695.733 703.25,1696.274 706.29,1696.807 709.32,1697.332 712.36,1697.849 715.39,1698.358 718.43,1698.859 721.46,1699.353 724.50,1699.838 727.53,1700.317 730.57,1700.788 733.60,1701.252 736.64,1701.708 739.67,1702.157 742.71,1702.599 745.74,1703.035 748.78,1703.463 751.81,1703.884 754.85,1704.299 757.88,1704.707 760.92,1705.108 763.95,1705.503 766.99,1705.891 770.02,1706.273 773.06,1706.649 776.09,1707.018 779.13,1707.381 782.16,1707.738 785.20,1708.090 788.24,1708.435 791.27,1708.774 794.31,1709.108 797.34,1709.436 800.38,1709.758 803.41,1710.075 806.45,1710.386 809.48,1710.692 812.52,1710.992 815.55,1711.287 818.59,1711.577 821.62,1711.862 824.66,1712.141 827.69,1712.416 830.73,1712.685 833.76,1712.950 836.80,1713.210 839.83,1713.465 842.87,1713.715 845.90,1713.961 848.94,1714.202 851.97,1714.438 855.01,1714.670 858.04,1714.898 861.08,1715.121 864.11,1715.340 867.15,1715.555 870.18,1715.765 873.22,1715.971 876.25,1716.174 879.29,1716.372 882.32,1716.566 885.36,1716.756 888.39,1716.943 891.43,1717.126 894.46,1717.304 897.50,1717.480" fill="none" stroke="#ffff00" stroke-width="4.0" stroke-linejoin="round"/><path d="M111.40,1276.179 114.44,1281.786 117.47,1287.329 120.51,1292.810 123.54,1298.229 126.58,1303.586 129.61,1308.882 132.65,1314.118 135.68,1319.295 138.72,1324.412 141.75,1329.472 144.79,1334.473 147.82,1339.417 150.86,1344.305 153.89,1349.137 156.93,1353.913 159.96,1358.634 163.00,1363.302 166.03,1367.915 169.07,1372.476 172.10,1376.984 175.14,1381.440 178.17,1385.845 181.21,1390.198 184.24,1394.502 187.28,1398.755 190.31,1402.959 193.35,1407.115 196.38,1411.222 199.42,1415.281 202.45,1419.294 205.49,1423.259 208.52,1427.178 211.56,1431.052 214.59,1434.880 217.63,1438.663 220.66,1442.402 223.70,1446.097 226.74,1449.749 229.77,1453.358 232.81,1456.925 235.84,1460.449 238.88,1463.932 241.91,1467.374 244.95,1470.775 247.98,1474.136 251.02,1477.457 254.05,1480.738 257.09,1483.981 260.12,1487.185 263.16,1490.351 266.19,1493.480 269.23,1496.571 272.26,1499.625 275.30,1502.643 278.33,1505.624 281.37,1508.570 284.40,1511.481 287.44,1514.356 290.47,1517.197 293.51,1520.004 296.54,1522.777 299.58,1525.517 302.61,1528.223 305.65,1530.897 308.68,1533.538 311.72,1536.148 314.75,1538.725 317.79,1541.272 320.82,1543.787 323.86,1546.272 326.89,1548.727 329.93,1551.151 332.96,1553.546 336.00,1555.911 339.04,1558.248 342.07,1560.556 345.11,1562.835 348.14,1565.087 351.18,1567.311 354.21,1569.507 357.25,1571.676 360.28,1573.819 363.32,1575.935 366.35,1578.024 369.39,1580.088 372.42,1582.126 375.46,1584.139 378.49,1586.126 381.53,1588.089 384.56,1590.027 387.60,1591.941 390.63,1593.832 393.67,1595.698 396.70,1597.541 399.74,1599.360 402.77,1601.157 405.81,1602.931 408.84,1604.683 411.88,1606.413 414.91,1608.120 417.95,1609.806 420.98,1611.471 424.02,1613.114 427.05,1614.737 430.09,1616.338 433.12,1617.920 436.16,1619.481 439.19,1621.022 442.23,1622.543 445.26,1624.045 448.30,1625.527 451.34,1626.990 454.37,1628.435 457.41,1629.861 460.44,1631.268 463.48,1632.657 466.51,1634.028 469.55,1635.381 472.58,1636.716 475.62,1638.034 478.65,1639.335 481.69,1640.619 484.72,1641.886 487.76,1643.137 490.79,1644.370 493.83,1645.588 496.86,1646.790 499.90,1647.975 502.93,1649.145 505.97,1650.300 509.00,1651.439 512.04,1652.563 515.07,1653.672 518.11,1654.766 521.14,1655.846 524.18,1656.911 527.21,1657.962 530.25,1658.999 533.28,1660.022 536.32,1661.031 539.35,1662.026 542.39,1663.008 545.42,1663.976 548.46,1664.932 551.49,1665.874 554.53,1666.804 557.56,1667.721 560.60,1668.625 563.64,1669.517 566.67,1670.397 569.71,1671.264 572.74,1672.120 575.78,1672.964 578.81,1673.796 581.85,1674.617 584.88,1675.426 587.92,1676.224 590.95,1677.011 593.99,1677.786 597.02,1678.551 600.06,1679.306 603.09,1680.049 606.13,1680.783 609.16,1681.505 612.20,1682.218 615.23,1682.920 618.27,1683.613 621.30,1684.296 624.34,1684.969 627.37,1685.632 630.41,1686.286 633.44,1686.930 636.48,1687.565 639.51,1688.191 642.55,1688.808 645.58,1689.417 648.62,1690.016 651.65,1690.606 654.69,1691.188 657.72,1691.762 660.76,1692.327 663.79,1692.883 666.83,1693.432 669.86,1693.972 672.90,1694.505 675.94,1695.029 678.97,1695.546 682.01,1696.055 685.04,1696.557 688.08,1697.050 691.11,1697.537 694.15,1698.016 697.18,1698.488 700.22,1698.953 703.25,1699.411 706.29,1699.862 709.32,1700.306 712.36,1700.743 715.39,1701.174 718.43,1701.597 721.46,1702.015 724.50,1702.426 727.53,1702.830 730.57,1703.229 733.60,1703.621 736.64,1704.007 739.67,1704.387 742.71,1704.761 745.74,1705.129 748.78,1705.491 751.81,1705.847 754.85,1706.198 757.88,1706.543 760.92,1706.883 763.95,1707.217 766.99,1707.546 770.02,1707.870 773.06,1708.188 776.09,1708.501 779.13,1708.809 782.16,1709.112 785.20,1709.410 788.24,1709.704 791.27,1709.992 794.31,1710.275 797.34,1710.554 800.38,1710.828 803.41,1711.098 806.45,1711.363 809.48,1711.623 812.52,1711.880 815.55,1712.131 818.59,1712.379 821.62,1712.622 824.66,1712.861 827.69,1713.096 830.73,1713.327 833.76,1713.554 836.80,1713.777 839.83,1713.996 842.87,1714.211 845.90,1714.422 848.94,1714.630 851.97,1714.833 855.01,1715.034 858.04,1715.230 861.08,1715.423 864.11,1715.613 867.15,1715.799 870.18,1715.981 873.22,1716.161 876.25,1716.337 879.29,1716.510 882.32,1716.679 885.36,1716.845 888.39,1717.009 891.43,1717.169 894.46,1717.326 897.50,1717.480" fill="none" stroke="#ffff00" stroke-width="4.0" stroke-linejoin="round"/><path d="M111.40,1276.179 114.44,1281.979 117.47,1287.710 120.51,1293.374 123.54,1298.971 126.58,1304.501 129.61,1309.966 132.65,1315.366 135.68,1320.702 138.72,1325.975 141.75,1331.184 144.79,1336.332 147.82,1341.419 150.86,1346.444 153.89,1351.410 156.93,1356.316 159.96,1361.164 163.00,1365.953 166.03,1370.686 169.07,1375.361 172.10,1379.980 175.14,1384.544 178.17,1389.052 181.21,1393.507 184.24,1397.908 187.28,1402.255 190.31,1406.550 193.35,1410.793 196.38,1414.985 199.42,1419.126 202.45,1423.216 205.49,1427.257 208.52,1431.249 211.56,1435.192 214.59,1439.087 217.63,1442.935 220.66,1446.736 223.70,1450.490 226.74,1454.198 229.77,1457.861 232.81,1461.479 235.84,1465.053 238.88,1468.583 241.91,1472.069 244.95,1475.512 247.98,1478.913 251.02,1482.272 254.05,1485.590 257.09,1488.866 260.12,1492.102 263.16,1495.298 266.19,1498.454 269.23,1501.571 272.26,1504.649 275.30,1507.689 278.33,1510.691 281.37,1513.655 284.40,1516.583 287.44,1519.474 290.47,1522.328 293.51,1525.147 296.54,1527.931 299.58,1530.680 302.61,1533.394 305.65,1536.074 308.68,1538.720 311.72,1541.332 314.75,1543.912 317.79,1546.459 320.82,1548.974 323.86,1551.457 326.89,1553.908 329.93,1556.329 332.96,1558.718 336.00,1561.077 339.04,1563.406 342.07,1565.705 345.11,1567.975 348.14,1570.216 351.18,1572.428 354.21,1574.612 357.25,1576.767 360.28,1578.895 363.32,1580.995 366.35,1583.069 369.39,1585.115 372.42,1587.135 375.46,1589.129 378.49,1591.097 381.53,1593.040 384.56,1594.957 387.60,1596.849 390.63,1598.717 393.67,1600.560 396.70,1602.380 399.74,1604.175 402.77,1605.947 405.81,1607.695 408.84,1609.421 411.88,1611.124 414.91,1612.804 417.95,1614.463 420.98,1616.099 424.02,1617.714 427.05,1619.307 430.09,1620.880 433.12,1622.431 436.16,1623.962 439.19,1625.472 442.23,1626.962 445.26,1628.432 448.30,1629.883 451.34,1631.314 454.37,1632.726 457.41,1634.119 460.44,1635.493 463.48,1636.849 466.51,1638.186 469.55,1639.506 472.58,1640.807 475.62,1642.091 478.65,1643.357 481.69,1644.606 484.72,1645.838 487.76,1647.054 490.79,1648.252 493.83,1649.435 496.86,1650.601 499.90,1651.751 502.93,1652.885 505.97,1654.004 509.00,1655.107 512.04,1656.195 515.07,1657.268 518.11,1658.326 521.14,1659.369 524.18,1660.398 527.21,1661.412 530.25,1662.412 533.28,1663.399 536.32,1664.371 539.35,1665.330 542.39,1666.275 545.42,1667.207 548.46,1668.126 551.49,1669.032 554.53,1669.925 557.56,1670.805 560.60,1671.673 563.64,1672.529 566.67,1673.372 569.71,1674.203 572.74,1675.023 575.78,1675.830 578.81,1676.626 581.85,1677.411 584.88,1678.184 587.92,1678.946 590.95,1679.697 593.99,1680.437 597.02,1681.167 600.06,1681.885 603.09,1682.594 606.13,1683.292 609.16,1683.979 612.20,1684.657 615.23,1685.325 618.27,1685.982 621.30,1686.630 624.34,1687.269 627.37,1687.898 630.41,1688.517 633.44,1689.128 636.48,1689.729 639.51,1690.321 642.55,1690.905 645.58,1691.479 648.62,1692.045 651.65,1692.603 654.69,1693.152 657.72,1693.693 660.76,1694.225 663.79,1694.749 666.83,1695.266 669.86,1695.774 672.90,1696.275 675.94,1696.768 678.97,1697.253 682.01,1697.731 685.04,1698.201 688.08,1698.664 691.11,1699.120 694.15,1699.569 697.18,1700.011 700.22,1700.445 703.25,1700.873 706.29,1701.295 709.32,1701.709 712.36,1702.117 715.39,1702.519 718.43,1702.914 721.46,1703.303 724.50,1703.685 727.53,1704.062 730.57,1704.432 733.60,1704.796 736.64,1705.155 739.67,1705.507 742.71,1705.854 745.74,1706.195 748.78,1706.531 751.81,1706.861 754.85,1707.185 757.88,1707.505 760.92,1707.819 763.95,1708.127 766.99,1708.431 770.02,1708.729 773.06,1709.023 776.09,1709.311 779.13,1709.595 782.16,1709.873 785.20,1710.147 788.24,1710.417 791.27,1710.682 794.31,1710.942 797.34,1711.197 800.38,1711.449 803.41,1711.695 806.45,1711.938 809.48,1712.176 812.52,1712.410 815.55,1712.640 818.59,1712.866 821.62,1713.088 824.66,1713.306 827.69,1713.520 830.73,1713.730 833.76,1713.936 836.80,1714.139 839.83,1714.338 842.87,1714.533 845.90,1714.724 848.94,1714.913 851.97,1715.097 855.01,1715.278 858.04,1715.456 861.08,1715.630 864.11,1715.802 867.15,1715.970 870.18,1716.134 873.22,1716.296 876.25,1716.454 879.29,1716.609 882.32,1716.762 885.36,1716.911 888.39,1717.058 891.43,1717.201 894.46,1717.342 897.50,1717.480" fill="none" stroke="#ffff00" stroke-width="4.0" stroke-linejoin="round"/><path d="M111.40,1276.179 114.44,1281.046 117.47,1285.867 120.51,1290.641 123.54,1295.369 126.58,1300.051 129.61,1304.688 132.65,1309.280 135.68,1313.828 138.72,1318.331 141.75,1322.791 144.79,1327.208 147.82,1331.582 150.86,1335.913 153.89,1340.202 156.93,1344.449 159.96,1348.655 163.00,1352.820 166.03,1356.944 169.07,1361.028 172.10,1365.072 175.14,1369.077 178.17,1373.042 181.21,1376.968 184.24,1380.856 187.28,1384.706 190.31,1388.518 193.35,1392.293 196.38,1396.030 199.42,1399.731 202.45,1403.395 205.49,1407.023 208.52,1410.615 211.56,1414.172 214.59,1417.693 217.63,1421.180 220.66,1424.632 223.70,1428.050 226.74,1431.434 229.77,1434.785 232.81,1438.102 235.84,1441.386 238.88,1444.638 241.91,1447.857 244.95,1451.044 247.98,1454.199 251.02,1457.323 254.05,1460.415 257.09,1463.477 260.12,1466.508 263.16,1469.508 266.19,1472.478 269.23,1475.419 272.26,1478.330 275.30,1481.212 278.33,1484.064 281.37,1486.888 284.40,1489.684 287.44,1492.451 290.47,1495.190 293.51,1497.902 296.54,1500.586 299.58,1503.243 302.61,1505.872 305.65,1508.476 308.68,1511.052 311.72,1513.603 314.75,1516.127 317.79,1518.626 320.82,1521.099 323.86,1523.548 326.89,1525.971 329.93,1528.369 332.96,1530.742 336.00,1533.092 339.04,1535.417 342.07,1537.718 345.11,1539.996 348.14,1542.250 351.18,1544.481 354.21,1546.689 357.25,1548.874 360.28,1551.036 363.32,1553.176 366.35,1555.294 369.39,1557.390 372.42,1559.464 375.46,1561.517 378.49,1563.548 381.53,1565.558 384.56,1567.547 387.60,1569.516 390.63,1571.464 393.67,1573.391 396.70,1575.298 399.74,1577.185 402.77,1579.053 405.81,1580.901 408.84,1582.729 411.88,1584.538 414.91,1586.328 417.95,1588.099 420.98,1589.852 424.02,1591.585 427.05,1593.301 430.09,1594.998 433.12,1596.677 436.16,1598.339 439.19,1599.982 442.23,1601.609 445.26,1603.217 448.30,1604.809 451.34,1606.384 454.37,1607.941 457.41,1609.482 460.44,1611.007 463.48,1612.515 466.51,1614.007 469.55,1615.483 472.58,1616.942 475.62,1618.386 478.65,1619.815 481.69,1621.228 484.72,1622.626 487.76,1624.008 490.79,1625.375 493.83,1626.728 496.86,1628.066 499.90,1629.389 502.93,1630.698 505.97,1631.992 509.00,1633.272 512.04,1634.538 515.07,1635.791 518.11,1637.029 521.14,1638.254 524.18,1639.465 527.21,1640.663 530.25,1641.848 533.28,1643.019 536.32,1644.178 539.35,1645.323 542.39,1646.456 545.42,1647.576 548.46,1648.684 551.49,1649.779 554.53,1650.862 557.56,1651.933 560.60,1652.992 563.64,1654.039 566.67,1655.074 569.71,1656.097 572.74,1657.109 575.78,1658.110 578.81,1659.099 581.85,1660.077 584.88,1661.043 587.92,1661.999 590.95,1662.944 593.99,1663.878 597.02,1664.801 600.06,1665.714 603.09,1666.616 606.13,1667.508 609.16,1668.390 612.20,1669.261 615.23,1670.122 618.27,1670.974 621.30,1671.815 624.34,1672.647 627.37,1673.469 630.41,1674.281 633.44,1675.084 636.48,1675.878 639.51,1676.662 642.55,1677.437 645.58,1678.203 648.62,1678.960 651.65,1679.707 654.69,1680.446 657.72,1681.177 660.76,1681.898 663.79,1682.611 666.83,1683.316 669.86,1684.012 672.90,1684.700 675.94,1685.379 678.97,1686.051 682.01,1686.714 685.04,1687.369 688.08,1688.016 691.11,1688.656 694.15,1689.288 697.18,1689.912 700.22,1690.528 703.25,1691.137 706.29,1691.739 709.32,1692.333 712.36,1692.919 715.39,1693.499 718.43,1694.071 721.46,1694.637 724.50,1695.195 727.53,1695.746 730.57,1696.291 733.60,1696.828 736.64,1697.359 739.67,1697.884 742.71,1698.401 745.74,1698.913 748.78,1699.417 751.81,1699.916 754.85,1700.408 757.88,1700.893 760.92,1701.373 763.95,1701.846 766.99,1702.314 770.02,1702.775 773.06,1703.230 776.09,1703.680 779.13,1704.124 782.16,1704.562 785.20,1704.994 788.24,1705.420 791.27,1705.842 794.31,1706.257 797.34,1706.667 800.38,1707.072 803.41,1707.471 806.45,1707.865 809.48,1708.254 812.52,1708.637 815.55,1709.016 818.59,1709.389 821.62,1709.757 824.66,1710.121 827.69,1710.479 830.73,1710.833 833.76,1711.181 836.80,1711.525 839.83,1711.865 842.87,1712.199 845.90,1712.529 848.94,1712.855 851.97,1713.176 855.01,1713.492 858.04,1713.804 861.08,1714.112 864.11,1714.415 867.15,1714.714 870.18,1715.009 873.22,1715.300 876.25,1715.586 879.29,1715.869 882.32,1716.147 885.36,1716.421 888.39,1716.692 891.43,1716.958 894.46,1717.221 897.50,1717.480" fill="none" stroke="#000" stroke-width="1.3" stroke-dasharray="11.5 16" stroke-linejoin="round"/><path d="M111.40,1276.179 114.44,1281.786 117.47,1287.329 120.51,1292.810 123.54,1298.229 126.58,1303.586 129.61,1308.882 132.65,1314.118 135.68,1319.295 138.72,1324.412 141.75,1329.472 144.79,1334.473 147.82,1339.417 150.86,1344.305 153.89,1349.137 156.93,1353.913 159.96,1358.634 163.00,1363.302 166.03,1367.915 169.07,1372.476 172.10,1376.984 175.14,1381.440 178.17,1385.845 181.21,1390.198 184.24,1394.502 187.28,1398.755 190.31,1402.959 193.35,1407.115 196.38,1411.222 199.42,1415.281 202.45,1419.294 205.49,1423.259 208.52,1427.178 211.56,1431.052 214.59,1434.880 217.63,1438.663 220.66,1442.402 223.70,1446.097 226.74,1449.749 229.77,1453.358 232.81,1456.925 235.84,1460.449 238.88,1463.932 241.91,1467.374 244.95,1470.775 247.98,1474.136 251.02,1477.457 254.05,1480.738 257.09,1483.981 260.12,1487.185 263.16,1490.351 266.19,1493.480 269.23,1496.571 272.26,1499.625 275.30,1502.643 278.33,1505.624 281.37,1508.570 284.40,1511.481 287.44,1514.356 290.47,1517.197 293.51,1520.004 296.54,1522.777 299.58,1525.517 302.61,1528.223 305.65,1530.897 308.68,1533.538 311.72,1536.148 314.75,1538.725 317.79,1541.272 320.82,1543.787 323.86,1546.272 326.89,1548.727 329.93,1551.151 332.96,1553.546 336.00,1555.911 339.04,1558.248 342.07,1560.556 345.11,1562.835 348.14,1565.087 351.18,1567.311 354.21,1569.507 357.25,1571.676 360.28,1573.819 363.32,1575.935 366.35,1578.024 369.39,1580.088 372.42,1582.126 375.46,1584.139 378.49,1586.126 381.53,1588.089 384.56,1590.027 387.60,1591.941 390.63,1593.832 393.67,1595.698 396.70,1597.541 399.74,1599.360 402.77,1601.157 405.81,1602.931 408.84,1604.683 411.88,1606.413 414.91,1608.120 417.95,1609.806 420.98,1611.471 424.02,1613.114 427.05,1614.737 430.09,1616.338 433.12,1617.920 436.16,1619.481 439.19,1621.022 442.23,1622.543 445.26,1624.045 448.30,1625.527 451.34,1626.990 454.37,1628.435 457.41,1629.861 460.44,1631.268 463.48,1632.657 466.51,1634.028 469.55,1635.381 472.58,1636.716 475.62,1638.034 478.65,1639.335 481.69,1640.619 484.72,1641.886 487.76,1643.137 490.79,1644.370 493.83,1645.588 496.86,1646.790 499.90,1647.975 502.93,1649.145 505.97,1650.300 509.00,1651.439 512.04,1652.563 515.07,1653.672 518.11,1654.766 521.14,1655.846 524.18,1656.911 527.21,1657.962 530.25,1658.999 533.28,1660.022 536.32,1661.031 539.35,1662.026 542.39,1663.008 545.42,1663.976 548.46,1664.932 551.49,1665.874 554.53,1666.804 557.56,1667.721 560.60,1668.625 563.64,1669.517 566.67,1670.397 569.71,1671.264 572.74,1672.120 575.78,1672.964 578.81,1673.796 581.85,1674.617 584.88,1675.426 587.92,1676.224 590.95,1677.011 593.99,1677.786 597.02,1678.551 600.06,1679.306 603.09,1680.049 606.13,1680.783 609.16,1681.505 612.20,1682.218 615.23,1682.920 618.27,1683.613 621.30,1684.296 624.34,1684.969 627.37,1685.632 630.41,1686.286 633.44,1686.930 636.48,1687.565 639.51,1688.191 642.55,1688.808 645.58,1689.417 648.62,1690.016 651.65,1690.606 654.69,1691.188 657.72,1691.762 660.76,1692.327 663.79,1692.883 666.83,1693.432 669.86,1693.972 672.90,1694.505 675.94,1695.029 678.97,1695.546 682.01,1696.055 685.04,1696.557 688.08,1697.050 691.11,1697.537 694.15,1698.016 697.18,1698.488 700.22,1698.953 703.25,1699.411 706.29,1699.862 709.32,1700.306 712.36,1700.743 715.39,1701.174 718.43,1701.597 721.46,1702.015 724.50,1702.426 727.53,1702.830 730.57,1703.229 733.60,1703.621 736.64,1704.007 739.67,1704.387 742.71,1704.761 745.74,1705.129 748.78,1705.491 751.81,1705.847 754.85,1706.198 757.88,1706.543 760.92,1706.883 763.95,1707.217 766.99,1707.546 770.02,1707.870 773.06,1708.188 776.09,1708.501 779.13,1708.809 782.16,1709.112 785.20,1709.410 788.24,1709.704 791.27,1709.992 794.31,1710.275 797.34,1710.554 800.38,1710.828 803.41,1711.098 806.45,1711.363 809.48,1711.623 812.52,1711.880 815.55,1712.131 818.59,1712.379 821.62,1712.622 824.66,1712.861 827.69,1713.096 830.73,1713.327 833.76,1713.554 836.80,1713.777 839.83,1713.996 842.87,1714.211 845.90,1714.422 848.94,1714.630 851.97,1714.833 855.01,1715.034 858.04,1715.230 861.08,1715.423 864.11,1715.613 867.15,1715.799 870.18,1715.981 873.22,1716.161 876.25,1716.337 879.29,1716.510 882.32,1716.679 885.36,1716.845 888.39,1717.009 891.43,1717.169 894.46,1717.326 897.50,1717.480" fill="none" stroke="#000" stroke-width="4.2" stroke-dasharray="11.5 16" stroke-linejoin="round"/><path d="M111.40,1276.179 114.44,1282.812 117.47,1289.345 120.51,1295.781 123.54,1302.121 126.58,1308.366 129.61,1314.517 132.65,1320.576 135.68,1326.546 138.72,1332.425 141.75,1338.218 144.79,1343.923 147.82,1349.544 150.86,1355.081 153.89,1360.536 156.93,1365.909 159.96,1371.202 163.00,1376.417 166.03,1381.554 169.07,1386.615 172.10,1391.600 175.14,1396.512 178.17,1401.350 181.21,1406.117 184.24,1410.813 187.28,1415.440 190.31,1419.998 193.35,1424.488 196.38,1428.912 199.42,1433.270 202.45,1437.564 205.49,1441.795 208.52,1445.962 211.56,1450.069 214.59,1454.114 217.63,1458.100 220.66,1462.027 223.70,1465.896 226.74,1469.708 229.77,1473.464 232.81,1477.164 235.84,1480.810 238.88,1484.402 241.91,1487.941 244.95,1491.428 247.98,1494.864 251.02,1498.250 254.05,1501.585 257.09,1504.872 260.12,1508.110 263.16,1511.301 266.19,1514.444 269.23,1517.542 272.26,1520.594 275.30,1523.602 278.33,1526.565 281.37,1529.485 284.40,1532.362 287.44,1535.197 290.47,1537.991 293.51,1540.743 296.54,1543.456 299.58,1546.128 302.61,1548.762 305.65,1551.357 308.68,1553.914 311.72,1556.434 314.75,1558.917 317.79,1561.364 320.82,1563.775 323.86,1566.151 326.89,1568.492 329.93,1570.799 332.96,1573.072 336.00,1575.313 339.04,1577.520 342.07,1579.696 345.11,1581.839 348.14,1583.952 351.18,1586.034 354.21,1588.085 357.25,1590.107 360.28,1592.099 363.32,1594.063 366.35,1595.997 369.39,1597.904 372.42,1599.783 375.46,1601.635 378.49,1603.460 381.53,1605.258 384.56,1607.030 387.60,1608.776 390.63,1610.498 393.67,1612.194 396.70,1613.865 399.74,1615.513 402.77,1617.136 405.81,1618.736 408.84,1620.313 411.88,1621.867 414.91,1623.398 417.95,1624.907 420.98,1626.395 424.02,1627.861 427.05,1629.305 430.09,1630.729 433.12,1632.132 436.16,1633.515 439.19,1634.878 442.23,1636.221 445.26,1637.545 448.30,1638.849 451.34,1640.135 454.37,1641.402 457.41,1642.651 460.44,1643.882 463.48,1645.095 466.51,1646.290 469.55,1647.469 472.58,1648.630 475.62,1649.774 478.65,1650.902 481.69,1652.014 484.72,1653.110 487.76,1654.190 490.79,1655.254 493.83,1656.303 496.86,1657.336 499.90,1658.355 502.93,1659.359 505.97,1660.349 509.00,1661.325 512.04,1662.286 515.07,1663.233 518.11,1664.167 521.14,1665.088 524.18,1665.995 527.21,1666.889 530.25,1667.770 533.28,1668.638 536.32,1669.494 539.35,1670.338 542.39,1671.169 545.42,1671.989 548.46,1672.796 551.49,1673.592 554.53,1674.377 557.56,1675.150 560.60,1675.912 563.64,1676.663 566.67,1677.403 569.71,1678.133 572.74,1678.852 575.78,1679.561 578.81,1680.259 581.85,1680.948 584.88,1681.626 587.92,1682.295 590.95,1682.954 593.99,1683.603 597.02,1684.244 600.06,1684.875 603.09,1685.496 606.13,1686.109 609.16,1686.713 612.20,1687.309 615.23,1687.896 618.27,1688.474 621.30,1689.044 624.34,1689.605 627.37,1690.159 630.41,1690.705 633.44,1691.242 636.48,1691.772 639.51,1692.295 642.55,1692.809 645.58,1693.317 648.62,1693.817 651.65,1694.310 654.69,1694.795 657.72,1695.274 660.76,1695.746 663.79,1696.210 666.83,1696.669 669.86,1697.120 672.90,1697.565 675.94,1698.004 678.97,1698.436 682.01,1698.862 685.04,1699.281 688.08,1699.695 691.11,1700.103 694.15,1700.505 697.18,1700.900 700.22,1701.291 703.25,1701.675 706.29,1702.054 709.32,1702.428 712.36,1702.796 715.39,1703.158 718.43,1703.516 721.46,1703.868 724.50,1704.215 727.53,1704.557 730.57,1704.894 733.60,1705.226 736.64,1705.553 739.67,1705.876 742.71,1706.193 745.74,1706.507 748.78,1706.815 751.81,1707.119 754.85,1707.419 757.88,1707.714 760.92,1708.005 763.95,1708.292 766.99,1708.574 770.02,1708.853 773.06,1709.127 776.09,1709.397 779.13,1709.663 782.16,1709.926 785.20,1710.184 788.24,1710.439 791.27,1710.690 794.31,1710.937 797.34,1711.181 800.38,1711.421 803.41,1711.657 806.45,1711.890 809.48,1712.120 812.52,1712.346 815.55,1712.569 818.59,1712.788 821.62,1713.005 824.66,1713.218 827.69,1713.428 830.73,1713.635 833.76,1713.838 836.80,1714.039 839.83,1714.237 842.87,1714.432 845.90,1714.624 848.94,1714.813 851.97,1714.999 855.01,1715.182 858.04,1715.363 861.08,1715.541 864.11,1715.716 867.15,1715.889 870.18,1716.059 873.22,1716.227 876.25,1716.392 879.29,1716.554 882.32,1716.714 885.36,1716.872 888.39,1717.028 891.43,1717.181 894.46,1717.331 897.50,1717.480" fill="none" stroke="#000" stroke-width="4.2" stroke-dasharray="11.5 16" stroke-linejoin="round"/><path d="M111.40,1276.179 114.44,1283.349 117.47,1290.404 120.51,1297.345 123.54,1304.175 126.58,1310.896 129.61,1317.509 132.65,1324.015 135.68,1330.418 138.72,1336.717 141.75,1342.916 144.79,1349.015 147.82,1355.017 150.86,1360.923 153.89,1366.734 156.93,1372.451 159.96,1378.078 163.00,1383.614 166.03,1389.062 169.07,1394.422 172.10,1399.697 175.14,1404.888 178.17,1409.995 181.21,1415.021 184.24,1419.967 187.28,1424.833 190.31,1429.622 193.35,1434.334 196.38,1438.971 199.42,1443.534 202.45,1448.024 205.49,1452.443 208.52,1456.790 211.56,1461.069 214.59,1465.279 217.63,1469.422 220.66,1473.499 223.70,1477.511 226.74,1481.459 229.77,1485.344 232.81,1489.167 235.84,1492.929 238.88,1496.631 241.91,1500.275 244.95,1503.860 247.98,1507.388 251.02,1510.860 254.05,1514.276 257.09,1517.638 260.12,1520.947 263.16,1524.203 266.19,1527.407 269.23,1530.560 272.26,1533.663 275.30,1536.716 278.33,1539.721 281.37,1542.678 284.40,1545.588 287.44,1548.452 290.47,1551.270 293.51,1554.043 296.54,1556.772 299.58,1559.458 302.61,1562.101 305.65,1564.702 308.68,1567.262 311.72,1569.781 314.75,1572.259 317.79,1574.699 320.82,1577.100 323.86,1579.462 326.89,1581.787 329.93,1584.075 332.96,1586.326 336.00,1588.542 339.04,1590.723 342.07,1592.869 345.11,1594.980 348.14,1597.058 351.18,1599.104 354.21,1601.116 357.25,1603.097 360.28,1605.046 363.32,1606.964 366.35,1608.852 369.39,1610.709 372.42,1612.537 375.46,1614.336 378.49,1616.107 381.53,1617.849 384.56,1619.563 387.60,1621.250 390.63,1622.911 393.67,1624.545 396.70,1626.153 399.74,1627.735 402.77,1629.292 405.81,1630.825 408.84,1632.333 411.88,1633.817 414.91,1635.277 417.95,1636.714 420.98,1638.129 424.02,1639.520 427.05,1640.890 430.09,1642.238 433.12,1643.564 436.16,1644.869 439.19,1646.153 442.23,1647.417 445.26,1648.661 448.30,1649.885 451.34,1651.089 454.37,1652.274 457.41,1653.440 460.44,1654.588 463.48,1655.717 466.51,1656.829 469.55,1657.922 472.58,1658.998 475.62,1660.057 478.65,1661.099 481.69,1662.124 484.72,1663.133 487.76,1664.126 490.79,1665.103 493.83,1666.064 496.86,1667.010 499.90,1667.940 502.93,1668.856 505.97,1669.757 509.00,1670.644 512.04,1671.517 515.07,1672.375 518.11,1673.220 521.14,1674.051 524.18,1674.869 527.21,1675.674 530.25,1676.465 533.28,1677.244 536.32,1678.011 539.35,1678.765 542.39,1679.507 545.42,1680.237 548.46,1680.956 551.49,1681.662 554.53,1682.358 557.56,1683.042 560.60,1683.715 563.64,1684.377 566.67,1685.029 569.71,1685.670 572.74,1686.301 575.78,1686.921 578.81,1687.532 581.85,1688.132 584.88,1688.723 587.92,1689.304 590.95,1689.876 593.99,1690.439 597.02,1690.992 600.06,1691.537 603.09,1692.073 606.13,1692.599 609.16,1693.118 612.20,1693.628 615.23,1694.129 618.27,1694.623 621.30,1695.108 624.34,1695.586 627.37,1696.055 630.41,1696.517 633.44,1696.972 636.48,1697.419 639.51,1697.858 642.55,1698.291 645.58,1698.716 648.62,1699.134 651.65,1699.546 654.69,1699.951 657.72,1700.349 660.76,1700.740 663.79,1701.125 666.83,1701.504 669.86,1701.877 672.90,1702.243 675.94,1702.603 678.97,1702.957 682.01,1703.306 685.04,1703.648 688.08,1703.985 691.11,1704.317 694.15,1704.643 697.18,1704.963 700.22,1705.278 703.25,1705.588 706.29,1705.893 709.32,1706.192 712.36,1706.487 715.39,1706.776 718.43,1707.061 721.46,1707.341 724.50,1707.616 727.53,1707.887 730.57,1708.153 733.60,1708.414 736.64,1708.672 739.67,1708.924 742.71,1709.173 745.74,1709.417 748.78,1709.657 751.81,1709.893 754.85,1710.126 757.88,1710.354 760.92,1710.578 763.95,1710.798 766.99,1711.015 770.02,1711.228 773.06,1711.437 776.09,1711.643 779.13,1711.845 782.16,1712.043 785.20,1712.238 788.24,1712.430 791.27,1712.619 794.31,1712.804 797.34,1712.986 800.38,1713.165 803.41,1713.341 806.45,1713.513 809.48,1713.683 812.52,1713.849 815.55,1714.013 818.59,1714.174 821.62,1714.332 824.66,1714.487 827.69,1714.640 830.73,1714.789 833.76,1714.936 836.80,1715.081 839.83,1715.223 842.87,1715.362 845.90,1715.499 848.94,1715.633 851.97,1715.765 855.01,1715.895 858.04,1716.022 861.08,1716.147 864.11,1716.270 867.15,1716.390 870.18,1716.509 873.22,1716.625 876.25,1716.739 879.29,1716.851 882.32,1716.960 885.36,1717.068 888.39,1717.174 891.43,1717.278 894.46,1717.380 897.50,1717.480" fill="none" stroke="#000" stroke-width="4.2" stroke-dasharray="11.5 16" stroke-linejoin="round"/><path d="M111.40,1276.179 114.44,1283.801 117.47,1291.293 120.51,1298.659 123.54,1305.900 126.58,1313.019 129.61,1320.017 132.65,1326.896 135.68,1333.659 138.72,1340.308 141.75,1346.844 144.79,1353.269 147.82,1359.585 150.86,1365.795 153.89,1371.899 156.93,1377.900 159.96,1383.800 163.00,1389.600 166.03,1395.301 169.07,1400.906 172.10,1406.416 175.14,1411.832 178.17,1417.157 181.21,1422.392 184.24,1427.538 187.28,1432.597 190.31,1437.570 193.35,1442.459 196.38,1447.266 199.42,1451.990 202.45,1456.635 205.49,1461.201 208.52,1465.690 211.56,1470.103 214.59,1474.441 217.63,1478.705 220.66,1482.898 223.70,1487.019 226.74,1491.070 229.77,1495.053 232.81,1498.968 235.84,1502.817 238.88,1506.600 241.91,1510.320 244.95,1513.976 247.98,1517.570 251.02,1521.103 254.05,1524.577 257.09,1527.991 260.12,1531.348 263.16,1534.648 266.19,1537.891 269.23,1541.080 272.26,1544.214 275.30,1547.295 278.33,1550.324 281.37,1553.302 284.40,1556.229 287.44,1559.106 290.47,1561.934 293.51,1564.714 296.54,1567.447 299.58,1570.134 302.61,1572.775 305.65,1575.370 308.68,1577.922 311.72,1580.431 314.75,1582.896 317.79,1585.320 320.82,1587.702 323.86,1590.044 326.89,1592.346 329.93,1594.609 332.96,1596.833 336.00,1599.020 339.04,1601.169 342.07,1603.281 345.11,1605.358 348.14,1607.399 351.18,1609.405 354.21,1611.377 357.25,1613.315 360.28,1615.220 363.32,1617.093 366.35,1618.933 369.39,1620.742 372.42,1622.521 375.46,1624.268 378.49,1625.986 381.53,1627.675 384.56,1629.334 387.60,1630.966 390.63,1632.569 393.67,1634.145 396.70,1635.693 399.74,1637.216 402.77,1638.712 405.81,1640.182 408.84,1641.627 411.88,1643.048 414.91,1644.444 417.95,1645.816 420.98,1647.164 424.02,1648.489 427.05,1649.792 430.09,1651.072 433.12,1652.329 436.16,1653.566 439.19,1654.781 442.23,1655.975 445.26,1657.148 448.30,1658.301 451.34,1659.434 454.37,1660.548 457.41,1661.643 460.44,1662.718 463.48,1663.775 466.51,1664.813 469.55,1665.834 472.58,1666.837 475.62,1667.822 478.65,1668.791 481.69,1669.743 484.72,1670.678 487.76,1671.596 490.79,1672.499 493.83,1673.386 496.86,1674.258 499.90,1675.115 502.93,1675.956 505.97,1676.783 509.00,1677.596 512.04,1678.394 515.07,1679.178 518.11,1679.949 521.14,1680.706 524.18,1681.450 527.21,1682.181 530.25,1682.899 533.28,1683.605 536.32,1684.298 539.35,1684.978 542.39,1685.647 545.42,1686.305 548.46,1686.950 551.49,1687.584 554.53,1688.207 557.56,1688.819 560.60,1689.421 563.64,1690.011 566.67,1690.591 569.71,1691.161 572.74,1691.721 575.78,1692.271 578.81,1692.811 581.85,1693.341 584.88,1693.862 587.92,1694.374 590.95,1694.877 593.99,1695.370 597.02,1695.855 600.06,1696.332 603.09,1696.799 606.13,1697.258 609.16,1697.710 612.20,1698.153 615.23,1698.588 618.27,1699.015 621.30,1699.434 624.34,1699.846 627.37,1700.251 630.41,1700.648 633.44,1701.038 636.48,1701.421 639.51,1701.797 642.55,1702.166 645.58,1702.529 648.62,1702.885 651.65,1703.234 654.69,1703.577 657.72,1703.914 660.76,1704.244 663.79,1704.569 666.83,1704.888 669.86,1705.200 672.90,1705.507 675.94,1705.809 678.97,1706.105 682.01,1706.395 685.04,1706.680 688.08,1706.960 691.11,1707.234 694.15,1707.504 697.18,1707.768 700.22,1708.028 703.25,1708.282 706.29,1708.532 709.32,1708.778 712.36,1709.018 715.39,1709.254 718.43,1709.486 721.46,1709.713 724.50,1709.936 727.53,1710.155 730.57,1710.370 733.60,1710.580 736.64,1710.787 739.67,1710.990 742.71,1711.188 745.74,1711.383 748.78,1711.575 751.81,1711.762 754.85,1711.946 757.88,1712.127 760.92,1712.304 763.95,1712.477 766.99,1712.647 770.02,1712.814 773.06,1712.978 776.09,1713.138 779.13,1713.296 782.16,1713.450 785.20,1713.601 788.24,1713.749 791.27,1713.894 794.31,1714.037 797.34,1714.176 800.38,1714.313 803.41,1714.447 806.45,1714.579 809.48,1714.707 812.52,1714.834 815.55,1714.957 818.59,1715.078 821.62,1715.197 824.66,1715.313 827.69,1715.427 830.73,1715.539 833.76,1715.648 836.80,1715.755 839.83,1715.860 842.87,1715.962 845.90,1716.063 848.94,1716.161 851.97,1716.258 855.01,1716.352 858.04,1716.444 861.08,1716.535 864.11,1716.623 867.15,1716.710 870.18,1716.795 873.22,1716.878 876.25,1716.959 879.29,1717.038 882.32,1717.116 885.36,1717.192 888.39,1717.266 891.43,1717.339 894.46,1717.410 897.50,1717.480" fill="none" stroke="#000" stroke-width="4.2" stroke-dasharray="11.5 16" stroke-linejoin="round"/><path d="M111.40,1276.179 114.44,1284.332 117.47,1292.336 120.51,1300.194 123.54,1307.908 126.58,1315.480 129.61,1322.915 132.65,1330.213 135.68,1337.378 138.72,1344.412 141.75,1351.318 144.79,1358.097 147.82,1364.753 150.86,1371.287 153.89,1377.701 156.93,1383.999 159.96,1390.181 163.00,1396.251 166.03,1402.209 169.07,1408.059 172.10,1413.802 175.14,1419.441 178.17,1424.976 181.21,1430.410 184.24,1435.745 187.28,1440.983 190.31,1446.126 193.35,1451.174 196.38,1456.131 199.42,1460.997 202.45,1465.774 205.49,1470.464 208.52,1475.068 211.56,1479.589 214.59,1484.027 217.63,1488.384 220.66,1492.662 223.70,1496.862 226.74,1500.985 229.77,1505.033 232.81,1509.008 235.84,1512.910 238.88,1516.740 241.91,1520.501 244.95,1524.193 247.98,1527.818 251.02,1531.377 254.05,1534.872 257.09,1538.302 260.12,1541.670 263.16,1544.976 266.19,1548.222 269.23,1551.410 272.26,1554.538 275.30,1557.610 278.33,1560.626 281.37,1563.587 284.40,1566.494 287.44,1569.348 290.47,1572.150 293.51,1574.901 296.54,1577.602 299.58,1580.253 302.61,1582.856 305.65,1585.412 308.68,1587.921 311.72,1590.384 314.75,1592.803 317.79,1595.177 320.82,1597.508 323.86,1599.796 326.89,1602.043 329.93,1604.248 332.96,1606.414 336.00,1608.540 339.04,1610.627 342.07,1612.676 345.11,1614.687 348.14,1616.662 351.18,1618.601 354.21,1620.504 357.25,1622.373 360.28,1624.207 363.32,1626.008 366.35,1627.776 369.39,1629.512 372.42,1631.216 375.46,1632.889 378.49,1634.531 381.53,1636.143 384.56,1637.726 387.60,1639.279 390.63,1640.805 393.67,1642.302 396.70,1643.772 399.74,1645.215 402.77,1646.631 405.81,1648.022 408.84,1649.387 411.88,1650.727 414.91,1652.043 417.95,1653.334 420.98,1654.602 424.02,1655.846 427.05,1657.068 430.09,1658.267 433.12,1659.444 436.16,1660.600 439.19,1661.734 442.23,1662.847 445.26,1663.940 448.30,1665.013 451.34,1666.066 454.37,1667.100 457.41,1668.115 460.44,1669.110 463.48,1670.088 466.51,1671.048 469.55,1671.990 472.58,1672.914 475.62,1673.821 478.65,1674.712 481.69,1675.586 484.72,1676.444 487.76,1677.287 490.79,1678.113 493.83,1678.925 496.86,1679.721 499.90,1680.502 502.93,1681.269 505.97,1682.022 509.00,1682.761 512.04,1683.486 515.07,1684.198 518.11,1684.896 521.14,1685.582 524.18,1686.255 527.21,1686.915 530.25,1687.563 533.28,1688.199 536.32,1688.823 539.35,1689.435 542.39,1690.036 545.42,1690.625 548.46,1691.204 551.49,1691.772 554.53,1692.329 557.56,1692.876 560.60,1693.412 563.64,1693.939 566.67,1694.456 569.71,1694.962 572.74,1695.460 575.78,1695.948 578.81,1696.427 581.85,1696.896 584.88,1697.357 587.92,1697.810 590.95,1698.253 593.99,1698.689 597.02,1699.116 600.06,1699.535 603.09,1699.946 606.13,1700.349 609.16,1700.745 612.20,1701.133 615.23,1701.514 618.27,1701.887 621.30,1702.253 624.34,1702.613 627.37,1702.965 630.41,1703.311 633.44,1703.650 636.48,1703.983 639.51,1704.309 642.55,1704.629 645.58,1704.943 648.62,1705.251 651.65,1705.553 654.69,1705.849 657.72,1706.140 660.76,1706.425 663.79,1706.704 666.83,1706.978 669.86,1707.246 672.90,1707.510 675.94,1707.768 678.97,1708.021 682.01,1708.270 685.04,1708.513 688.08,1708.752 691.11,1708.986 694.15,1709.215 697.18,1709.440 700.22,1709.661 703.25,1709.877 706.29,1710.089 709.32,1710.297 712.36,1710.500 715.39,1710.700 718.43,1710.896 721.46,1711.087 724.50,1711.275 727.53,1711.460 730.57,1711.640 733.60,1711.817 736.64,1711.990 739.67,1712.160 742.71,1712.327 745.74,1712.490 748.78,1712.650 751.81,1712.807 754.85,1712.960 757.88,1713.110 760.92,1713.258 763.95,1713.402 766.99,1713.543 770.02,1713.682 773.06,1713.817 776.09,1713.950 779.13,1714.080 782.16,1714.208 785.20,1714.333 788.24,1714.455 791.27,1714.575 794.31,1714.692 797.34,1714.807 800.38,1714.919 803.41,1715.029 806.45,1715.137 809.48,1715.242 812.52,1715.345 815.55,1715.446 818.59,1715.545 821.62,1715.642 824.66,1715.736 827.69,1715.829 830.73,1715.920 833.76,1716.009 836.80,1716.095 839.83,1716.180 842.87,1716.263 845.90,1716.345 848.94,1716.424 851.97,1716.502 855.01,1716.578 858.04,1716.652 861.08,1716.725 864.11,1716.796 867.15,1716.866 870.18,1716.933 873.22,1717.000 876.25,1717.065 879.29,1717.128 882.32,1717.190 885.36,1717.251 888.39,1717.310 891.43,1717.368 894.46,1717.424 897.50,1717.480" fill="none" stroke="#000" stroke-width="4.2" stroke-dasharray="11.5 16" stroke-linejoin="round"/></g><rect x="384.55" y="1281.543" width="500.20" height="103.500" rx="1.5" fill="#fff" stroke="#000" stroke-width="6.5"/><line x1="398.8" x2="441.3" y1="1309.512" y2="1309.512" stroke="#ffff00" stroke-width="2.7"/><line x1="399.4" x2="414.6" y1="1357.317" y2="1357.317" stroke="#000" stroke-width="3.4"/><line x1="429.8" x2="439.6" y1="1357.317" y2="1357.317" stroke="#000" stroke-width="3.4"/><rect x="95.50" y="1252.846" width="817.80" height="488.780" fill="none" stroke="#000" stroke-width="2.1"/></g><text x="0" y="0" font-family="Liberation Sans" font-size="100" font-weight="bold" transform="translate(2.79,1492.26) scale(0.4031,0.4352)" ><tspan >C</tspan></text><text x="0" y="0" font-family="Liberation Sans" font-size="100" font-weight="normal" stroke="#fff" stroke-width="1.2" transform="translate(409.49,1515.40) scale(0.3134,0.3739)" ><tspan >M=0.3,</tspan><tspan font-style="italic">γ</tspan><tspan dy="22.000" font-size="71.000">1</tspan><tspan dy="-22.000" dx="5.000">=0.3</tspan></text><text x="0" y="0" font-family="Liberation Sans" font-size="100" font-weight="normal" stroke="#fff" stroke-width="1.2" transform="translate(453.12,1619.20) scale(0.2970,0.3377)" ><tspan >(Al</tspan><tspan dy="22.000" font-size="71.000">2</tspan><tspan dy="-22.000">O</tspan><tspan dy="22.000" font-size="71.000">3</tspan><tspan dy="-22.000">−Fe</tspan><tspan dy="22.000" font-size="71.000">3</tspan><tspan dy="-22.000">O</tspan><tspan dy="22.000" font-size="71.000">4</tspan><tspan dy="-22.000">)/blood,</tspan><tspan font-style="italic">ϕ</tspan><tspan dy="22.000" font-size="71.000">1</tspan><tspan dy="-22.000">=</tspan><tspan font-style="italic">ϕ</tspan><tspan dy="22.000" font-size="71.000">2</tspan><tspan dy="-22.000">=0.1</tspan></text><text x="0" y="0" font-family="Liberation Sans" font-size="100" font-weight="normal" stroke="#fff" stroke-width="1.2" transform="translate(454.90,1678.70) scale(0.2908,0.3377)" ><tspan >Al</tspan><tspan dy="22.000" font-size="71.000">2</tspan><tspan dy="-22.000">O</tspan><tspan dy="22.000" font-size="71.000">3</tspan><tspan dy="-22.000">−/blood,</tspan><tspan font-style="italic">ϕ</tspan><tspan dy="22.000" font-size="71.000">1</tspan><tspan dy="-22.000">=0.1</tspan></text><text x="0" y="0" font-family="Liberation Sans" font-size="100" font-weight="normal" stroke="#fff" stroke-width="1.2" transform="translate(508.68,1768.60) scale(0.2405,0.2826)" ><tspan font-style="italic">S</tspan><tspan dy="22.000" font-size="71.000" font-style="italic">t</tspan><tspan dy="-22.000" dx="8.000">=1,2,3,4,5,6</tspan></text><text x="0" y="0" font-family="Liberation Sans" font-size="100" font-weight="normal" stroke="#fff" stroke-width="1.2" transform="translate(497.30,2235.43) scale(0.3000,0.3653)" ><tspan font-style="italic">η</tspan></text><text x="0" y="0" font-family="Liberation Sans" font-size="100" font-weight="normal" stroke="#fff" stroke-width="1.2" transform="translate(29.49,1873.46) rotate(-90) scale(0.3709,0.3053)" ><tspan font-style="italic">β</tspan><tspan >(</tspan><tspan font-style="italic">η</tspan><tspan >)</tspan></text><text x="0" y="0" font-family="Liberation Sans" font-size="100" font-weight="normal" stroke="#fff" stroke-width="1.2" transform="translate(45.56,2125.35) scale(0.3040,0.3725)" ><tspan >0.0</tspan></text><text x="0" y="0" font-family="Liberation Sans" font-size="100" font-weight="normal" stroke="#fff" stroke-width="1.2" transform="translate(45.86,2016.79) scale(0.3040,0.3725)" ><tspan >0.2</tspan></text><text x="0" y="0" font-family="Liberation Sans" font-size="100" font-weight="normal" stroke="#fff" stroke-width="1.2" transform="translate(45.26,1908.23) scale(0.3040,0.3725)" ><tspan >0.4</tspan></text><text x="0" y="0" font-family="Liberation Sans" font-size="100" font-weight="normal" stroke="#fff" stroke-width="1.2" transform="translate(45.56,1799.67) scale(0.3040,0.3725)" ><tspan >0.6</tspan></text><text x="0" y="0" font-family="Liberation Sans" font-size="100" font-weight="normal" stroke="#fff" stroke-width="1.2" transform="translate(45.56,1691.11) scale(0.3040,0.3725)" ><tspan >0.8</tspan></text><text x="0" y="0" font-family="Liberation Sans" font-size="100" font-weight="normal" stroke="#fff" stroke-width="1.2" transform="translate(45.56,1582.55) scale(0.3040,0.3725)" ><tspan >1.0</tspan></text><text x="0" y="0" font-family="Liberation Sans" font-size="100" font-weight="normal" stroke="#fff" stroke-width="1.2" transform="translate(102.89,2183.85) scale(0.3040,0.3725)" ><tspan >0</tspan></text><text x="0" y="0" font-family="Liberation Sans" font-size="100" font-weight="normal" stroke="#fff" stroke-width="1.2" transform="translate(233.90,2184.04) scale(0.3040,0.3725)" ><tspan >2</tspan></text><text x="0" y="0" font-family="Liberation Sans" font-size="100" font-weight="normal" stroke="#fff" stroke-width="1.2" transform="translate(365.07,2184.04) scale(0.3040,0.3725)" ><tspan >4</tspan></text><text x="0" y="0" font-family="Liberation Sans" font-size="100" font-weight="normal" stroke="#fff" stroke-width="1.2" transform="translate(495.94,2183.85) scale(0.3040,0.3725)" ><tspan >6</tspan></text><text x="0" y="0" font-family="Liberation Sans" font-size="100" font-weight="normal" stroke="#fff" stroke-width="1.2" transform="translate(627.11,2183.85) scale(0.3040,0.3725)" ><tspan >8</tspan></text><text x="0" y="0" font-family="Liberation Sans" font-size="100" font-weight="normal" stroke="#fff" stroke-width="1.2" transform="translate(749.00,2183.85) scale(0.3040,0.3725)" ><tspan >10</tspan></text><text x="0" y="0" font-family="Liberation Sans" font-size="100" font-weight="normal" stroke="#fff" stroke-width="1.2" transform="translate(880.17,2184.04) scale(0.3040,0.3725)" ><tspan >12</tspan></text><line x1="415.80" y1="1850.00" x2="280.75" y2="2005.25" stroke="#000" stroke-width="2.2"/><polygon points="262.70,2026.00 276.78,1997.16 281.41,2004.50 289.31,2008.06" fill="#000"/></svg></body></html>
